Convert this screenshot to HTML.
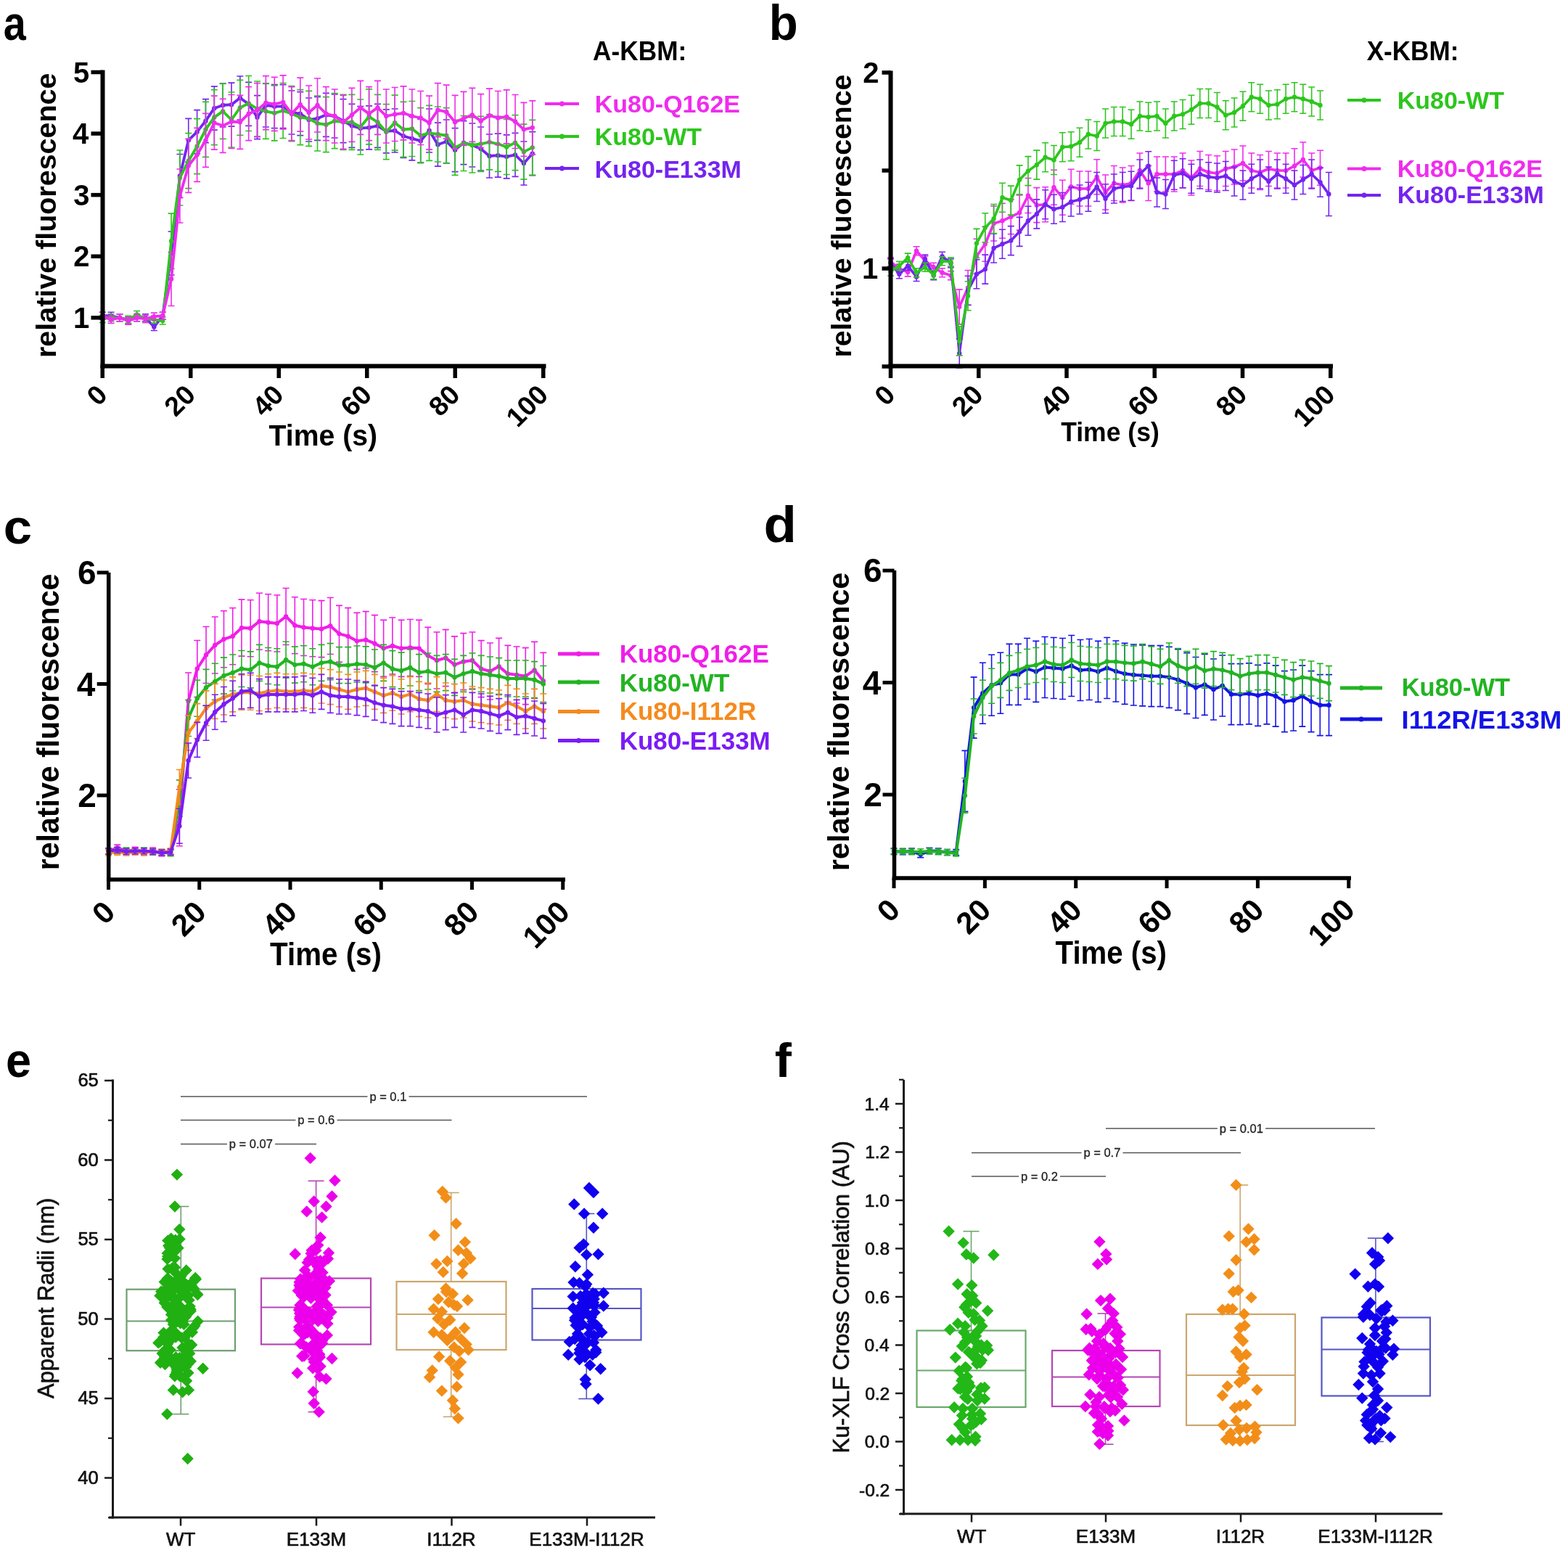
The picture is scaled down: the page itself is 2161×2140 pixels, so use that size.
<!DOCTYPE html>
<html><head><meta charset="utf-8"><style>html,body{margin:0;padding:0;background:#fff;overflow:hidden}svg{display:block}</style></head><body>
<svg width="2161" height="2140" viewBox="0 0 2161 2140" font-family="'Liberation Sans', Arial, sans-serif">
<rect width="2161" height="2140" fill="#fff"/>
<path d="M141.25 440.26V430.26M136.75 440.26h9M136.75 430.26h9" stroke="#7424f0" stroke-width="1.6" fill="none"/>
<path d="M153.1 440.26V430.26M148.6 440.26h9M148.6 430.26h9" stroke="#7424f0" stroke-width="1.6" fill="none"/>
<path d="M164.95 442.8V432.8M160.45 442.8h9M160.45 432.8h9" stroke="#7424f0" stroke-width="1.6" fill="none"/>
<path d="M176.8 447.03V437.03M172.3 447.03h9M172.3 437.03h9" stroke="#7424f0" stroke-width="1.6" fill="none"/>
<path d="M188.65 442.8V432.8M184.15 442.8h9M184.15 432.8h9" stroke="#7424f0" stroke-width="1.6" fill="none"/>
<path d="M200.5 442.8V432.8M196 442.8h9M196 432.8h9" stroke="#7424f0" stroke-width="1.6" fill="none"/>
<path d="M212.35 455.49V445.49M207.85 455.49h9M207.85 445.49h9" stroke="#7424f0" stroke-width="1.6" fill="none"/>
<path d="M224.2 440.26V430.26M219.7 440.26h9M219.7 430.26h9" stroke="#7424f0" stroke-width="1.6" fill="none"/>
<path d="M236.05 379V319M231.55 379h9M231.55 319h9" stroke="#7424f0" stroke-width="1.6" fill="none"/>
<path d="M247.9 272.5V212.5M243.4 272.5h9M243.4 212.5h9" stroke="#7424f0" stroke-width="1.6" fill="none"/>
<path d="M259.75 223.33V163.33M255.25 223.33h9M255.25 163.33h9" stroke="#7424f0" stroke-width="1.6" fill="none"/>
<path d="M271.6 211.67V151.67M267.1 211.67h9M267.1 151.67h9" stroke="#7424f0" stroke-width="1.6" fill="none"/>
<path d="M283.45 196.67V136.67M278.95 196.67h9M278.95 136.67h9" stroke="#7424f0" stroke-width="1.6" fill="none"/>
<path d="M295.3 179.17V119.17M290.8 179.17h9M290.8 119.17h9" stroke="#7424f0" stroke-width="1.6" fill="none"/>
<path d="M307.15 175V115M302.65 175h9M302.65 115h9" stroke="#7424f0" stroke-width="1.6" fill="none"/>
<path d="M319 174.17V114.17M314.5 174.17h9M314.5 114.17h9" stroke="#7424f0" stroke-width="1.6" fill="none"/>
<path d="M330.85 165V105M326.35 165h9M326.35 105h9" stroke="#7424f0" stroke-width="1.6" fill="none"/>
<path d="M342.7 173.33V113.33M338.2 173.33h9M338.2 113.33h9" stroke="#7424f0" stroke-width="1.6" fill="none"/>
<path d="M354.55 191.67V131.67M350.05 191.67h9M350.05 131.67h9" stroke="#7424f0" stroke-width="1.6" fill="none"/>
<path d="M366.4 175V115M361.9 175h9M361.9 115h9" stroke="#7424f0" stroke-width="1.6" fill="none"/>
<path d="M378.25 176.67V116.67M373.75 176.67h9M373.75 116.67h9" stroke="#7424f0" stroke-width="1.6" fill="none"/>
<path d="M390.1 176.67V116.67M385.6 176.67h9M385.6 116.67h9" stroke="#7424f0" stroke-width="1.6" fill="none"/>
<path d="M401.95 185V125M397.45 185h9M397.45 125h9" stroke="#7424f0" stroke-width="1.6" fill="none"/>
<path d="M413.8 186.67V126.67M409.3 186.67h9M409.3 126.67h9" stroke="#7424f0" stroke-width="1.6" fill="none"/>
<path d="M425.65 195V135M421.15 195h9M421.15 135h9" stroke="#7424f0" stroke-width="1.6" fill="none"/>
<path d="M437.5 193.33V133.33M433 193.33h9M433 133.33h9" stroke="#7424f0" stroke-width="1.6" fill="none"/>
<path d="M449.35 188.33V128.33M444.85 188.33h9M444.85 128.33h9" stroke="#7424f0" stroke-width="1.6" fill="none"/>
<path d="M461.2 190V130M456.7 190h9M456.7 130h9" stroke="#7424f0" stroke-width="1.6" fill="none"/>
<path d="M473.05 196.67V136.67M468.55 196.67h9M468.55 136.67h9" stroke="#7424f0" stroke-width="1.6" fill="none"/>
<path d="M484.9 203.33V143.33M480.4 203.33h9M480.4 143.33h9" stroke="#7424f0" stroke-width="1.6" fill="none"/>
<path d="M496.75 206.67V146.67M492.25 206.67h9M492.25 146.67h9" stroke="#7424f0" stroke-width="1.6" fill="none"/>
<path d="M508.6 205.83V145.83M504.1 205.83h9M504.1 145.83h9" stroke="#7424f0" stroke-width="1.6" fill="none"/>
<path d="M520.45 203.33V143.33M515.95 203.33h9M515.95 143.33h9" stroke="#7424f0" stroke-width="1.6" fill="none"/>
<path d="M532.3 210.83V150.83M527.8 210.83h9M527.8 150.83h9" stroke="#7424f0" stroke-width="1.6" fill="none"/>
<path d="M544.15 210V150M539.65 210h9M539.65 150h9" stroke="#7424f0" stroke-width="1.6" fill="none"/>
<path d="M556 217.5V157.5M551.5 217.5h9M551.5 157.5h9" stroke="#7424f0" stroke-width="1.6" fill="none"/>
<path d="M567.85 220.83V160.83M563.35 220.83h9M563.35 160.83h9" stroke="#7424f0" stroke-width="1.6" fill="none"/>
<path d="M579.7 224.17V164.17M575.2 224.17h9M575.2 164.17h9" stroke="#7424f0" stroke-width="1.6" fill="none"/>
<path d="M591.55 210V150M587.05 210h9M587.05 150h9" stroke="#7424f0" stroke-width="1.6" fill="none"/>
<path d="M603.4 229.17V169.17M598.9 229.17h9M598.9 169.17h9" stroke="#7424f0" stroke-width="1.6" fill="none"/>
<path d="M615.25 225V165M610.75 225h9M610.75 165h9" stroke="#7424f0" stroke-width="1.6" fill="none"/>
<path d="M627.1 236.67V176.67M622.6 236.67h9M622.6 176.67h9" stroke="#7424f0" stroke-width="1.6" fill="none"/>
<path d="M638.95 226.67V166.67M634.45 226.67h9M634.45 166.67h9" stroke="#7424f0" stroke-width="1.6" fill="none"/>
<path d="M650.8 230V170M646.3 230h9M646.3 170h9" stroke="#7424f0" stroke-width="1.6" fill="none"/>
<path d="M662.65 235V175M658.15 235h9M658.15 175h9" stroke="#7424f0" stroke-width="1.6" fill="none"/>
<path d="M674.5 245V185M670 245h9M670 185h9" stroke="#7424f0" stroke-width="1.6" fill="none"/>
<path d="M686.35 244.17V184.17M681.85 244.17h9M681.85 184.17h9" stroke="#7424f0" stroke-width="1.6" fill="none"/>
<path d="M698.2 245.83V185.83M693.7 245.83h9M693.7 185.83h9" stroke="#7424f0" stroke-width="1.6" fill="none"/>
<path d="M710.05 243.33V183.33M705.55 243.33h9M705.55 183.33h9" stroke="#7424f0" stroke-width="1.6" fill="none"/>
<path d="M721.9 255V195M717.4 255h9M717.4 195h9" stroke="#7424f0" stroke-width="1.6" fill="none"/>
<path d="M733.75 241.67V181.67M729.25 241.67h9M729.25 181.67h9" stroke="#7424f0" stroke-width="1.6" fill="none"/>
<polyline points="141.25,435.26 153.1,435.26 164.95,437.8 176.8,442.03 188.65,437.8 200.5,437.8 212.35,450.49 224.2,435.26 236.05,349 247.9,242.5 259.75,193.33 271.6,181.67 283.45,166.67 295.3,149.17 307.15,145 319,144.17 330.85,135 342.7,143.33 354.55,161.67 366.4,145 378.25,146.67 390.1,146.67 401.95,155 413.8,156.67 425.65,165 437.5,163.33 449.35,158.33 461.2,160 473.05,166.67 484.9,173.33 496.75,176.67 508.6,175.83 520.45,173.33 532.3,180.83 544.15,180 556,187.5 567.85,190.83 579.7,194.17 591.55,180 603.4,199.17 615.25,195 627.1,206.67 638.95,196.67 650.8,200 662.65,205 674.5,215 686.35,214.17 698.2,215.83 710.05,213.33 721.9,225 733.75,211.67" fill="none" stroke="#7424f0" stroke-width="3.8" stroke-linejoin="round"/>
<circle cx="141.25" cy="435.26" r="3.2" fill="#7424f0"/>
<circle cx="153.1" cy="435.26" r="3.2" fill="#7424f0"/>
<circle cx="164.95" cy="437.8" r="3.2" fill="#7424f0"/>
<circle cx="176.8" cy="442.03" r="3.2" fill="#7424f0"/>
<circle cx="188.65" cy="437.8" r="3.2" fill="#7424f0"/>
<circle cx="200.5" cy="437.8" r="3.2" fill="#7424f0"/>
<circle cx="212.35" cy="450.49" r="3.2" fill="#7424f0"/>
<circle cx="224.2" cy="435.26" r="3.2" fill="#7424f0"/>
<circle cx="236.05" cy="349" r="3.2" fill="#7424f0"/>
<circle cx="247.9" cy="242.5" r="3.2" fill="#7424f0"/>
<circle cx="259.75" cy="193.33" r="3.2" fill="#7424f0"/>
<circle cx="271.6" cy="181.67" r="3.2" fill="#7424f0"/>
<circle cx="283.45" cy="166.67" r="3.2" fill="#7424f0"/>
<circle cx="295.3" cy="149.17" r="3.2" fill="#7424f0"/>
<circle cx="307.15" cy="145" r="3.2" fill="#7424f0"/>
<circle cx="319" cy="144.17" r="3.2" fill="#7424f0"/>
<circle cx="330.85" cy="135" r="3.2" fill="#7424f0"/>
<circle cx="342.7" cy="143.33" r="3.2" fill="#7424f0"/>
<circle cx="354.55" cy="161.67" r="3.2" fill="#7424f0"/>
<circle cx="366.4" cy="145" r="3.2" fill="#7424f0"/>
<circle cx="378.25" cy="146.67" r="3.2" fill="#7424f0"/>
<circle cx="390.1" cy="146.67" r="3.2" fill="#7424f0"/>
<circle cx="401.95" cy="155" r="3.2" fill="#7424f0"/>
<circle cx="413.8" cy="156.67" r="3.2" fill="#7424f0"/>
<circle cx="425.65" cy="165" r="3.2" fill="#7424f0"/>
<circle cx="437.5" cy="163.33" r="3.2" fill="#7424f0"/>
<circle cx="449.35" cy="158.33" r="3.2" fill="#7424f0"/>
<circle cx="461.2" cy="160" r="3.2" fill="#7424f0"/>
<circle cx="473.05" cy="166.67" r="3.2" fill="#7424f0"/>
<circle cx="484.9" cy="173.33" r="3.2" fill="#7424f0"/>
<circle cx="496.75" cy="176.67" r="3.2" fill="#7424f0"/>
<circle cx="508.6" cy="175.83" r="3.2" fill="#7424f0"/>
<circle cx="520.45" cy="173.33" r="3.2" fill="#7424f0"/>
<circle cx="532.3" cy="180.83" r="3.2" fill="#7424f0"/>
<circle cx="544.15" cy="180" r="3.2" fill="#7424f0"/>
<circle cx="556" cy="187.5" r="3.2" fill="#7424f0"/>
<circle cx="567.85" cy="190.83" r="3.2" fill="#7424f0"/>
<circle cx="579.7" cy="194.17" r="3.2" fill="#7424f0"/>
<circle cx="591.55" cy="180" r="3.2" fill="#7424f0"/>
<circle cx="603.4" cy="199.17" r="3.2" fill="#7424f0"/>
<circle cx="615.25" cy="195" r="3.2" fill="#7424f0"/>
<circle cx="627.1" cy="206.67" r="3.2" fill="#7424f0"/>
<circle cx="638.95" cy="196.67" r="3.2" fill="#7424f0"/>
<circle cx="650.8" cy="200" r="3.2" fill="#7424f0"/>
<circle cx="662.65" cy="205" r="3.2" fill="#7424f0"/>
<circle cx="674.5" cy="215" r="3.2" fill="#7424f0"/>
<circle cx="686.35" cy="214.17" r="3.2" fill="#7424f0"/>
<circle cx="698.2" cy="215.83" r="3.2" fill="#7424f0"/>
<circle cx="710.05" cy="213.33" r="3.2" fill="#7424f0"/>
<circle cx="721.9" cy="225" r="3.2" fill="#7424f0"/>
<circle cx="733.75" cy="211.67" r="3.2" fill="#7424f0"/>
<path d="M141.25 444.49V434.49M136.75 444.49h9M136.75 434.49h9" stroke="#2cc61c" stroke-width="1.6" fill="none"/>
<path d="M153.1 442.8V432.8M148.6 442.8h9M148.6 432.8h9" stroke="#2cc61c" stroke-width="1.6" fill="none"/>
<path d="M164.95 442.8V432.8M160.45 442.8h9M160.45 432.8h9" stroke="#2cc61c" stroke-width="1.6" fill="none"/>
<path d="M176.8 445.34V435.34M172.3 445.34h9M172.3 435.34h9" stroke="#2cc61c" stroke-width="1.6" fill="none"/>
<path d="M188.65 438.57V428.57M184.15 438.57h9M184.15 428.57h9" stroke="#2cc61c" stroke-width="1.6" fill="none"/>
<path d="M200.5 444.49V434.49M196 444.49h9M196 434.49h9" stroke="#2cc61c" stroke-width="1.6" fill="none"/>
<path d="M212.35 445.34V435.34M207.85 445.34h9M207.85 435.34h9" stroke="#2cc61c" stroke-width="1.6" fill="none"/>
<path d="M224.2 447.03V437.03M219.7 447.03h9M219.7 437.03h9" stroke="#2cc61c" stroke-width="1.6" fill="none"/>
<path d="M236.05 370.08V294.08M231.55 370.08h9M231.55 294.08h9" stroke="#2cc61c" stroke-width="1.6" fill="none"/>
<path d="M247.9 283V207M243.4 283h9M243.4 207h9" stroke="#2cc61c" stroke-width="1.6" fill="none"/>
<path d="M259.75 259.67V183.67M255.25 259.67h9M255.25 183.67h9" stroke="#2cc61c" stroke-width="1.6" fill="none"/>
<path d="M271.6 239.67V163.67M267.1 239.67h9M267.1 163.67h9" stroke="#2cc61c" stroke-width="1.6" fill="none"/>
<path d="M283.45 216.33V140.33M278.95 216.33h9M278.95 140.33h9" stroke="#2cc61c" stroke-width="1.6" fill="none"/>
<path d="M295.3 199.67V123.67M290.8 199.67h9M290.8 123.67h9" stroke="#2cc61c" stroke-width="1.6" fill="none"/>
<path d="M307.15 191.33V115.33M302.65 191.33h9M302.65 115.33h9" stroke="#2cc61c" stroke-width="1.6" fill="none"/>
<path d="M319 203V127M314.5 203h9M314.5 127h9" stroke="#2cc61c" stroke-width="1.6" fill="none"/>
<path d="M330.85 186.33V110.33M326.35 186.33h9M326.35 110.33h9" stroke="#2cc61c" stroke-width="1.6" fill="none"/>
<path d="M342.7 180.5V104.5M338.2 180.5h9M338.2 104.5h9" stroke="#2cc61c" stroke-width="1.6" fill="none"/>
<path d="M354.55 188V112M350.05 188h9M350.05 112h9" stroke="#2cc61c" stroke-width="1.6" fill="none"/>
<path d="M366.4 191.33V115.33M361.9 191.33h9M361.9 115.33h9" stroke="#2cc61c" stroke-width="1.6" fill="none"/>
<path d="M378.25 193.83V117.83M373.75 193.83h9M373.75 117.83h9" stroke="#2cc61c" stroke-width="1.6" fill="none"/>
<path d="M390.1 190.5V114.5M385.6 190.5h9M385.6 114.5h9" stroke="#2cc61c" stroke-width="1.6" fill="none"/>
<path d="M401.95 194.67V118.67M397.45 194.67h9M397.45 118.67h9" stroke="#2cc61c" stroke-width="1.6" fill="none"/>
<path d="M413.8 199.67V123.67M409.3 199.67h9M409.3 123.67h9" stroke="#2cc61c" stroke-width="1.6" fill="none"/>
<path d="M425.65 201.33V125.33M421.15 201.33h9M421.15 125.33h9" stroke="#2cc61c" stroke-width="1.6" fill="none"/>
<path d="M437.5 208V132M433 208h9M433 132h9" stroke="#2cc61c" stroke-width="1.6" fill="none"/>
<path d="M449.35 209.67V133.67M444.85 209.67h9M444.85 133.67h9" stroke="#2cc61c" stroke-width="1.6" fill="none"/>
<path d="M461.2 204.67V128.67M456.7 204.67h9M456.7 128.67h9" stroke="#2cc61c" stroke-width="1.6" fill="none"/>
<path d="M473.05 206.33V130.33M468.55 206.33h9M468.55 130.33h9" stroke="#2cc61c" stroke-width="1.6" fill="none"/>
<path d="M484.9 206.33V130.33M480.4 206.33h9M480.4 130.33h9" stroke="#2cc61c" stroke-width="1.6" fill="none"/>
<path d="M496.75 213V137M492.25 213h9M492.25 137h9" stroke="#2cc61c" stroke-width="1.6" fill="none"/>
<path d="M508.6 198.83V122.83M504.1 198.83h9M504.1 122.83h9" stroke="#2cc61c" stroke-width="1.6" fill="none"/>
<path d="M520.45 206.33V130.33M515.95 206.33h9M515.95 130.33h9" stroke="#2cc61c" stroke-width="1.6" fill="none"/>
<path d="M532.3 219.67V143.67M527.8 219.67h9M527.8 143.67h9" stroke="#2cc61c" stroke-width="1.6" fill="none"/>
<path d="M544.15 207.17V131.17M539.65 207.17h9M539.65 131.17h9" stroke="#2cc61c" stroke-width="1.6" fill="none"/>
<path d="M556 216.33V140.33M551.5 216.33h9M551.5 140.33h9" stroke="#2cc61c" stroke-width="1.6" fill="none"/>
<path d="M567.85 215.5V139.5M563.35 215.5h9M563.35 139.5h9" stroke="#2cc61c" stroke-width="1.6" fill="none"/>
<path d="M579.7 224.67V148.67M575.2 224.67h9M575.2 148.67h9" stroke="#2cc61c" stroke-width="1.6" fill="none"/>
<path d="M591.55 221.33V145.33M587.05 221.33h9M587.05 145.33h9" stroke="#2cc61c" stroke-width="1.6" fill="none"/>
<path d="M603.4 223V147M598.9 223h9M598.9 147h9" stroke="#2cc61c" stroke-width="1.6" fill="none"/>
<path d="M615.25 224.67V148.67M610.75 224.67h9M610.75 148.67h9" stroke="#2cc61c" stroke-width="1.6" fill="none"/>
<path d="M627.1 241.33V165.33M622.6 241.33h9M622.6 165.33h9" stroke="#2cc61c" stroke-width="1.6" fill="none"/>
<path d="M638.95 235.5V159.5M634.45 235.5h9M634.45 159.5h9" stroke="#2cc61c" stroke-width="1.6" fill="none"/>
<path d="M650.8 238V162M646.3 238h9M646.3 162h9" stroke="#2cc61c" stroke-width="1.6" fill="none"/>
<path d="M662.65 236.33V160.33M658.15 236.33h9M658.15 160.33h9" stroke="#2cc61c" stroke-width="1.6" fill="none"/>
<path d="M674.5 233.83V157.83M670 233.83h9M670 157.83h9" stroke="#2cc61c" stroke-width="1.6" fill="none"/>
<path d="M686.35 236.33V160.33M681.85 236.33h9M681.85 160.33h9" stroke="#2cc61c" stroke-width="1.6" fill="none"/>
<path d="M698.2 240.5V164.5M693.7 240.5h9M693.7 164.5h9" stroke="#2cc61c" stroke-width="1.6" fill="none"/>
<path d="M710.05 234.67V158.67M705.55 234.67h9M705.55 158.67h9" stroke="#2cc61c" stroke-width="1.6" fill="none"/>
<path d="M721.9 247.17V171.17M717.4 247.17h9M717.4 171.17h9" stroke="#2cc61c" stroke-width="1.6" fill="none"/>
<path d="M733.75 241.33V165.33M729.25 241.33h9M729.25 165.33h9" stroke="#2cc61c" stroke-width="1.6" fill="none"/>
<polyline points="141.25,439.49 153.1,437.8 164.95,437.8 176.8,440.34 188.65,433.57 200.5,439.49 212.35,440.34 224.2,442.03 236.05,332.08 247.9,245 259.75,221.67 271.6,201.67 283.45,178.33 295.3,161.67 307.15,153.33 319,165 330.85,148.33 342.7,142.5 354.55,150 366.4,153.33 378.25,155.83 390.1,152.5 401.95,156.67 413.8,161.67 425.65,163.33 437.5,170 449.35,171.67 461.2,166.67 473.05,168.33 484.9,168.33 496.75,175 508.6,160.83 520.45,168.33 532.3,181.67 544.15,169.17 556,178.33 567.85,177.5 579.7,186.67 591.55,183.33 603.4,185 615.25,186.67 627.1,203.33 638.95,197.5 650.8,200 662.65,198.33 674.5,195.83 686.35,198.33 698.2,202.5 710.05,196.67 721.9,209.17 733.75,203.33" fill="none" stroke="#2cc61c" stroke-width="3.8" stroke-linejoin="round"/>
<circle cx="141.25" cy="439.49" r="3.2" fill="#2cc61c"/>
<circle cx="153.1" cy="437.8" r="3.2" fill="#2cc61c"/>
<circle cx="164.95" cy="437.8" r="3.2" fill="#2cc61c"/>
<circle cx="176.8" cy="440.34" r="3.2" fill="#2cc61c"/>
<circle cx="188.65" cy="433.57" r="3.2" fill="#2cc61c"/>
<circle cx="200.5" cy="439.49" r="3.2" fill="#2cc61c"/>
<circle cx="212.35" cy="440.34" r="3.2" fill="#2cc61c"/>
<circle cx="224.2" cy="442.03" r="3.2" fill="#2cc61c"/>
<circle cx="236.05" cy="332.08" r="3.2" fill="#2cc61c"/>
<circle cx="247.9" cy="245" r="3.2" fill="#2cc61c"/>
<circle cx="259.75" cy="221.67" r="3.2" fill="#2cc61c"/>
<circle cx="271.6" cy="201.67" r="3.2" fill="#2cc61c"/>
<circle cx="283.45" cy="178.33" r="3.2" fill="#2cc61c"/>
<circle cx="295.3" cy="161.67" r="3.2" fill="#2cc61c"/>
<circle cx="307.15" cy="153.33" r="3.2" fill="#2cc61c"/>
<circle cx="319" cy="165" r="3.2" fill="#2cc61c"/>
<circle cx="330.85" cy="148.33" r="3.2" fill="#2cc61c"/>
<circle cx="342.7" cy="142.5" r="3.2" fill="#2cc61c"/>
<circle cx="354.55" cy="150" r="3.2" fill="#2cc61c"/>
<circle cx="366.4" cy="153.33" r="3.2" fill="#2cc61c"/>
<circle cx="378.25" cy="155.83" r="3.2" fill="#2cc61c"/>
<circle cx="390.1" cy="152.5" r="3.2" fill="#2cc61c"/>
<circle cx="401.95" cy="156.67" r="3.2" fill="#2cc61c"/>
<circle cx="413.8" cy="161.67" r="3.2" fill="#2cc61c"/>
<circle cx="425.65" cy="163.33" r="3.2" fill="#2cc61c"/>
<circle cx="437.5" cy="170" r="3.2" fill="#2cc61c"/>
<circle cx="449.35" cy="171.67" r="3.2" fill="#2cc61c"/>
<circle cx="461.2" cy="166.67" r="3.2" fill="#2cc61c"/>
<circle cx="473.05" cy="168.33" r="3.2" fill="#2cc61c"/>
<circle cx="484.9" cy="168.33" r="3.2" fill="#2cc61c"/>
<circle cx="496.75" cy="175" r="3.2" fill="#2cc61c"/>
<circle cx="508.6" cy="160.83" r="3.2" fill="#2cc61c"/>
<circle cx="520.45" cy="168.33" r="3.2" fill="#2cc61c"/>
<circle cx="532.3" cy="181.67" r="3.2" fill="#2cc61c"/>
<circle cx="544.15" cy="169.17" r="3.2" fill="#2cc61c"/>
<circle cx="556" cy="178.33" r="3.2" fill="#2cc61c"/>
<circle cx="567.85" cy="177.5" r="3.2" fill="#2cc61c"/>
<circle cx="579.7" cy="186.67" r="3.2" fill="#2cc61c"/>
<circle cx="591.55" cy="183.33" r="3.2" fill="#2cc61c"/>
<circle cx="603.4" cy="185" r="3.2" fill="#2cc61c"/>
<circle cx="615.25" cy="186.67" r="3.2" fill="#2cc61c"/>
<circle cx="627.1" cy="203.33" r="3.2" fill="#2cc61c"/>
<circle cx="638.95" cy="197.5" r="3.2" fill="#2cc61c"/>
<circle cx="650.8" cy="200" r="3.2" fill="#2cc61c"/>
<circle cx="662.65" cy="198.33" r="3.2" fill="#2cc61c"/>
<circle cx="674.5" cy="195.83" r="3.2" fill="#2cc61c"/>
<circle cx="686.35" cy="198.33" r="3.2" fill="#2cc61c"/>
<circle cx="698.2" cy="202.5" r="3.2" fill="#2cc61c"/>
<circle cx="710.05" cy="196.67" r="3.2" fill="#2cc61c"/>
<circle cx="721.9" cy="209.17" r="3.2" fill="#2cc61c"/>
<circle cx="733.75" cy="203.33" r="3.2" fill="#2cc61c"/>
<path d="M141.25 440.26V430.26M136.75 440.26h9M136.75 430.26h9" stroke="#f02cee" stroke-width="1.6" fill="none"/>
<path d="M153.1 445.34V435.34M148.6 445.34h9M148.6 435.34h9" stroke="#f02cee" stroke-width="1.6" fill="none"/>
<path d="M164.95 442.8V432.8M160.45 442.8h9M160.45 432.8h9" stroke="#f02cee" stroke-width="1.6" fill="none"/>
<path d="M176.8 447.03V437.03M172.3 447.03h9M172.3 437.03h9" stroke="#f02cee" stroke-width="1.6" fill="none"/>
<path d="M188.65 442.8V432.8M184.15 442.8h9M184.15 432.8h9" stroke="#f02cee" stroke-width="1.6" fill="none"/>
<path d="M200.5 444.49V434.49M196 444.49h9M196 434.49h9" stroke="#f02cee" stroke-width="1.6" fill="none"/>
<path d="M212.35 441.11V431.11M207.85 441.11h9M207.85 431.11h9" stroke="#f02cee" stroke-width="1.6" fill="none"/>
<path d="M224.2 440.26V430.26M219.7 440.26h9M219.7 430.26h9" stroke="#f02cee" stroke-width="1.6" fill="none"/>
<path d="M236.05 421.52V347.52M231.55 421.52h9M231.55 347.52h9" stroke="#f02cee" stroke-width="1.6" fill="none"/>
<path d="M247.9 307V233M243.4 307h9M243.4 233h9" stroke="#f02cee" stroke-width="1.6" fill="none"/>
<path d="M259.75 265.33V191.33M255.25 265.33h9M255.25 191.33h9" stroke="#f02cee" stroke-width="1.6" fill="none"/>
<path d="M271.6 250.33V176.33M267.1 250.33h9M267.1 176.33h9" stroke="#f02cee" stroke-width="1.6" fill="none"/>
<path d="M283.45 230.33V156.33M278.95 230.33h9M278.95 156.33h9" stroke="#f02cee" stroke-width="1.6" fill="none"/>
<path d="M295.3 206.17V132.17M290.8 206.17h9M290.8 132.17h9" stroke="#f02cee" stroke-width="1.6" fill="none"/>
<path d="M307.15 210.33V136.33M302.65 210.33h9M302.65 136.33h9" stroke="#f02cee" stroke-width="1.6" fill="none"/>
<path d="M319 204.5V130.5M314.5 204.5h9M314.5 130.5h9" stroke="#f02cee" stroke-width="1.6" fill="none"/>
<path d="M330.85 205.33V131.33M326.35 205.33h9M326.35 131.33h9" stroke="#f02cee" stroke-width="1.6" fill="none"/>
<path d="M342.7 193.67V119.67M338.2 193.67h9M338.2 119.67h9" stroke="#f02cee" stroke-width="1.6" fill="none"/>
<path d="M354.55 188.67V114.67M350.05 188.67h9M350.05 114.67h9" stroke="#f02cee" stroke-width="1.6" fill="none"/>
<path d="M366.4 178.67V104.67M361.9 178.67h9M361.9 104.67h9" stroke="#f02cee" stroke-width="1.6" fill="none"/>
<path d="M378.25 180.33V106.33M373.75 180.33h9M373.75 106.33h9" stroke="#f02cee" stroke-width="1.6" fill="none"/>
<path d="M390.1 177.83V103.83M385.6 177.83h9M385.6 103.83h9" stroke="#f02cee" stroke-width="1.6" fill="none"/>
<path d="M401.95 193.67V119.67M397.45 193.67h9M397.45 119.67h9" stroke="#f02cee" stroke-width="1.6" fill="none"/>
<path d="M413.8 181.17V107.17M409.3 181.17h9M409.3 107.17h9" stroke="#f02cee" stroke-width="1.6" fill="none"/>
<path d="M425.65 192V118M421.15 192h9M421.15 118h9" stroke="#f02cee" stroke-width="1.6" fill="none"/>
<path d="M437.5 182V108M433 182h9M433 108h9" stroke="#f02cee" stroke-width="1.6" fill="none"/>
<path d="M449.35 193.67V119.67M444.85 193.67h9M444.85 119.67h9" stroke="#f02cee" stroke-width="1.6" fill="none"/>
<path d="M461.2 197V123M456.7 197h9M456.7 123h9" stroke="#f02cee" stroke-width="1.6" fill="none"/>
<path d="M473.05 205.33V131.33M468.55 205.33h9M468.55 131.33h9" stroke="#f02cee" stroke-width="1.6" fill="none"/>
<path d="M484.9 195.33V121.33M480.4 195.33h9M480.4 121.33h9" stroke="#f02cee" stroke-width="1.6" fill="none"/>
<path d="M496.75 185.33V111.33M492.25 185.33h9M492.25 111.33h9" stroke="#f02cee" stroke-width="1.6" fill="none"/>
<path d="M508.6 193.67V119.67M504.1 193.67h9M504.1 119.67h9" stroke="#f02cee" stroke-width="1.6" fill="none"/>
<path d="M520.45 185.33V111.33M515.95 185.33h9M515.95 111.33h9" stroke="#f02cee" stroke-width="1.6" fill="none"/>
<path d="M532.3 197V123M527.8 197h9M527.8 123h9" stroke="#f02cee" stroke-width="1.6" fill="none"/>
<path d="M544.15 194.5V120.5M539.65 194.5h9M539.65 120.5h9" stroke="#f02cee" stroke-width="1.6" fill="none"/>
<path d="M556 192.83V118.83M551.5 192.83h9M551.5 118.83h9" stroke="#f02cee" stroke-width="1.6" fill="none"/>
<path d="M567.85 197V123M563.35 197h9M563.35 123h9" stroke="#f02cee" stroke-width="1.6" fill="none"/>
<path d="M579.7 199.5V125.5M575.2 199.5h9M575.2 125.5h9" stroke="#f02cee" stroke-width="1.6" fill="none"/>
<path d="M591.55 206.17V132.17M587.05 206.17h9M587.05 132.17h9" stroke="#f02cee" stroke-width="1.6" fill="none"/>
<path d="M603.4 188.67V114.67M598.9 188.67h9M598.9 114.67h9" stroke="#f02cee" stroke-width="1.6" fill="none"/>
<path d="M615.25 191.17V117.17M610.75 191.17h9M610.75 117.17h9" stroke="#f02cee" stroke-width="1.6" fill="none"/>
<path d="M627.1 205.33V131.33M622.6 205.33h9M622.6 131.33h9" stroke="#f02cee" stroke-width="1.6" fill="none"/>
<path d="M638.95 200.33V126.33M634.45 200.33h9M634.45 126.33h9" stroke="#f02cee" stroke-width="1.6" fill="none"/>
<path d="M650.8 195.33V121.33M646.3 195.33h9M646.3 121.33h9" stroke="#f02cee" stroke-width="1.6" fill="none"/>
<path d="M662.65 203.67V129.67M658.15 203.67h9M658.15 129.67h9" stroke="#f02cee" stroke-width="1.6" fill="none"/>
<path d="M674.5 196.17V122.17M670 196.17h9M670 122.17h9" stroke="#f02cee" stroke-width="1.6" fill="none"/>
<path d="M686.35 199.5V125.5M681.85 199.5h9M681.85 125.5h9" stroke="#f02cee" stroke-width="1.6" fill="none"/>
<path d="M698.2 197.83V123.83M693.7 197.83h9M693.7 123.83h9" stroke="#f02cee" stroke-width="1.6" fill="none"/>
<path d="M710.05 204.5V130.5M705.55 204.5h9M705.55 130.5h9" stroke="#f02cee" stroke-width="1.6" fill="none"/>
<path d="M721.9 215.33V141.33M717.4 215.33h9M717.4 141.33h9" stroke="#f02cee" stroke-width="1.6" fill="none"/>
<path d="M733.75 212.83V138.83M729.25 212.83h9M729.25 138.83h9" stroke="#f02cee" stroke-width="1.6" fill="none"/>
<polyline points="141.25,435.26 153.1,440.34 164.95,437.8 176.8,442.03 188.65,437.8 200.5,439.49 212.35,436.11 224.2,435.26 236.05,384.52 247.9,270 259.75,228.33 271.6,213.33 283.45,193.33 295.3,169.17 307.15,173.33 319,167.5 330.85,168.33 342.7,156.67 354.55,151.67 366.4,141.67 378.25,143.33 390.1,140.83 401.95,156.67 413.8,144.17 425.65,155 437.5,145 449.35,156.67 461.2,160 473.05,168.33 484.9,158.33 496.75,148.33 508.6,156.67 520.45,148.33 532.3,160 544.15,157.5 556,155.83 567.85,160 579.7,162.5 591.55,169.17 603.4,151.67 615.25,154.17 627.1,168.33 638.95,163.33 650.8,158.33 662.65,166.67 674.5,159.17 686.35,162.5 698.2,160.83 710.05,167.5 721.9,178.33 733.75,175.83" fill="none" stroke="#f02cee" stroke-width="3.8" stroke-linejoin="round"/>
<circle cx="141.25" cy="435.26" r="3.2" fill="#f02cee"/>
<circle cx="153.1" cy="440.34" r="3.2" fill="#f02cee"/>
<circle cx="164.95" cy="437.8" r="3.2" fill="#f02cee"/>
<circle cx="176.8" cy="442.03" r="3.2" fill="#f02cee"/>
<circle cx="188.65" cy="437.8" r="3.2" fill="#f02cee"/>
<circle cx="200.5" cy="439.49" r="3.2" fill="#f02cee"/>
<circle cx="212.35" cy="436.11" r="3.2" fill="#f02cee"/>
<circle cx="224.2" cy="435.26" r="3.2" fill="#f02cee"/>
<circle cx="236.05" cy="384.52" r="3.2" fill="#f02cee"/>
<circle cx="247.9" cy="270" r="3.2" fill="#f02cee"/>
<circle cx="259.75" cy="228.33" r="3.2" fill="#f02cee"/>
<circle cx="271.6" cy="213.33" r="3.2" fill="#f02cee"/>
<circle cx="283.45" cy="193.33" r="3.2" fill="#f02cee"/>
<circle cx="295.3" cy="169.17" r="3.2" fill="#f02cee"/>
<circle cx="307.15" cy="173.33" r="3.2" fill="#f02cee"/>
<circle cx="319" cy="167.5" r="3.2" fill="#f02cee"/>
<circle cx="330.85" cy="168.33" r="3.2" fill="#f02cee"/>
<circle cx="342.7" cy="156.67" r="3.2" fill="#f02cee"/>
<circle cx="354.55" cy="151.67" r="3.2" fill="#f02cee"/>
<circle cx="366.4" cy="141.67" r="3.2" fill="#f02cee"/>
<circle cx="378.25" cy="143.33" r="3.2" fill="#f02cee"/>
<circle cx="390.1" cy="140.83" r="3.2" fill="#f02cee"/>
<circle cx="401.95" cy="156.67" r="3.2" fill="#f02cee"/>
<circle cx="413.8" cy="144.17" r="3.2" fill="#f02cee"/>
<circle cx="425.65" cy="155" r="3.2" fill="#f02cee"/>
<circle cx="437.5" cy="145" r="3.2" fill="#f02cee"/>
<circle cx="449.35" cy="156.67" r="3.2" fill="#f02cee"/>
<circle cx="461.2" cy="160" r="3.2" fill="#f02cee"/>
<circle cx="473.05" cy="168.33" r="3.2" fill="#f02cee"/>
<circle cx="484.9" cy="158.33" r="3.2" fill="#f02cee"/>
<circle cx="496.75" cy="148.33" r="3.2" fill="#f02cee"/>
<circle cx="508.6" cy="156.67" r="3.2" fill="#f02cee"/>
<circle cx="520.45" cy="148.33" r="3.2" fill="#f02cee"/>
<circle cx="532.3" cy="160" r="3.2" fill="#f02cee"/>
<circle cx="544.15" cy="157.5" r="3.2" fill="#f02cee"/>
<circle cx="556" cy="155.83" r="3.2" fill="#f02cee"/>
<circle cx="567.85" cy="160" r="3.2" fill="#f02cee"/>
<circle cx="579.7" cy="162.5" r="3.2" fill="#f02cee"/>
<circle cx="591.55" cy="169.17" r="3.2" fill="#f02cee"/>
<circle cx="603.4" cy="151.67" r="3.2" fill="#f02cee"/>
<circle cx="615.25" cy="154.17" r="3.2" fill="#f02cee"/>
<circle cx="627.1" cy="168.33" r="3.2" fill="#f02cee"/>
<circle cx="638.95" cy="163.33" r="3.2" fill="#f02cee"/>
<circle cx="650.8" cy="158.33" r="3.2" fill="#f02cee"/>
<circle cx="662.65" cy="166.67" r="3.2" fill="#f02cee"/>
<circle cx="674.5" cy="159.17" r="3.2" fill="#f02cee"/>
<circle cx="686.35" cy="162.5" r="3.2" fill="#f02cee"/>
<circle cx="698.2" cy="160.83" r="3.2" fill="#f02cee"/>
<circle cx="710.05" cy="167.5" r="3.2" fill="#f02cee"/>
<circle cx="721.9" cy="178.33" r="3.2" fill="#f02cee"/>
<circle cx="733.75" cy="175.83" r="3.2" fill="#f02cee"/>
<rect x="138.5" y="96.6" width="6" height="410.9" fill="#000"/>
<rect x="138.5" y="501.5" width="614" height="6" fill="#000"/>
<rect x="138.5" y="504.5" width="5.5" height="16.5" fill="#000"/>
<rect x="260" y="504.5" width="5.5" height="16.5" fill="#000"/>
<rect x="381.5" y="504.5" width="5.5" height="16.5" fill="#000"/>
<rect x="503" y="504.5" width="5.5" height="16.5" fill="#000"/>
<rect x="624.5" y="504.5" width="5.5" height="16.5" fill="#000"/>
<rect x="746" y="504.5" width="5.5" height="16.5" fill="#000"/>
<rect x="125.5" y="435.05" width="16" height="5.5" fill="#000"/>
<rect x="125.5" y="350.48" width="16" height="5.5" fill="#000"/>
<rect x="125.5" y="265.9" width="16" height="5.5" fill="#000"/>
<rect x="125.5" y="181.32" width="16" height="5.5" fill="#000"/>
<rect x="125.5" y="96.75" width="16" height="5.5" fill="#000"/>
<text x="100.9" y="451.8" font-size="40" font-weight="bold" fill="#000">1</text>
<text x="101.3" y="367.23" font-size="40" font-weight="bold" fill="#000">2</text>
<text x="101.2" y="282.65" font-size="40" font-weight="bold" fill="#000">3</text>
<text x="100" y="198.07" font-size="40" font-weight="bold" fill="#000">4</text>
<text x="100.9" y="113.5" font-size="40" font-weight="bold" fill="#000">5</text>
<text transform="translate(135.17 561.01) rotate(-45)" font-size="37.5" font-weight="bold">0</text>
<text transform="translate(241.96 575.72) rotate(-45)" font-size="37.5" font-weight="bold">20</text>
<text transform="translate(363.46 575.72) rotate(-45)" font-size="37.5" font-weight="bold">40</text>
<text transform="translate(484.96 575.72) rotate(-45)" font-size="37.5" font-weight="bold">60</text>
<text transform="translate(606.46 575.72) rotate(-45)" font-size="37.5" font-weight="bold">80</text>
<text transform="translate(713.24 590.44) rotate(-45)" font-size="37.5" font-weight="bold">100</text>
<text transform="translate(370.61 614) scale(0.962 1)" font-size="40.7" font-weight="bold" fill="#000">Time (s)</text>
<text transform="translate(76.6 493.06) rotate(-90) scale(0.999 1)" font-size="39.5" font-weight="bold" fill="#000">relative fluorescence</text>
<text transform="translate(817.12 82.5) scale(0.970 1)" font-size="36.34" font-weight="bold" fill="#000">A-KBM:</text>
<line x1="751" y1="143" x2="798" y2="143" stroke="#f02cee" stroke-width="4" stroke-linecap="butt"/>
<circle cx="774.5" cy="143" r="3.5" fill="#f02cee"/>
<text x="819.71" y="154.5" font-size="34" font-weight="bold" fill="#f02cee">Ku80-Q162E</text>
<line x1="751" y1="188" x2="798" y2="188" stroke="#2cc61c" stroke-width="4" stroke-linecap="butt"/>
<circle cx="774.5" cy="188" r="3.5" fill="#2cc61c"/>
<text x="819.71" y="199.5" font-size="34" font-weight="bold" fill="#2cc61c">Ku80-WT</text>
<line x1="751" y1="232" x2="798" y2="232" stroke="#7424f0" stroke-width="4" stroke-linecap="butt"/>
<circle cx="774.5" cy="232" r="3.5" fill="#7424f0"/>
<text x="819.71" y="244.5" font-size="34" font-weight="bold" fill="#7424f0">Ku80-E133M</text>
<path d="M1227.5 366.76V354.76M1223 366.76h9M1223 354.76h9" stroke="#f02cee" stroke-width="1.6" fill="none"/>
<path d="M1239.34 376.17V364.17M1234.84 376.17h9M1234.84 364.17h9" stroke="#f02cee" stroke-width="1.6" fill="none"/>
<path d="M1251.18 380.88V368.88M1246.68 380.88h9M1246.68 368.88h9" stroke="#f02cee" stroke-width="1.6" fill="none"/>
<path d="M1263.02 351.71V339.71M1258.52 351.71h9M1258.52 339.71h9" stroke="#f02cee" stroke-width="1.6" fill="none"/>
<path d="M1274.86 364.88V352.88M1270.36 364.88h9M1270.36 352.88h9" stroke="#f02cee" stroke-width="1.6" fill="none"/>
<path d="M1286.7 374.29V362.29M1282.2 374.29h9M1282.2 362.29h9" stroke="#f02cee" stroke-width="1.6" fill="none"/>
<path d="M1298.54 381.82V369.82M1294.04 381.82h9M1294.04 369.82h9" stroke="#f02cee" stroke-width="1.6" fill="none"/>
<path d="M1310.38 385.58V373.58M1305.88 385.58h9M1305.88 373.58h9" stroke="#f02cee" stroke-width="1.6" fill="none"/>
<path d="M1322.22 446.86V398.86M1317.72 446.86h9M1317.72 398.86h9" stroke="#f02cee" stroke-width="1.6" fill="none"/>
<path d="M1334.06 420.52V372.52M1329.56 420.52h9M1329.56 372.52h9" stroke="#f02cee" stroke-width="1.6" fill="none"/>
<path d="M1345.9 377.24V329.24M1341.4 377.24h9M1341.4 329.24h9" stroke="#f02cee" stroke-width="1.6" fill="none"/>
<path d="M1357.74 360.3V312.3M1353.24 360.3h9M1353.24 312.3h9" stroke="#f02cee" stroke-width="1.6" fill="none"/>
<path d="M1369.58 332.07V284.07M1365.08 332.07h9M1365.08 284.07h9" stroke="#f02cee" stroke-width="1.6" fill="none"/>
<path d="M1381.42 328.31V280.31M1376.92 328.31h9M1376.92 280.31h9" stroke="#f02cee" stroke-width="1.6" fill="none"/>
<path d="M1393.26 322.66V274.66M1388.76 322.66h9M1388.76 274.66h9" stroke="#f02cee" stroke-width="1.6" fill="none"/>
<path d="M1405.1 317.02V269.02M1400.6 317.02h9M1400.6 269.02h9" stroke="#f02cee" stroke-width="1.6" fill="none"/>
<path d="M1416.94 293.5V245.5M1412.44 293.5h9M1412.44 245.5h9" stroke="#f02cee" stroke-width="1.6" fill="none"/>
<path d="M1428.78 306.67V258.67M1424.28 306.67h9M1424.28 258.67h9" stroke="#f02cee" stroke-width="1.6" fill="none"/>
<path d="M1440.62 305.73V257.73M1436.12 305.73h9M1436.12 257.73h9" stroke="#f02cee" stroke-width="1.6" fill="none"/>
<path d="M1452.46 282.2V234.2M1447.96 282.2h9M1447.96 234.2h9" stroke="#f02cee" stroke-width="1.6" fill="none"/>
<path d="M1464.3 296.32V248.32M1459.8 296.32h9M1459.8 248.32h9" stroke="#f02cee" stroke-width="1.6" fill="none"/>
<path d="M1476.14 281.26V233.26M1471.64 281.26h9M1471.64 233.26h9" stroke="#f02cee" stroke-width="1.6" fill="none"/>
<path d="M1487.98 284V236M1483.48 284h9M1483.48 236h9" stroke="#f02cee" stroke-width="1.6" fill="none"/>
<path d="M1499.82 284V236M1495.32 284h9M1495.32 236h9" stroke="#f02cee" stroke-width="1.6" fill="none"/>
<path d="M1511.66 267.75V219.75M1507.16 267.75h9M1507.16 219.75h9" stroke="#f02cee" stroke-width="1.6" fill="none"/>
<path d="M1523.5 289V241M1519 289h9M1519 241h9" stroke="#f02cee" stroke-width="1.6" fill="none"/>
<path d="M1535.34 276.5V228.5M1530.84 276.5h9M1530.84 228.5h9" stroke="#f02cee" stroke-width="1.6" fill="none"/>
<path d="M1547.18 279V231M1542.68 279h9M1542.68 231h9" stroke="#f02cee" stroke-width="1.6" fill="none"/>
<path d="M1559.02 276.5V228.5M1554.52 276.5h9M1554.52 228.5h9" stroke="#f02cee" stroke-width="1.6" fill="none"/>
<path d="M1570.86 259V211M1566.36 259h9M1566.36 211h9" stroke="#f02cee" stroke-width="1.6" fill="none"/>
<path d="M1582.7 276.5V228.5M1578.2 276.5h9M1578.2 228.5h9" stroke="#f02cee" stroke-width="1.6" fill="none"/>
<path d="M1594.54 264V216M1590.04 264h9M1590.04 216h9" stroke="#f02cee" stroke-width="1.6" fill="none"/>
<path d="M1606.38 264V216M1601.88 264h9M1601.88 216h9" stroke="#f02cee" stroke-width="1.6" fill="none"/>
<path d="M1618.22 264V216M1613.72 264h9M1613.72 216h9" stroke="#f02cee" stroke-width="1.6" fill="none"/>
<path d="M1630.06 259V211M1625.56 259h9M1625.56 211h9" stroke="#f02cee" stroke-width="1.6" fill="none"/>
<path d="M1641.9 269V221M1637.4 269h9M1637.4 221h9" stroke="#f02cee" stroke-width="1.6" fill="none"/>
<path d="M1653.74 256.5V208.5M1649.24 256.5h9M1649.24 208.5h9" stroke="#f02cee" stroke-width="1.6" fill="none"/>
<path d="M1665.58 261.5V213.5M1661.08 261.5h9M1661.08 213.5h9" stroke="#f02cee" stroke-width="1.6" fill="none"/>
<path d="M1677.42 262.75V214.75M1672.92 262.75h9M1672.92 214.75h9" stroke="#f02cee" stroke-width="1.6" fill="none"/>
<path d="M1689.26 256.5V208.5M1684.76 256.5h9M1684.76 208.5h9" stroke="#f02cee" stroke-width="1.6" fill="none"/>
<path d="M1701.1 254V206M1696.6 254h9M1696.6 206h9" stroke="#f02cee" stroke-width="1.6" fill="none"/>
<path d="M1712.94 249V201M1708.44 249h9M1708.44 201h9" stroke="#f02cee" stroke-width="1.6" fill="none"/>
<path d="M1724.78 259V211M1720.28 259h9M1720.28 211h9" stroke="#f02cee" stroke-width="1.6" fill="none"/>
<path d="M1736.62 261.5V213.5M1732.12 261.5h9M1732.12 213.5h9" stroke="#f02cee" stroke-width="1.6" fill="none"/>
<path d="M1748.46 256.5V208.5M1743.96 256.5h9M1743.96 208.5h9" stroke="#f02cee" stroke-width="1.6" fill="none"/>
<path d="M1760.3 259V211M1755.8 259h9M1755.8 211h9" stroke="#f02cee" stroke-width="1.6" fill="none"/>
<path d="M1772.14 259V211M1767.64 259h9M1767.64 211h9" stroke="#f02cee" stroke-width="1.6" fill="none"/>
<path d="M1783.98 252.75V204.75M1779.48 252.75h9M1779.48 204.75h9" stroke="#f02cee" stroke-width="1.6" fill="none"/>
<path d="M1795.82 244V196M1791.32 244h9M1791.32 196h9" stroke="#f02cee" stroke-width="1.6" fill="none"/>
<path d="M1807.66 259V211M1803.16 259h9M1803.16 211h9" stroke="#f02cee" stroke-width="1.6" fill="none"/>
<path d="M1819.5 255.25V207.25M1815 255.25h9M1815 207.25h9" stroke="#f02cee" stroke-width="1.6" fill="none"/>
<polyline points="1227.5,360.76 1239.34,370.17 1251.18,374.88 1263.02,345.71 1274.86,358.88 1286.7,368.29 1298.54,375.82 1310.38,379.58 1322.22,422.86 1334.06,396.52 1345.9,353.24 1357.74,336.3 1369.58,308.07 1381.42,304.31 1393.26,298.66 1405.1,293.02 1416.94,269.5 1428.78,282.67 1440.62,281.73 1452.46,258.2 1464.3,272.32 1476.14,257.26 1487.98,260 1499.82,260 1511.66,243.75 1523.5,265 1535.34,252.5 1547.18,255 1559.02,252.5 1570.86,235 1582.7,252.5 1594.54,240 1606.38,240 1618.22,240 1630.06,235 1641.9,245 1653.74,232.5 1665.58,237.5 1677.42,238.75 1689.26,232.5 1701.1,230 1712.94,225 1724.78,235 1736.62,237.5 1748.46,232.5 1760.3,235 1772.14,235 1783.98,228.75 1795.82,220 1807.66,235 1819.5,231.25" fill="none" stroke="#f02cee" stroke-width="3.6" stroke-linejoin="round"/>
<circle cx="1227.5" cy="360.76" r="3.2" fill="#f02cee"/>
<circle cx="1239.34" cy="370.17" r="3.2" fill="#f02cee"/>
<circle cx="1251.18" cy="374.88" r="3.2" fill="#f02cee"/>
<circle cx="1263.02" cy="345.71" r="3.2" fill="#f02cee"/>
<circle cx="1274.86" cy="358.88" r="3.2" fill="#f02cee"/>
<circle cx="1286.7" cy="368.29" r="3.2" fill="#f02cee"/>
<circle cx="1298.54" cy="375.82" r="3.2" fill="#f02cee"/>
<circle cx="1310.38" cy="379.58" r="3.2" fill="#f02cee"/>
<circle cx="1322.22" cy="422.86" r="3.2" fill="#f02cee"/>
<circle cx="1334.06" cy="396.52" r="3.2" fill="#f02cee"/>
<circle cx="1345.9" cy="353.24" r="3.2" fill="#f02cee"/>
<circle cx="1357.74" cy="336.3" r="3.2" fill="#f02cee"/>
<circle cx="1369.58" cy="308.07" r="3.2" fill="#f02cee"/>
<circle cx="1381.42" cy="304.31" r="3.2" fill="#f02cee"/>
<circle cx="1393.26" cy="298.66" r="3.2" fill="#f02cee"/>
<circle cx="1405.1" cy="293.02" r="3.2" fill="#f02cee"/>
<circle cx="1416.94" cy="269.5" r="3.2" fill="#f02cee"/>
<circle cx="1428.78" cy="282.67" r="3.2" fill="#f02cee"/>
<circle cx="1440.62" cy="281.73" r="3.2" fill="#f02cee"/>
<circle cx="1452.46" cy="258.2" r="3.2" fill="#f02cee"/>
<circle cx="1464.3" cy="272.32" r="3.2" fill="#f02cee"/>
<circle cx="1476.14" cy="257.26" r="3.2" fill="#f02cee"/>
<circle cx="1487.98" cy="260" r="3.2" fill="#f02cee"/>
<circle cx="1499.82" cy="260" r="3.2" fill="#f02cee"/>
<circle cx="1511.66" cy="243.75" r="3.2" fill="#f02cee"/>
<circle cx="1523.5" cy="265" r="3.2" fill="#f02cee"/>
<circle cx="1535.34" cy="252.5" r="3.2" fill="#f02cee"/>
<circle cx="1547.18" cy="255" r="3.2" fill="#f02cee"/>
<circle cx="1559.02" cy="252.5" r="3.2" fill="#f02cee"/>
<circle cx="1570.86" cy="235" r="3.2" fill="#f02cee"/>
<circle cx="1582.7" cy="252.5" r="3.2" fill="#f02cee"/>
<circle cx="1594.54" cy="240" r="3.2" fill="#f02cee"/>
<circle cx="1606.38" cy="240" r="3.2" fill="#f02cee"/>
<circle cx="1618.22" cy="240" r="3.2" fill="#f02cee"/>
<circle cx="1630.06" cy="235" r="3.2" fill="#f02cee"/>
<circle cx="1641.9" cy="245" r="3.2" fill="#f02cee"/>
<circle cx="1653.74" cy="232.5" r="3.2" fill="#f02cee"/>
<circle cx="1665.58" cy="237.5" r="3.2" fill="#f02cee"/>
<circle cx="1677.42" cy="238.75" r="3.2" fill="#f02cee"/>
<circle cx="1689.26" cy="232.5" r="3.2" fill="#f02cee"/>
<circle cx="1701.1" cy="230" r="3.2" fill="#f02cee"/>
<circle cx="1712.94" cy="225" r="3.2" fill="#f02cee"/>
<circle cx="1724.78" cy="235" r="3.2" fill="#f02cee"/>
<circle cx="1736.62" cy="237.5" r="3.2" fill="#f02cee"/>
<circle cx="1748.46" cy="232.5" r="3.2" fill="#f02cee"/>
<circle cx="1760.3" cy="235" r="3.2" fill="#f02cee"/>
<circle cx="1772.14" cy="235" r="3.2" fill="#f02cee"/>
<circle cx="1783.98" cy="228.75" r="3.2" fill="#f02cee"/>
<circle cx="1795.82" cy="220" r="3.2" fill="#f02cee"/>
<circle cx="1807.66" cy="235" r="3.2" fill="#f02cee"/>
<circle cx="1819.5" cy="231.25" r="3.2" fill="#f02cee"/>
<path d="M1227.5 368.65V356.65M1223 368.65h9M1223 356.65h9" stroke="#7424f0" stroke-width="1.6" fill="none"/>
<path d="M1239.34 383.7V371.7M1234.84 383.7h9M1234.84 371.7h9" stroke="#7424f0" stroke-width="1.6" fill="none"/>
<path d="M1251.18 372.41V360.41M1246.68 372.41h9M1246.68 360.41h9" stroke="#7424f0" stroke-width="1.6" fill="none"/>
<path d="M1263.02 387.46V375.46M1258.52 387.46h9M1258.52 375.46h9" stroke="#7424f0" stroke-width="1.6" fill="none"/>
<path d="M1274.86 363V351M1270.36 363h9M1270.36 351h9" stroke="#7424f0" stroke-width="1.6" fill="none"/>
<path d="M1286.7 385.58V373.58M1282.2 385.58h9M1282.2 373.58h9" stroke="#7424f0" stroke-width="1.6" fill="none"/>
<path d="M1298.54 359.24V347.24M1294.04 359.24h9M1294.04 347.24h9" stroke="#7424f0" stroke-width="1.6" fill="none"/>
<path d="M1310.38 368.65V356.65M1305.88 368.65h9M1305.88 356.65h9" stroke="#7424f0" stroke-width="1.6" fill="none"/>
<path d="M1322.22 506.85V466.85M1317.72 506.85h9M1317.72 466.85h9" stroke="#7424f0" stroke-width="1.6" fill="none"/>
<path d="M1334.06 420.28V380.28M1329.56 420.28h9M1329.56 380.28h9" stroke="#7424f0" stroke-width="1.6" fill="none"/>
<path d="M1345.9 397.7V357.7M1341.4 397.7h9M1341.4 357.7h9" stroke="#7424f0" stroke-width="1.6" fill="none"/>
<path d="M1357.74 391.11V351.11M1353.24 391.11h9M1353.24 351.11h9" stroke="#7424f0" stroke-width="1.6" fill="none"/>
<path d="M1369.58 361.95V321.95M1365.08 361.95h9M1365.08 321.95h9" stroke="#7424f0" stroke-width="1.6" fill="none"/>
<path d="M1381.42 356.3V316.3M1376.92 356.3h9M1376.92 316.3h9" stroke="#7424f0" stroke-width="1.6" fill="none"/>
<path d="M1393.26 351.6V311.6M1388.76 351.6h9M1388.76 311.6h9" stroke="#7424f0" stroke-width="1.6" fill="none"/>
<path d="M1405.1 339.36V299.36M1400.6 339.36h9M1400.6 299.36h9" stroke="#7424f0" stroke-width="1.6" fill="none"/>
<path d="M1416.94 324.31V284.31M1412.44 324.31h9M1412.44 284.31h9" stroke="#7424f0" stroke-width="1.6" fill="none"/>
<path d="M1428.78 314.9V274.9M1424.28 314.9h9M1424.28 274.9h9" stroke="#7424f0" stroke-width="1.6" fill="none"/>
<path d="M1440.62 301.73V261.73M1436.12 301.73h9M1436.12 261.73h9" stroke="#7424f0" stroke-width="1.6" fill="none"/>
<path d="M1452.46 308.31V268.31M1447.96 308.31h9M1447.96 268.31h9" stroke="#7424f0" stroke-width="1.6" fill="none"/>
<path d="M1464.3 305.49V265.49M1459.8 305.49h9M1459.8 265.49h9" stroke="#7424f0" stroke-width="1.6" fill="none"/>
<path d="M1476.14 297.96V257.96M1471.64 297.96h9M1471.64 257.96h9" stroke="#7424f0" stroke-width="1.6" fill="none"/>
<path d="M1487.98 295V255M1483.48 295h9M1483.48 255h9" stroke="#7424f0" stroke-width="1.6" fill="none"/>
<path d="M1499.82 291.25V251.25M1495.32 291.25h9M1495.32 251.25h9" stroke="#7424f0" stroke-width="1.6" fill="none"/>
<path d="M1511.66 277.5V237.5M1507.16 277.5h9M1507.16 237.5h9" stroke="#7424f0" stroke-width="1.6" fill="none"/>
<path d="M1523.5 293.75V253.75M1519 293.75h9M1519 253.75h9" stroke="#7424f0" stroke-width="1.6" fill="none"/>
<path d="M1535.34 280V240M1530.84 280h9M1530.84 240h9" stroke="#7424f0" stroke-width="1.6" fill="none"/>
<path d="M1547.18 277.5V237.5M1542.68 277.5h9M1542.68 237.5h9" stroke="#7424f0" stroke-width="1.6" fill="none"/>
<path d="M1559.02 276.25V236.25M1554.52 276.25h9M1554.52 236.25h9" stroke="#7424f0" stroke-width="1.6" fill="none"/>
<path d="M1570.86 260V220M1566.36 260h9M1566.36 220h9" stroke="#7424f0" stroke-width="1.6" fill="none"/>
<path d="M1582.7 248.75V208.75M1578.2 248.75h9M1578.2 208.75h9" stroke="#7424f0" stroke-width="1.6" fill="none"/>
<path d="M1594.54 285V245M1590.04 285h9M1590.04 245h9" stroke="#7424f0" stroke-width="1.6" fill="none"/>
<path d="M1606.38 287.5V247.5M1601.88 287.5h9M1601.88 247.5h9" stroke="#7424f0" stroke-width="1.6" fill="none"/>
<path d="M1618.22 261.25V221.25M1613.72 261.25h9M1613.72 221.25h9" stroke="#7424f0" stroke-width="1.6" fill="none"/>
<path d="M1630.06 258.75V218.75M1625.56 258.75h9M1625.56 218.75h9" stroke="#7424f0" stroke-width="1.6" fill="none"/>
<path d="M1641.9 266.25V226.25M1637.4 266.25h9M1637.4 226.25h9" stroke="#7424f0" stroke-width="1.6" fill="none"/>
<path d="M1653.74 260V220M1649.24 260h9M1649.24 220h9" stroke="#7424f0" stroke-width="1.6" fill="none"/>
<path d="M1665.58 263.75V223.75M1661.08 263.75h9M1661.08 223.75h9" stroke="#7424f0" stroke-width="1.6" fill="none"/>
<path d="M1677.42 265V225M1672.92 265h9M1672.92 225h9" stroke="#7424f0" stroke-width="1.6" fill="none"/>
<path d="M1689.26 262.5V222.5M1684.76 262.5h9M1684.76 222.5h9" stroke="#7424f0" stroke-width="1.6" fill="none"/>
<path d="M1701.1 270V230M1696.6 270h9M1696.6 230h9" stroke="#7424f0" stroke-width="1.6" fill="none"/>
<path d="M1712.94 275V235M1708.44 275h9M1708.44 235h9" stroke="#7424f0" stroke-width="1.6" fill="none"/>
<path d="M1724.78 266.25V226.25M1720.28 266.25h9M1720.28 226.25h9" stroke="#7424f0" stroke-width="1.6" fill="none"/>
<path d="M1736.62 260V220M1732.12 260h9M1732.12 220h9" stroke="#7424f0" stroke-width="1.6" fill="none"/>
<path d="M1748.46 270V230M1743.96 270h9M1743.96 230h9" stroke="#7424f0" stroke-width="1.6" fill="none"/>
<path d="M1760.3 260V220M1755.8 260h9M1755.8 220h9" stroke="#7424f0" stroke-width="1.6" fill="none"/>
<path d="M1772.14 266.25V226.25M1767.64 266.25h9M1767.64 226.25h9" stroke="#7424f0" stroke-width="1.6" fill="none"/>
<path d="M1783.98 275V235M1779.48 275h9M1779.48 235h9" stroke="#7424f0" stroke-width="1.6" fill="none"/>
<path d="M1795.82 267.5V227.5M1791.32 267.5h9M1791.32 227.5h9" stroke="#7424f0" stroke-width="1.6" fill="none"/>
<path d="M1807.66 260V220M1803.16 260h9M1803.16 220h9" stroke="#7424f0" stroke-width="1.6" fill="none"/>
<path d="M1819.5 271.25V231.25M1815 271.25h9M1815 231.25h9" stroke="#7424f0" stroke-width="1.6" fill="none"/>
<path d="M1831.34 297.5V237.5M1826.84 297.5h9M1826.84 237.5h9" stroke="#7424f0" stroke-width="1.6" fill="none"/>
<polyline points="1227.5,362.65 1239.34,377.7 1251.18,366.41 1263.02,381.46 1274.86,357 1286.7,379.58 1298.54,353.24 1310.38,362.65 1322.22,486.85 1334.06,400.28 1345.9,377.7 1357.74,371.11 1369.58,341.95 1381.42,336.3 1393.26,331.6 1405.1,319.36 1416.94,304.31 1428.78,294.9 1440.62,281.73 1452.46,288.31 1464.3,285.49 1476.14,277.96 1487.98,275 1499.82,271.25 1511.66,257.5 1523.5,273.75 1535.34,260 1547.18,257.5 1559.02,256.25 1570.86,240 1582.7,228.75 1594.54,265 1606.38,267.5 1618.22,241.25 1630.06,238.75 1641.9,246.25 1653.74,240 1665.58,243.75 1677.42,245 1689.26,242.5 1701.1,250 1712.94,255 1724.78,246.25 1736.62,240 1748.46,250 1760.3,240 1772.14,246.25 1783.98,255 1795.82,247.5 1807.66,240 1819.5,251.25 1831.34,267.5" fill="none" stroke="#7424f0" stroke-width="3.6" stroke-linejoin="round"/>
<circle cx="1227.5" cy="362.65" r="3.2" fill="#7424f0"/>
<circle cx="1239.34" cy="377.7" r="3.2" fill="#7424f0"/>
<circle cx="1251.18" cy="366.41" r="3.2" fill="#7424f0"/>
<circle cx="1263.02" cy="381.46" r="3.2" fill="#7424f0"/>
<circle cx="1274.86" cy="357" r="3.2" fill="#7424f0"/>
<circle cx="1286.7" cy="379.58" r="3.2" fill="#7424f0"/>
<circle cx="1298.54" cy="353.24" r="3.2" fill="#7424f0"/>
<circle cx="1310.38" cy="362.65" r="3.2" fill="#7424f0"/>
<circle cx="1322.22" cy="486.85" r="3.2" fill="#7424f0"/>
<circle cx="1334.06" cy="400.28" r="3.2" fill="#7424f0"/>
<circle cx="1345.9" cy="377.7" r="3.2" fill="#7424f0"/>
<circle cx="1357.74" cy="371.11" r="3.2" fill="#7424f0"/>
<circle cx="1369.58" cy="341.95" r="3.2" fill="#7424f0"/>
<circle cx="1381.42" cy="336.3" r="3.2" fill="#7424f0"/>
<circle cx="1393.26" cy="331.6" r="3.2" fill="#7424f0"/>
<circle cx="1405.1" cy="319.36" r="3.2" fill="#7424f0"/>
<circle cx="1416.94" cy="304.31" r="3.2" fill="#7424f0"/>
<circle cx="1428.78" cy="294.9" r="3.2" fill="#7424f0"/>
<circle cx="1440.62" cy="281.73" r="3.2" fill="#7424f0"/>
<circle cx="1452.46" cy="288.31" r="3.2" fill="#7424f0"/>
<circle cx="1464.3" cy="285.49" r="3.2" fill="#7424f0"/>
<circle cx="1476.14" cy="277.96" r="3.2" fill="#7424f0"/>
<circle cx="1487.98" cy="275" r="3.2" fill="#7424f0"/>
<circle cx="1499.82" cy="271.25" r="3.2" fill="#7424f0"/>
<circle cx="1511.66" cy="257.5" r="3.2" fill="#7424f0"/>
<circle cx="1523.5" cy="273.75" r="3.2" fill="#7424f0"/>
<circle cx="1535.34" cy="260" r="3.2" fill="#7424f0"/>
<circle cx="1547.18" cy="257.5" r="3.2" fill="#7424f0"/>
<circle cx="1559.02" cy="256.25" r="3.2" fill="#7424f0"/>
<circle cx="1570.86" cy="240" r="3.2" fill="#7424f0"/>
<circle cx="1582.7" cy="228.75" r="3.2" fill="#7424f0"/>
<circle cx="1594.54" cy="265" r="3.2" fill="#7424f0"/>
<circle cx="1606.38" cy="267.5" r="3.2" fill="#7424f0"/>
<circle cx="1618.22" cy="241.25" r="3.2" fill="#7424f0"/>
<circle cx="1630.06" cy="238.75" r="3.2" fill="#7424f0"/>
<circle cx="1641.9" cy="246.25" r="3.2" fill="#7424f0"/>
<circle cx="1653.74" cy="240" r="3.2" fill="#7424f0"/>
<circle cx="1665.58" cy="243.75" r="3.2" fill="#7424f0"/>
<circle cx="1677.42" cy="245" r="3.2" fill="#7424f0"/>
<circle cx="1689.26" cy="242.5" r="3.2" fill="#7424f0"/>
<circle cx="1701.1" cy="250" r="3.2" fill="#7424f0"/>
<circle cx="1712.94" cy="255" r="3.2" fill="#7424f0"/>
<circle cx="1724.78" cy="246.25" r="3.2" fill="#7424f0"/>
<circle cx="1736.62" cy="240" r="3.2" fill="#7424f0"/>
<circle cx="1748.46" cy="250" r="3.2" fill="#7424f0"/>
<circle cx="1760.3" cy="240" r="3.2" fill="#7424f0"/>
<circle cx="1772.14" cy="246.25" r="3.2" fill="#7424f0"/>
<circle cx="1783.98" cy="255" r="3.2" fill="#7424f0"/>
<circle cx="1795.82" cy="247.5" r="3.2" fill="#7424f0"/>
<circle cx="1807.66" cy="240" r="3.2" fill="#7424f0"/>
<circle cx="1819.5" cy="251.25" r="3.2" fill="#7424f0"/>
<circle cx="1831.34" cy="267.5" r="3.2" fill="#7424f0"/>
<path d="M1227.5 379.94V367.94M1223 379.94h9M1223 367.94h9" stroke="#2cc61c" stroke-width="1.6" fill="none"/>
<path d="M1239.34 372.41V360.41M1234.84 372.41h9M1234.84 360.41h9" stroke="#2cc61c" stroke-width="1.6" fill="none"/>
<path d="M1251.18 361.12V349.12M1246.68 361.12h9M1246.68 349.12h9" stroke="#2cc61c" stroke-width="1.6" fill="none"/>
<path d="M1263.02 381.82V369.82M1258.52 381.82h9M1258.52 369.82h9" stroke="#2cc61c" stroke-width="1.6" fill="none"/>
<path d="M1274.86 374.29V362.29M1270.36 374.29h9M1270.36 362.29h9" stroke="#2cc61c" stroke-width="1.6" fill="none"/>
<path d="M1286.7 384.64V372.64M1282.2 384.64h9M1282.2 372.64h9" stroke="#2cc61c" stroke-width="1.6" fill="none"/>
<path d="M1298.54 365.82V353.82M1294.04 365.82h9M1294.04 353.82h9" stroke="#2cc61c" stroke-width="1.6" fill="none"/>
<path d="M1310.38 366.76V354.76M1305.88 366.76h9M1305.88 354.76h9" stroke="#2cc61c" stroke-width="1.6" fill="none"/>
<path d="M1322.22 489.91V449.91M1317.72 489.91h9M1317.72 449.91h9" stroke="#2cc61c" stroke-width="1.6" fill="none"/>
<path d="M1334.06 427.81V387.81M1329.56 427.81h9M1329.56 387.81h9" stroke="#2cc61c" stroke-width="1.6" fill="none"/>
<path d="M1345.9 355.36V315.36M1341.4 355.36h9M1341.4 315.36h9" stroke="#2cc61c" stroke-width="1.6" fill="none"/>
<path d="M1357.74 333.72V293.72M1353.24 333.72h9M1353.24 293.72h9" stroke="#2cc61c" stroke-width="1.6" fill="none"/>
<path d="M1369.58 321.49V281.49M1365.08 321.49h9M1365.08 281.49h9" stroke="#2cc61c" stroke-width="1.6" fill="none"/>
<path d="M1381.42 292.32V252.32M1376.92 292.32h9M1376.92 252.32h9" stroke="#2cc61c" stroke-width="1.6" fill="none"/>
<path d="M1393.26 296.08V256.08M1388.76 296.08h9M1388.76 256.08h9" stroke="#2cc61c" stroke-width="1.6" fill="none"/>
<path d="M1405.1 267.85V227.85M1400.6 267.85h9M1400.6 227.85h9" stroke="#2cc61c" stroke-width="1.6" fill="none"/>
<path d="M1416.94 255.62V215.62M1412.44 255.62h9M1412.44 215.62h9" stroke="#2cc61c" stroke-width="1.6" fill="none"/>
<path d="M1428.78 247.15V207.15M1424.28 247.15h9M1424.28 207.15h9" stroke="#2cc61c" stroke-width="1.6" fill="none"/>
<path d="M1440.62 236.8V196.8M1436.12 236.8h9M1436.12 196.8h9" stroke="#2cc61c" stroke-width="1.6" fill="none"/>
<path d="M1452.46 240.57V200.57M1447.96 240.57h9M1447.96 200.57h9" stroke="#2cc61c" stroke-width="1.6" fill="none"/>
<path d="M1464.3 222.69V182.69M1459.8 222.69h9M1459.8 182.69h9" stroke="#2cc61c" stroke-width="1.6" fill="none"/>
<path d="M1476.14 221.75V181.75M1471.64 221.75h9M1471.64 181.75h9" stroke="#2cc61c" stroke-width="1.6" fill="none"/>
<path d="M1487.98 216.25V176.25M1483.48 216.25h9M1483.48 176.25h9" stroke="#2cc61c" stroke-width="1.6" fill="none"/>
<path d="M1499.82 205V165M1495.32 205h9M1495.32 165h9" stroke="#2cc61c" stroke-width="1.6" fill="none"/>
<path d="M1511.66 207.5V167.5M1507.16 207.5h9M1507.16 167.5h9" stroke="#2cc61c" stroke-width="1.6" fill="none"/>
<path d="M1523.5 190V150M1519 190h9M1519 150h9" stroke="#2cc61c" stroke-width="1.6" fill="none"/>
<path d="M1535.34 187.5V147.5M1530.84 187.5h9M1530.84 147.5h9" stroke="#2cc61c" stroke-width="1.6" fill="none"/>
<path d="M1547.18 187.5V147.5M1542.68 187.5h9M1542.68 147.5h9" stroke="#2cc61c" stroke-width="1.6" fill="none"/>
<path d="M1559.02 191.25V151.25M1554.52 191.25h9M1554.52 151.25h9" stroke="#2cc61c" stroke-width="1.6" fill="none"/>
<path d="M1570.86 180V140M1566.36 180h9M1566.36 140h9" stroke="#2cc61c" stroke-width="1.6" fill="none"/>
<path d="M1582.7 181.25V141.25M1578.2 181.25h9M1578.2 141.25h9" stroke="#2cc61c" stroke-width="1.6" fill="none"/>
<path d="M1594.54 180V140M1590.04 180h9M1590.04 140h9" stroke="#2cc61c" stroke-width="1.6" fill="none"/>
<path d="M1606.38 190V150M1601.88 190h9M1601.88 150h9" stroke="#2cc61c" stroke-width="1.6" fill="none"/>
<path d="M1618.22 180V140M1613.72 180h9M1613.72 140h9" stroke="#2cc61c" stroke-width="1.6" fill="none"/>
<path d="M1630.06 177.5V137.5M1625.56 177.5h9M1625.56 137.5h9" stroke="#2cc61c" stroke-width="1.6" fill="none"/>
<path d="M1641.9 171.25V131.25M1637.4 171.25h9M1637.4 131.25h9" stroke="#2cc61c" stroke-width="1.6" fill="none"/>
<path d="M1653.74 162.5V122.5M1649.24 162.5h9M1649.24 122.5h9" stroke="#2cc61c" stroke-width="1.6" fill="none"/>
<path d="M1665.58 162.5V122.5M1661.08 162.5h9M1661.08 122.5h9" stroke="#2cc61c" stroke-width="1.6" fill="none"/>
<path d="M1677.42 167.5V127.5M1672.92 167.5h9M1672.92 127.5h9" stroke="#2cc61c" stroke-width="1.6" fill="none"/>
<path d="M1689.26 178.75V138.75M1684.76 178.75h9M1684.76 138.75h9" stroke="#2cc61c" stroke-width="1.6" fill="none"/>
<path d="M1701.1 175V135M1696.6 175h9M1696.6 135h9" stroke="#2cc61c" stroke-width="1.6" fill="none"/>
<path d="M1712.94 166.25V126.25M1708.44 166.25h9M1708.44 126.25h9" stroke="#2cc61c" stroke-width="1.6" fill="none"/>
<path d="M1724.78 153.75V113.75M1720.28 153.75h9M1720.28 113.75h9" stroke="#2cc61c" stroke-width="1.6" fill="none"/>
<path d="M1736.62 156.25V116.25M1732.12 156.25h9M1732.12 116.25h9" stroke="#2cc61c" stroke-width="1.6" fill="none"/>
<path d="M1748.46 165V125M1743.96 165h9M1743.96 125h9" stroke="#2cc61c" stroke-width="1.6" fill="none"/>
<path d="M1760.3 163.75V123.75M1755.8 163.75h9M1755.8 123.75h9" stroke="#2cc61c" stroke-width="1.6" fill="none"/>
<path d="M1772.14 156.25V116.25M1767.64 156.25h9M1767.64 116.25h9" stroke="#2cc61c" stroke-width="1.6" fill="none"/>
<path d="M1783.98 153.75V113.75M1779.48 153.75h9M1779.48 113.75h9" stroke="#2cc61c" stroke-width="1.6" fill="none"/>
<path d="M1795.82 156.25V116.25M1791.32 156.25h9M1791.32 116.25h9" stroke="#2cc61c" stroke-width="1.6" fill="none"/>
<path d="M1807.66 160V120M1803.16 160h9M1803.16 120h9" stroke="#2cc61c" stroke-width="1.6" fill="none"/>
<path d="M1819.5 165V125M1815 165h9M1815 125h9" stroke="#2cc61c" stroke-width="1.6" fill="none"/>
<polyline points="1227.5,373.94 1239.34,366.41 1251.18,355.12 1263.02,375.82 1274.86,368.29 1286.7,378.64 1298.54,359.82 1310.38,360.76 1322.22,469.91 1334.06,407.81 1345.9,335.36 1357.74,313.72 1369.58,301.49 1381.42,272.32 1393.26,276.08 1405.1,247.85 1416.94,235.62 1428.78,227.15 1440.62,216.8 1452.46,220.57 1464.3,202.69 1476.14,201.75 1487.98,196.25 1499.82,185 1511.66,187.5 1523.5,170 1535.34,167.5 1547.18,167.5 1559.02,171.25 1570.86,160 1582.7,161.25 1594.54,160 1606.38,170 1618.22,160 1630.06,157.5 1641.9,151.25 1653.74,142.5 1665.58,142.5 1677.42,147.5 1689.26,158.75 1701.1,155 1712.94,146.25 1724.78,133.75 1736.62,136.25 1748.46,145 1760.3,143.75 1772.14,136.25 1783.98,133.75 1795.82,136.25 1807.66,140 1819.5,145" fill="none" stroke="#2cc61c" stroke-width="3.6" stroke-linejoin="round"/>
<circle cx="1227.5" cy="373.94" r="3.2" fill="#2cc61c"/>
<circle cx="1239.34" cy="366.41" r="3.2" fill="#2cc61c"/>
<circle cx="1251.18" cy="355.12" r="3.2" fill="#2cc61c"/>
<circle cx="1263.02" cy="375.82" r="3.2" fill="#2cc61c"/>
<circle cx="1274.86" cy="368.29" r="3.2" fill="#2cc61c"/>
<circle cx="1286.7" cy="378.64" r="3.2" fill="#2cc61c"/>
<circle cx="1298.54" cy="359.82" r="3.2" fill="#2cc61c"/>
<circle cx="1310.38" cy="360.76" r="3.2" fill="#2cc61c"/>
<circle cx="1322.22" cy="469.91" r="3.2" fill="#2cc61c"/>
<circle cx="1334.06" cy="407.81" r="3.2" fill="#2cc61c"/>
<circle cx="1345.9" cy="335.36" r="3.2" fill="#2cc61c"/>
<circle cx="1357.74" cy="313.72" r="3.2" fill="#2cc61c"/>
<circle cx="1369.58" cy="301.49" r="3.2" fill="#2cc61c"/>
<circle cx="1381.42" cy="272.32" r="3.2" fill="#2cc61c"/>
<circle cx="1393.26" cy="276.08" r="3.2" fill="#2cc61c"/>
<circle cx="1405.1" cy="247.85" r="3.2" fill="#2cc61c"/>
<circle cx="1416.94" cy="235.62" r="3.2" fill="#2cc61c"/>
<circle cx="1428.78" cy="227.15" r="3.2" fill="#2cc61c"/>
<circle cx="1440.62" cy="216.8" r="3.2" fill="#2cc61c"/>
<circle cx="1452.46" cy="220.57" r="3.2" fill="#2cc61c"/>
<circle cx="1464.3" cy="202.69" r="3.2" fill="#2cc61c"/>
<circle cx="1476.14" cy="201.75" r="3.2" fill="#2cc61c"/>
<circle cx="1487.98" cy="196.25" r="3.2" fill="#2cc61c"/>
<circle cx="1499.82" cy="185" r="3.2" fill="#2cc61c"/>
<circle cx="1511.66" cy="187.5" r="3.2" fill="#2cc61c"/>
<circle cx="1523.5" cy="170" r="3.2" fill="#2cc61c"/>
<circle cx="1535.34" cy="167.5" r="3.2" fill="#2cc61c"/>
<circle cx="1547.18" cy="167.5" r="3.2" fill="#2cc61c"/>
<circle cx="1559.02" cy="171.25" r="3.2" fill="#2cc61c"/>
<circle cx="1570.86" cy="160" r="3.2" fill="#2cc61c"/>
<circle cx="1582.7" cy="161.25" r="3.2" fill="#2cc61c"/>
<circle cx="1594.54" cy="160" r="3.2" fill="#2cc61c"/>
<circle cx="1606.38" cy="170" r="3.2" fill="#2cc61c"/>
<circle cx="1618.22" cy="160" r="3.2" fill="#2cc61c"/>
<circle cx="1630.06" cy="157.5" r="3.2" fill="#2cc61c"/>
<circle cx="1641.9" cy="151.25" r="3.2" fill="#2cc61c"/>
<circle cx="1653.74" cy="142.5" r="3.2" fill="#2cc61c"/>
<circle cx="1665.58" cy="142.5" r="3.2" fill="#2cc61c"/>
<circle cx="1677.42" cy="147.5" r="3.2" fill="#2cc61c"/>
<circle cx="1689.26" cy="158.75" r="3.2" fill="#2cc61c"/>
<circle cx="1701.1" cy="155" r="3.2" fill="#2cc61c"/>
<circle cx="1712.94" cy="146.25" r="3.2" fill="#2cc61c"/>
<circle cx="1724.78" cy="133.75" r="3.2" fill="#2cc61c"/>
<circle cx="1736.62" cy="136.25" r="3.2" fill="#2cc61c"/>
<circle cx="1748.46" cy="145" r="3.2" fill="#2cc61c"/>
<circle cx="1760.3" cy="143.75" r="3.2" fill="#2cc61c"/>
<circle cx="1772.14" cy="136.25" r="3.2" fill="#2cc61c"/>
<circle cx="1783.98" cy="133.75" r="3.2" fill="#2cc61c"/>
<circle cx="1795.82" cy="136.25" r="3.2" fill="#2cc61c"/>
<circle cx="1807.66" cy="140" r="3.2" fill="#2cc61c"/>
<circle cx="1819.5" cy="145" r="3.2" fill="#2cc61c"/>
<rect x="1224.5" y="97.5" width="6" height="410" fill="#000"/>
<rect x="1224.5" y="501.5" width="612.5" height="6" fill="#000"/>
<rect x="1224.75" y="504.5" width="5.5" height="16.5" fill="#000"/>
<rect x="1346" y="504.5" width="5.5" height="16.5" fill="#000"/>
<rect x="1467.25" y="504.5" width="5.5" height="16.5" fill="#000"/>
<rect x="1588.5" y="504.5" width="5.5" height="16.5" fill="#000"/>
<rect x="1709.75" y="504.5" width="5.5" height="16.5" fill="#000"/>
<rect x="1831" y="504.5" width="5.5" height="16.5" fill="#000"/>
<rect x="1215.5" y="97.25" width="12" height="5.5" fill="#000"/>
<rect x="1215.5" y="232.25" width="12" height="5.5" fill="#000"/>
<rect x="1215.5" y="367.25" width="12" height="5.5" fill="#000"/>
<rect x="1215.5" y="502.25" width="12" height="5.5" fill="#000"/>
<text x="1189.3" y="114" font-size="40" font-weight="bold" fill="#000">2</text>
<text x="1187.9" y="384" font-size="40" font-weight="bold" fill="#000">1</text>
<text transform="translate(1220.92 561.01) rotate(-45)" font-size="37.5" font-weight="bold">0</text>
<text transform="translate(1327.46 575.72) rotate(-45)" font-size="37.5" font-weight="bold">20</text>
<text transform="translate(1448.71 575.72) rotate(-45)" font-size="37.5" font-weight="bold">40</text>
<text transform="translate(1569.96 575.72) rotate(-45)" font-size="37.5" font-weight="bold">60</text>
<text transform="translate(1691.21 575.72) rotate(-45)" font-size="37.5" font-weight="bold">80</text>
<text transform="translate(1797.74 590.44) rotate(-45)" font-size="37.5" font-weight="bold">100</text>
<text transform="translate(1462.14 607.5) scale(0.959 1)" font-size="37.06" font-weight="bold" fill="#000">Time (s)</text>
<text transform="translate(1173 492.55) rotate(-90) scale(1.005 1)" font-size="39" font-weight="bold" fill="#000">relative fluorescence</text>
<text transform="translate(1883.65 82.5) scale(0.966 1)" font-size="36.34" font-weight="bold" fill="#000">X-KBM:</text>
<line x1="1857" y1="138" x2="1903" y2="138" stroke="#2cc61c" stroke-width="4" stroke-linecap="butt"/>
<circle cx="1880" cy="138" r="3.5" fill="#2cc61c"/>
<text x="1925.7" y="150" font-size="34" font-weight="bold" fill="#2cc61c">Ku80-WT</text>
<line x1="1857" y1="232.5" x2="1903" y2="232.5" stroke="#f02cee" stroke-width="4" stroke-linecap="butt"/>
<circle cx="1880" cy="232.5" r="3.5" fill="#f02cee"/>
<text x="1925.7" y="244" font-size="34" font-weight="bold" fill="#f02cee">Ku80-Q162E</text>
<line x1="1857" y1="269" x2="1903" y2="269" stroke="#7424f0" stroke-width="4" stroke-linecap="butt"/>
<circle cx="1880" cy="269" r="3.5" fill="#7424f0"/>
<text x="1925.7" y="280" font-size="34" font-weight="bold" fill="#7424f0">Ku80-E133M</text>
<path d="M149.5 1176.75V1168.75M145 1176.75h9M145 1168.75h9" stroke="#f01ee8" stroke-width="1.6" fill="none"/>
<path d="M161.73 1172.14V1164.14M157.23 1172.14h9M157.23 1164.14h9" stroke="#f01ee8" stroke-width="1.6" fill="none"/>
<path d="M173.96 1176.75V1168.75M169.46 1176.75h9M169.46 1168.75h9" stroke="#f01ee8" stroke-width="1.6" fill="none"/>
<path d="M186.19 1175.21V1167.21M181.69 1175.21h9M181.69 1167.21h9" stroke="#f01ee8" stroke-width="1.6" fill="none"/>
<path d="M198.42 1178.29V1170.29M193.92 1178.29h9M193.92 1170.29h9" stroke="#f01ee8" stroke-width="1.6" fill="none"/>
<path d="M210.65 1175.98V1167.98M206.15 1175.98h9M206.15 1167.98h9" stroke="#f01ee8" stroke-width="1.6" fill="none"/>
<path d="M222.88 1179.82V1171.82M218.38 1179.82h9M218.38 1171.82h9" stroke="#f01ee8" stroke-width="1.6" fill="none"/>
<path d="M235.11 1177.52V1169.52M230.61 1177.52h9M230.61 1169.52h9" stroke="#f01ee8" stroke-width="1.6" fill="none"/>
<path d="M247.34 1165.7V1087.7M242.84 1165.7h9M242.84 1087.7h9" stroke="#f01ee8" stroke-width="1.6" fill="none"/>
<path d="M259.57 1005V927M255.07 1005h9M255.07 927h9" stroke="#f01ee8" stroke-width="1.6" fill="none"/>
<path d="M271.8 960.5V882.5M267.3 960.5h9M267.3 882.5h9" stroke="#f01ee8" stroke-width="1.6" fill="none"/>
<path d="M284.03 941.5V863.5M279.53 941.5h9M279.53 863.5h9" stroke="#f01ee8" stroke-width="1.6" fill="none"/>
<path d="M296.26 928V850M291.76 928h9M291.76 850h9" stroke="#f01ee8" stroke-width="1.6" fill="none"/>
<path d="M308.49 919.8V841.8M303.99 919.8h9M303.99 841.8h9" stroke="#f01ee8" stroke-width="1.6" fill="none"/>
<path d="M320.72 915.7V837.7M316.22 915.7h9M316.22 837.7h9" stroke="#f01ee8" stroke-width="1.6" fill="none"/>
<path d="M332.95 904.1V826.1M328.45 904.1h9M328.45 826.1h9" stroke="#f01ee8" stroke-width="1.6" fill="none"/>
<path d="M345.18 904.8V826.8M340.68 904.8h9M340.68 826.8h9" stroke="#f01ee8" stroke-width="1.6" fill="none"/>
<path d="M357.41 895.3V817.3M352.91 895.3h9M352.91 817.3h9" stroke="#f01ee8" stroke-width="1.6" fill="none"/>
<path d="M369.64 896.7V818.7M365.14 896.7h9M365.14 818.7h9" stroke="#f01ee8" stroke-width="1.6" fill="none"/>
<path d="M381.87 898V820M377.37 898h9M377.37 820h9" stroke="#f01ee8" stroke-width="1.6" fill="none"/>
<path d="M394.1 888.5V810.5M389.6 888.5h9M389.6 810.5h9" stroke="#f01ee8" stroke-width="1.6" fill="none"/>
<path d="M406.33 900.7V822.7M401.83 900.7h9M401.83 822.7h9" stroke="#f01ee8" stroke-width="1.6" fill="none"/>
<path d="M418.56 903.5V825.5M414.06 903.5h9M414.06 825.5h9" stroke="#f01ee8" stroke-width="1.6" fill="none"/>
<path d="M430.79 904.8V826.8M426.29 904.8h9M426.29 826.8h9" stroke="#f01ee8" stroke-width="1.6" fill="none"/>
<path d="M443.02 905.67V827.67M438.52 905.67h9M438.52 827.67h9" stroke="#f01ee8" stroke-width="1.6" fill="none"/>
<path d="M455.25 901.5V823.5M450.75 901.5h9M450.75 823.5h9" stroke="#f01ee8" stroke-width="1.6" fill="none"/>
<path d="M467.48 912.33V834.33M462.98 912.33h9M462.98 834.33h9" stroke="#f01ee8" stroke-width="1.6" fill="none"/>
<path d="M479.71 915.67V837.67M475.21 915.67h9M475.21 837.67h9" stroke="#f01ee8" stroke-width="1.6" fill="none"/>
<path d="M491.94 922.33V844.33M487.44 922.33h9M487.44 844.33h9" stroke="#f01ee8" stroke-width="1.6" fill="none"/>
<path d="M504.17 920.67V842.67M499.67 920.67h9M499.67 842.67h9" stroke="#f01ee8" stroke-width="1.6" fill="none"/>
<path d="M516.4 925.67V847.67M511.9 925.67h9M511.9 847.67h9" stroke="#f01ee8" stroke-width="1.6" fill="none"/>
<path d="M528.63 932.33V854.33M524.13 932.33h9M524.13 854.33h9" stroke="#f01ee8" stroke-width="1.6" fill="none"/>
<path d="M540.86 929V851M536.36 929h9M536.36 851h9" stroke="#f01ee8" stroke-width="1.6" fill="none"/>
<path d="M553.09 932.33V854.33M548.59 932.33h9M548.59 854.33h9" stroke="#f01ee8" stroke-width="1.6" fill="none"/>
<path d="M565.32 931.5V853.5M560.82 931.5h9M560.82 853.5h9" stroke="#f01ee8" stroke-width="1.6" fill="none"/>
<path d="M577.55 932.33V854.33M573.05 932.33h9M573.05 854.33h9" stroke="#f01ee8" stroke-width="1.6" fill="none"/>
<path d="M589.78 942.33V864.33M585.28 942.33h9M585.28 864.33h9" stroke="#f01ee8" stroke-width="1.6" fill="none"/>
<path d="M602.01 949V871M597.51 949h9M597.51 871h9" stroke="#f01ee8" stroke-width="1.6" fill="none"/>
<path d="M614.24 945.67V867.67M609.74 945.67h9M609.74 867.67h9" stroke="#f01ee8" stroke-width="1.6" fill="none"/>
<path d="M626.47 954.83V876.83M621.97 954.83h9M621.97 876.83h9" stroke="#f01ee8" stroke-width="1.6" fill="none"/>
<path d="M638.7 950.67V872.67M634.2 950.67h9M634.2 872.67h9" stroke="#f01ee8" stroke-width="1.6" fill="none"/>
<path d="M650.93 949V871M646.43 949h9M646.43 871h9" stroke="#f01ee8" stroke-width="1.6" fill="none"/>
<path d="M663.16 960.67V882.67M658.66 960.67h9M658.66 882.67h9" stroke="#f01ee8" stroke-width="1.6" fill="none"/>
<path d="M675.39 964V886M670.89 964h9M670.89 886h9" stroke="#f01ee8" stroke-width="1.6" fill="none"/>
<path d="M687.62 957.33V879.33M683.12 957.33h9M683.12 879.33h9" stroke="#f01ee8" stroke-width="1.6" fill="none"/>
<path d="M699.85 967.33V889.33M695.35 967.33h9M695.35 889.33h9" stroke="#f01ee8" stroke-width="1.6" fill="none"/>
<path d="M712.08 969V891M707.58 969h9M707.58 891h9" stroke="#f01ee8" stroke-width="1.6" fill="none"/>
<path d="M724.31 970.67V892.67M719.81 970.67h9M719.81 892.67h9" stroke="#f01ee8" stroke-width="1.6" fill="none"/>
<path d="M736.54 962.33V884.33M732.04 962.33h9M732.04 884.33h9" stroke="#f01ee8" stroke-width="1.6" fill="none"/>
<path d="M748.77 977.33V899.33M744.27 977.33h9M744.27 899.33h9" stroke="#f01ee8" stroke-width="1.6" fill="none"/>
<polyline points="149.5,1172.75 161.73,1168.14 173.96,1172.75 186.19,1171.21 198.42,1174.29 210.65,1171.98 222.88,1175.82 235.11,1173.52 247.34,1126.7 259.57,966 271.8,921.5 284.03,902.5 296.26,889 308.49,880.8 320.72,876.7 332.95,865.1 345.18,865.8 357.41,856.3 369.64,857.7 381.87,859 394.1,849.5 406.33,861.7 418.56,864.5 430.79,865.8 443.02,866.67 455.25,862.5 467.48,873.33 479.71,876.67 491.94,883.33 504.17,881.67 516.4,886.67 528.63,893.33 540.86,890 553.09,893.33 565.32,892.5 577.55,893.33 589.78,903.33 602.01,910 614.24,906.67 626.47,915.83 638.7,911.67 650.93,910 663.16,921.67 675.39,925 687.62,918.33 699.85,928.33 712.08,930 724.31,931.67 736.54,923.33 748.77,938.33" fill="none" stroke="#f01ee8" stroke-width="4" stroke-linejoin="round"/>
<circle cx="149.5" cy="1172.75" r="3.2" fill="#f01ee8"/>
<circle cx="161.73" cy="1168.14" r="3.2" fill="#f01ee8"/>
<circle cx="173.96" cy="1172.75" r="3.2" fill="#f01ee8"/>
<circle cx="186.19" cy="1171.21" r="3.2" fill="#f01ee8"/>
<circle cx="198.42" cy="1174.29" r="3.2" fill="#f01ee8"/>
<circle cx="210.65" cy="1171.98" r="3.2" fill="#f01ee8"/>
<circle cx="222.88" cy="1175.82" r="3.2" fill="#f01ee8"/>
<circle cx="235.11" cy="1173.52" r="3.2" fill="#f01ee8"/>
<circle cx="247.34" cy="1126.7" r="3.2" fill="#f01ee8"/>
<circle cx="259.57" cy="966" r="3.2" fill="#f01ee8"/>
<circle cx="271.8" cy="921.5" r="3.2" fill="#f01ee8"/>
<circle cx="284.03" cy="902.5" r="3.2" fill="#f01ee8"/>
<circle cx="296.26" cy="889" r="3.2" fill="#f01ee8"/>
<circle cx="308.49" cy="880.8" r="3.2" fill="#f01ee8"/>
<circle cx="320.72" cy="876.7" r="3.2" fill="#f01ee8"/>
<circle cx="332.95" cy="865.1" r="3.2" fill="#f01ee8"/>
<circle cx="345.18" cy="865.8" r="3.2" fill="#f01ee8"/>
<circle cx="357.41" cy="856.3" r="3.2" fill="#f01ee8"/>
<circle cx="369.64" cy="857.7" r="3.2" fill="#f01ee8"/>
<circle cx="381.87" cy="859" r="3.2" fill="#f01ee8"/>
<circle cx="394.1" cy="849.5" r="3.2" fill="#f01ee8"/>
<circle cx="406.33" cy="861.7" r="3.2" fill="#f01ee8"/>
<circle cx="418.56" cy="864.5" r="3.2" fill="#f01ee8"/>
<circle cx="430.79" cy="865.8" r="3.2" fill="#f01ee8"/>
<circle cx="443.02" cy="866.67" r="3.2" fill="#f01ee8"/>
<circle cx="455.25" cy="862.5" r="3.2" fill="#f01ee8"/>
<circle cx="467.48" cy="873.33" r="3.2" fill="#f01ee8"/>
<circle cx="479.71" cy="876.67" r="3.2" fill="#f01ee8"/>
<circle cx="491.94" cy="883.33" r="3.2" fill="#f01ee8"/>
<circle cx="504.17" cy="881.67" r="3.2" fill="#f01ee8"/>
<circle cx="516.4" cy="886.67" r="3.2" fill="#f01ee8"/>
<circle cx="528.63" cy="893.33" r="3.2" fill="#f01ee8"/>
<circle cx="540.86" cy="890" r="3.2" fill="#f01ee8"/>
<circle cx="553.09" cy="893.33" r="3.2" fill="#f01ee8"/>
<circle cx="565.32" cy="892.5" r="3.2" fill="#f01ee8"/>
<circle cx="577.55" cy="893.33" r="3.2" fill="#f01ee8"/>
<circle cx="589.78" cy="903.33" r="3.2" fill="#f01ee8"/>
<circle cx="602.01" cy="910" r="3.2" fill="#f01ee8"/>
<circle cx="614.24" cy="906.67" r="3.2" fill="#f01ee8"/>
<circle cx="626.47" cy="915.83" r="3.2" fill="#f01ee8"/>
<circle cx="638.7" cy="911.67" r="3.2" fill="#f01ee8"/>
<circle cx="650.93" cy="910" r="3.2" fill="#f01ee8"/>
<circle cx="663.16" cy="921.67" r="3.2" fill="#f01ee8"/>
<circle cx="675.39" cy="925" r="3.2" fill="#f01ee8"/>
<circle cx="687.62" cy="918.33" r="3.2" fill="#f01ee8"/>
<circle cx="699.85" cy="928.33" r="3.2" fill="#f01ee8"/>
<circle cx="712.08" cy="930" r="3.2" fill="#f01ee8"/>
<circle cx="724.31" cy="931.67" r="3.2" fill="#f01ee8"/>
<circle cx="736.54" cy="923.33" r="3.2" fill="#f01ee8"/>
<circle cx="748.77" cy="938.33" r="3.2" fill="#f01ee8"/>
<path d="M149.5 1176.75V1168.75M145 1176.75h9M145 1168.75h9" stroke="#22b422" stroke-width="1.6" fill="none"/>
<path d="M161.73 1176.75V1168.75M157.23 1176.75h9M157.23 1168.75h9" stroke="#22b422" stroke-width="1.6" fill="none"/>
<path d="M173.96 1175.98V1167.98M169.46 1175.98h9M169.46 1167.98h9" stroke="#22b422" stroke-width="1.6" fill="none"/>
<path d="M186.19 1176.75V1168.75M181.69 1176.75h9M181.69 1168.75h9" stroke="#22b422" stroke-width="1.6" fill="none"/>
<path d="M198.42 1175.98V1167.98M193.92 1175.98h9M193.92 1167.98h9" stroke="#22b422" stroke-width="1.6" fill="none"/>
<path d="M210.65 1178.29V1170.29M206.15 1178.29h9M206.15 1170.29h9" stroke="#22b422" stroke-width="1.6" fill="none"/>
<path d="M222.88 1178.29V1170.29M218.38 1178.29h9M218.38 1170.29h9" stroke="#22b422" stroke-width="1.6" fill="none"/>
<path d="M235.11 1179.82V1171.82M230.61 1179.82h9M230.61 1171.82h9" stroke="#22b422" stroke-width="1.6" fill="none"/>
<path d="M247.34 1124.84V1074.84M242.84 1124.84h9M242.84 1074.84h9" stroke="#22b422" stroke-width="1.6" fill="none"/>
<path d="M259.57 1014.5V964.5M255.07 1014.5h9M255.07 964.5h9" stroke="#22b422" stroke-width="1.6" fill="none"/>
<path d="M271.8 987.3V937.3M267.3 987.3h9M267.3 937.3h9" stroke="#22b422" stroke-width="1.6" fill="none"/>
<path d="M284.03 972.4V922.4M279.53 972.4h9M279.53 922.4h9" stroke="#22b422" stroke-width="1.6" fill="none"/>
<path d="M296.26 964.2V914.2M291.76 964.2h9M291.76 914.2h9" stroke="#22b422" stroke-width="1.6" fill="none"/>
<path d="M308.49 956.1V906.1M303.99 956.1h9M303.99 906.1h9" stroke="#22b422" stroke-width="1.6" fill="none"/>
<path d="M320.72 952V902M316.22 952h9M316.22 902h9" stroke="#22b422" stroke-width="1.6" fill="none"/>
<path d="M332.95 946.5V896.5M328.45 946.5h9M328.45 896.5h9" stroke="#22b422" stroke-width="1.6" fill="none"/>
<path d="M345.18 947.9V897.9M340.68 947.9h9M340.68 897.9h9" stroke="#22b422" stroke-width="1.6" fill="none"/>
<path d="M357.41 938.4V888.4M352.91 938.4h9M352.91 888.4h9" stroke="#22b422" stroke-width="1.6" fill="none"/>
<path d="M369.64 942.5V892.5M365.14 942.5h9M365.14 892.5h9" stroke="#22b422" stroke-width="1.6" fill="none"/>
<path d="M381.87 943.8V893.8M377.37 943.8h9M377.37 893.8h9" stroke="#22b422" stroke-width="1.6" fill="none"/>
<path d="M394.1 934.3V884.3M389.6 934.3h9M389.6 884.3h9" stroke="#22b422" stroke-width="1.6" fill="none"/>
<path d="M406.33 941.1V891.1M401.83 941.1h9M401.83 891.1h9" stroke="#22b422" stroke-width="1.6" fill="none"/>
<path d="M418.56 939.7V889.7M414.06 939.7h9M414.06 889.7h9" stroke="#22b422" stroke-width="1.6" fill="none"/>
<path d="M430.79 943.8V893.8M426.29 943.8h9M426.29 893.8h9" stroke="#22b422" stroke-width="1.6" fill="none"/>
<path d="M443.02 938.33V888.33M438.52 938.33h9M438.52 888.33h9" stroke="#22b422" stroke-width="1.6" fill="none"/>
<path d="M455.25 936.67V886.67M450.75 936.67h9M450.75 886.67h9" stroke="#22b422" stroke-width="1.6" fill="none"/>
<path d="M467.48 941.67V891.67M462.98 941.67h9M462.98 891.67h9" stroke="#22b422" stroke-width="1.6" fill="none"/>
<path d="M479.71 941.67V891.67M475.21 941.67h9M475.21 891.67h9" stroke="#22b422" stroke-width="1.6" fill="none"/>
<path d="M491.94 940V890M487.44 940h9M487.44 890h9" stroke="#22b422" stroke-width="1.6" fill="none"/>
<path d="M504.17 940.83V890.83M499.67 940.83h9M499.67 890.83h9" stroke="#22b422" stroke-width="1.6" fill="none"/>
<path d="M516.4 945V895M511.9 945h9M511.9 895h9" stroke="#22b422" stroke-width="1.6" fill="none"/>
<path d="M528.63 938.33V888.33M524.13 938.33h9M524.13 888.33h9" stroke="#22b422" stroke-width="1.6" fill="none"/>
<path d="M540.86 946.67V896.67M536.36 946.67h9M536.36 896.67h9" stroke="#22b422" stroke-width="1.6" fill="none"/>
<path d="M553.09 949.17V899.17M548.59 949.17h9M548.59 899.17h9" stroke="#22b422" stroke-width="1.6" fill="none"/>
<path d="M565.32 945V895M560.82 945h9M560.82 895h9" stroke="#22b422" stroke-width="1.6" fill="none"/>
<path d="M577.55 951.67V901.67M573.05 951.67h9M573.05 901.67h9" stroke="#22b422" stroke-width="1.6" fill="none"/>
<path d="M589.78 950V900M585.28 950h9M585.28 900h9" stroke="#22b422" stroke-width="1.6" fill="none"/>
<path d="M602.01 953.33V903.33M597.51 953.33h9M597.51 903.33h9" stroke="#22b422" stroke-width="1.6" fill="none"/>
<path d="M614.24 951.67V901.67M609.74 951.67h9M609.74 901.67h9" stroke="#22b422" stroke-width="1.6" fill="none"/>
<path d="M626.47 958.33V908.33M621.97 958.33h9M621.97 908.33h9" stroke="#22b422" stroke-width="1.6" fill="none"/>
<path d="M638.7 953.33V903.33M634.2 953.33h9M634.2 903.33h9" stroke="#22b422" stroke-width="1.6" fill="none"/>
<path d="M650.93 950V900M646.43 950h9M646.43 900h9" stroke="#22b422" stroke-width="1.6" fill="none"/>
<path d="M663.16 953.33V903.33M658.66 953.33h9M658.66 903.33h9" stroke="#22b422" stroke-width="1.6" fill="none"/>
<path d="M675.39 955V905M670.89 955h9M670.89 905h9" stroke="#22b422" stroke-width="1.6" fill="none"/>
<path d="M687.62 956.67V906.67M683.12 956.67h9M683.12 906.67h9" stroke="#22b422" stroke-width="1.6" fill="none"/>
<path d="M699.85 960V910M695.35 960h9M695.35 910h9" stroke="#22b422" stroke-width="1.6" fill="none"/>
<path d="M712.08 960V910M707.58 960h9M707.58 910h9" stroke="#22b422" stroke-width="1.6" fill="none"/>
<path d="M724.31 960V910M719.81 960h9M719.81 910h9" stroke="#22b422" stroke-width="1.6" fill="none"/>
<path d="M736.54 961.67V911.67M732.04 961.67h9M732.04 911.67h9" stroke="#22b422" stroke-width="1.6" fill="none"/>
<path d="M748.77 967.5V917.5M744.27 967.5h9M744.27 917.5h9" stroke="#22b422" stroke-width="1.6" fill="none"/>
<polyline points="149.5,1172.75 161.73,1172.75 173.96,1171.98 186.19,1172.75 198.42,1171.98 210.65,1174.29 222.88,1174.29 235.11,1175.82 247.34,1099.84 259.57,989.5 271.8,962.3 284.03,947.4 296.26,939.2 308.49,931.1 320.72,927 332.95,921.5 345.18,922.9 357.41,913.4 369.64,917.5 381.87,918.8 394.1,909.3 406.33,916.1 418.56,914.7 430.79,918.8 443.02,913.33 455.25,911.67 467.48,916.67 479.71,916.67 491.94,915 504.17,915.83 516.4,920 528.63,913.33 540.86,921.67 553.09,924.17 565.32,920 577.55,926.67 589.78,925 602.01,928.33 614.24,926.67 626.47,933.33 638.7,928.33 650.93,925 663.16,928.33 675.39,930 687.62,931.67 699.85,935 712.08,935 724.31,935 736.54,936.67 748.77,942.5" fill="none" stroke="#22b422" stroke-width="4" stroke-linejoin="round"/>
<circle cx="149.5" cy="1172.75" r="3.2" fill="#22b422"/>
<circle cx="161.73" cy="1172.75" r="3.2" fill="#22b422"/>
<circle cx="173.96" cy="1171.98" r="3.2" fill="#22b422"/>
<circle cx="186.19" cy="1172.75" r="3.2" fill="#22b422"/>
<circle cx="198.42" cy="1171.98" r="3.2" fill="#22b422"/>
<circle cx="210.65" cy="1174.29" r="3.2" fill="#22b422"/>
<circle cx="222.88" cy="1174.29" r="3.2" fill="#22b422"/>
<circle cx="235.11" cy="1175.82" r="3.2" fill="#22b422"/>
<circle cx="247.34" cy="1099.84" r="3.2" fill="#22b422"/>
<circle cx="259.57" cy="989.5" r="3.2" fill="#22b422"/>
<circle cx="271.8" cy="962.3" r="3.2" fill="#22b422"/>
<circle cx="284.03" cy="947.4" r="3.2" fill="#22b422"/>
<circle cx="296.26" cy="939.2" r="3.2" fill="#22b422"/>
<circle cx="308.49" cy="931.1" r="3.2" fill="#22b422"/>
<circle cx="320.72" cy="927" r="3.2" fill="#22b422"/>
<circle cx="332.95" cy="921.5" r="3.2" fill="#22b422"/>
<circle cx="345.18" cy="922.9" r="3.2" fill="#22b422"/>
<circle cx="357.41" cy="913.4" r="3.2" fill="#22b422"/>
<circle cx="369.64" cy="917.5" r="3.2" fill="#22b422"/>
<circle cx="381.87" cy="918.8" r="3.2" fill="#22b422"/>
<circle cx="394.1" cy="909.3" r="3.2" fill="#22b422"/>
<circle cx="406.33" cy="916.1" r="3.2" fill="#22b422"/>
<circle cx="418.56" cy="914.7" r="3.2" fill="#22b422"/>
<circle cx="430.79" cy="918.8" r="3.2" fill="#22b422"/>
<circle cx="443.02" cy="913.33" r="3.2" fill="#22b422"/>
<circle cx="455.25" cy="911.67" r="3.2" fill="#22b422"/>
<circle cx="467.48" cy="916.67" r="3.2" fill="#22b422"/>
<circle cx="479.71" cy="916.67" r="3.2" fill="#22b422"/>
<circle cx="491.94" cy="915" r="3.2" fill="#22b422"/>
<circle cx="504.17" cy="915.83" r="3.2" fill="#22b422"/>
<circle cx="516.4" cy="920" r="3.2" fill="#22b422"/>
<circle cx="528.63" cy="913.33" r="3.2" fill="#22b422"/>
<circle cx="540.86" cy="921.67" r="3.2" fill="#22b422"/>
<circle cx="553.09" cy="924.17" r="3.2" fill="#22b422"/>
<circle cx="565.32" cy="920" r="3.2" fill="#22b422"/>
<circle cx="577.55" cy="926.67" r="3.2" fill="#22b422"/>
<circle cx="589.78" cy="925" r="3.2" fill="#22b422"/>
<circle cx="602.01" cy="928.33" r="3.2" fill="#22b422"/>
<circle cx="614.24" cy="926.67" r="3.2" fill="#22b422"/>
<circle cx="626.47" cy="933.33" r="3.2" fill="#22b422"/>
<circle cx="638.7" cy="928.33" r="3.2" fill="#22b422"/>
<circle cx="650.93" cy="925" r="3.2" fill="#22b422"/>
<circle cx="663.16" cy="928.33" r="3.2" fill="#22b422"/>
<circle cx="675.39" cy="930" r="3.2" fill="#22b422"/>
<circle cx="687.62" cy="931.67" r="3.2" fill="#22b422"/>
<circle cx="699.85" cy="935" r="3.2" fill="#22b422"/>
<circle cx="712.08" cy="935" r="3.2" fill="#22b422"/>
<circle cx="724.31" cy="935" r="3.2" fill="#22b422"/>
<circle cx="736.54" cy="936.67" r="3.2" fill="#22b422"/>
<circle cx="748.77" cy="942.5" r="3.2" fill="#22b422"/>
<path d="M149.5 1179.05V1171.05M145 1179.05h9M145 1171.05h9" stroke="#f58a1e" stroke-width="1.6" fill="none"/>
<path d="M161.73 1178.29V1170.29M157.23 1178.29h9M157.23 1170.29h9" stroke="#f58a1e" stroke-width="1.6" fill="none"/>
<path d="M173.96 1179.05V1171.05M169.46 1179.05h9M169.46 1171.05h9" stroke="#f58a1e" stroke-width="1.6" fill="none"/>
<path d="M186.19 1178.29V1170.29M181.69 1178.29h9M181.69 1170.29h9" stroke="#f58a1e" stroke-width="1.6" fill="none"/>
<path d="M198.42 1179.05V1171.05M193.92 1179.05h9M193.92 1171.05h9" stroke="#f58a1e" stroke-width="1.6" fill="none"/>
<path d="M210.65 1177.52V1169.52M206.15 1177.52h9M206.15 1169.52h9" stroke="#f58a1e" stroke-width="1.6" fill="none"/>
<path d="M222.88 1178.29V1170.29M218.38 1178.29h9M218.38 1170.29h9" stroke="#f58a1e" stroke-width="1.6" fill="none"/>
<path d="M235.11 1176.75V1168.75M230.61 1176.75h9M230.61 1168.75h9" stroke="#f58a1e" stroke-width="1.6" fill="none"/>
<path d="M247.34 1108.49V1060.49M242.84 1108.49h9M242.84 1060.49h9" stroke="#f58a1e" stroke-width="1.6" fill="none"/>
<path d="M259.57 1034V986M255.07 1034h9M255.07 986h9" stroke="#f58a1e" stroke-width="1.6" fill="none"/>
<path d="M271.8 1017.6V969.6M267.3 1017.6h9M267.3 969.6h9" stroke="#f58a1e" stroke-width="1.6" fill="none"/>
<path d="M284.03 999.9V951.9M279.53 999.9h9M279.53 951.9h9" stroke="#f58a1e" stroke-width="1.6" fill="none"/>
<path d="M296.26 990.4V942.4M291.76 990.4h9M291.76 942.4h9" stroke="#f58a1e" stroke-width="1.6" fill="none"/>
<path d="M308.49 985V937M303.99 985h9M303.99 937h9" stroke="#f58a1e" stroke-width="1.6" fill="none"/>
<path d="M320.72 980.9V932.9M316.22 980.9h9M316.22 932.9h9" stroke="#f58a1e" stroke-width="1.6" fill="none"/>
<path d="M332.95 978.2V930.2M328.45 978.2h9M328.45 930.2h9" stroke="#f58a1e" stroke-width="1.6" fill="none"/>
<path d="M345.18 978.2V930.2M340.68 978.2h9M340.68 930.2h9" stroke="#f58a1e" stroke-width="1.6" fill="none"/>
<path d="M357.41 979.5V931.5M352.91 979.5h9M352.91 931.5h9" stroke="#f58a1e" stroke-width="1.6" fill="none"/>
<path d="M369.64 976.8V928.8M365.14 976.8h9M365.14 928.8h9" stroke="#f58a1e" stroke-width="1.6" fill="none"/>
<path d="M381.87 975.4V927.4M377.37 975.4h9M377.37 927.4h9" stroke="#f58a1e" stroke-width="1.6" fill="none"/>
<path d="M394.1 976.8V928.8M389.6 976.8h9M389.6 928.8h9" stroke="#f58a1e" stroke-width="1.6" fill="none"/>
<path d="M406.33 976.8V928.8M401.83 976.8h9M401.83 928.8h9" stroke="#f58a1e" stroke-width="1.6" fill="none"/>
<path d="M418.56 975.4V927.4M414.06 975.4h9M414.06 927.4h9" stroke="#f58a1e" stroke-width="1.6" fill="none"/>
<path d="M430.79 976.8V928.8M426.29 976.8h9M426.29 928.8h9" stroke="#f58a1e" stroke-width="1.6" fill="none"/>
<path d="M443.02 969V921M438.52 969h9M438.52 921h9" stroke="#f58a1e" stroke-width="1.6" fill="none"/>
<path d="M455.25 970.67V922.67M450.75 970.67h9M450.75 922.67h9" stroke="#f58a1e" stroke-width="1.6" fill="none"/>
<path d="M467.48 974V926M462.98 974h9M462.98 926h9" stroke="#f58a1e" stroke-width="1.6" fill="none"/>
<path d="M479.71 977.33V929.33M475.21 977.33h9M475.21 929.33h9" stroke="#f58a1e" stroke-width="1.6" fill="none"/>
<path d="M491.94 974V926M487.44 974h9M487.44 926h9" stroke="#f58a1e" stroke-width="1.6" fill="none"/>
<path d="M504.17 972.33V924.33M499.67 972.33h9M499.67 924.33h9" stroke="#f58a1e" stroke-width="1.6" fill="none"/>
<path d="M516.4 977.33V929.33M511.9 977.33h9M511.9 929.33h9" stroke="#f58a1e" stroke-width="1.6" fill="none"/>
<path d="M528.63 982.33V934.33M524.13 982.33h9M524.13 934.33h9" stroke="#f58a1e" stroke-width="1.6" fill="none"/>
<path d="M540.86 979V931M536.36 979h9M536.36 931h9" stroke="#f58a1e" stroke-width="1.6" fill="none"/>
<path d="M553.09 984V936M548.59 984h9M548.59 936h9" stroke="#f58a1e" stroke-width="1.6" fill="none"/>
<path d="M565.32 980.67V932.67M560.82 980.67h9M560.82 932.67h9" stroke="#f58a1e" stroke-width="1.6" fill="none"/>
<path d="M577.55 987.33V939.33M573.05 987.33h9M573.05 939.33h9" stroke="#f58a1e" stroke-width="1.6" fill="none"/>
<path d="M589.78 989V941M585.28 989h9M585.28 941h9" stroke="#f58a1e" stroke-width="1.6" fill="none"/>
<path d="M602.01 980.67V932.67M597.51 980.67h9M597.51 932.67h9" stroke="#f58a1e" stroke-width="1.6" fill="none"/>
<path d="M614.24 989V941M609.74 989h9M609.74 941h9" stroke="#f58a1e" stroke-width="1.6" fill="none"/>
<path d="M626.47 990.67V942.67M621.97 990.67h9M621.97 942.67h9" stroke="#f58a1e" stroke-width="1.6" fill="none"/>
<path d="M638.7 989V941M634.2 989h9M634.2 941h9" stroke="#f58a1e" stroke-width="1.6" fill="none"/>
<path d="M650.93 994V946M646.43 994h9M646.43 946h9" stroke="#f58a1e" stroke-width="1.6" fill="none"/>
<path d="M663.16 995.67V947.67M658.66 995.67h9M658.66 947.67h9" stroke="#f58a1e" stroke-width="1.6" fill="none"/>
<path d="M675.39 997.33V949.33M670.89 997.33h9M670.89 949.33h9" stroke="#f58a1e" stroke-width="1.6" fill="none"/>
<path d="M687.62 999V951M683.12 999h9M683.12 951h9" stroke="#f58a1e" stroke-width="1.6" fill="none"/>
<path d="M699.85 992.33V944.33M695.35 992.33h9M695.35 944.33h9" stroke="#f58a1e" stroke-width="1.6" fill="none"/>
<path d="M712.08 997.33V949.33M707.58 997.33h9M707.58 949.33h9" stroke="#f58a1e" stroke-width="1.6" fill="none"/>
<path d="M724.31 1004V956M719.81 1004h9M719.81 956h9" stroke="#f58a1e" stroke-width="1.6" fill="none"/>
<path d="M736.54 997.33V949.33M732.04 997.33h9M732.04 949.33h9" stroke="#f58a1e" stroke-width="1.6" fill="none"/>
<path d="M748.77 1004V956M744.27 1004h9M744.27 956h9" stroke="#f58a1e" stroke-width="1.6" fill="none"/>
<polyline points="149.5,1175.05 161.73,1174.29 173.96,1175.05 186.19,1174.29 198.42,1175.05 210.65,1173.52 222.88,1174.29 235.11,1172.75 247.34,1084.49 259.57,1010 271.8,993.6 284.03,975.9 296.26,966.4 308.49,961 320.72,956.9 332.95,954.2 345.18,954.2 357.41,955.5 369.64,952.8 381.87,951.4 394.1,952.8 406.33,952.8 418.56,951.4 430.79,952.8 443.02,945 455.25,946.67 467.48,950 479.71,953.33 491.94,950 504.17,948.33 516.4,953.33 528.63,958.33 540.86,955 553.09,960 565.32,956.67 577.55,963.33 589.78,965 602.01,956.67 614.24,965 626.47,966.67 638.7,965 650.93,970 663.16,971.67 675.39,973.33 687.62,975 699.85,968.33 712.08,973.33 724.31,980 736.54,973.33 748.77,980" fill="none" stroke="#f58a1e" stroke-width="4" stroke-linejoin="round"/>
<circle cx="149.5" cy="1175.05" r="3.2" fill="#f58a1e"/>
<circle cx="161.73" cy="1174.29" r="3.2" fill="#f58a1e"/>
<circle cx="173.96" cy="1175.05" r="3.2" fill="#f58a1e"/>
<circle cx="186.19" cy="1174.29" r="3.2" fill="#f58a1e"/>
<circle cx="198.42" cy="1175.05" r="3.2" fill="#f58a1e"/>
<circle cx="210.65" cy="1173.52" r="3.2" fill="#f58a1e"/>
<circle cx="222.88" cy="1174.29" r="3.2" fill="#f58a1e"/>
<circle cx="235.11" cy="1172.75" r="3.2" fill="#f58a1e"/>
<circle cx="247.34" cy="1084.49" r="3.2" fill="#f58a1e"/>
<circle cx="259.57" cy="1010" r="3.2" fill="#f58a1e"/>
<circle cx="271.8" cy="993.6" r="3.2" fill="#f58a1e"/>
<circle cx="284.03" cy="975.9" r="3.2" fill="#f58a1e"/>
<circle cx="296.26" cy="966.4" r="3.2" fill="#f58a1e"/>
<circle cx="308.49" cy="961" r="3.2" fill="#f58a1e"/>
<circle cx="320.72" cy="956.9" r="3.2" fill="#f58a1e"/>
<circle cx="332.95" cy="954.2" r="3.2" fill="#f58a1e"/>
<circle cx="345.18" cy="954.2" r="3.2" fill="#f58a1e"/>
<circle cx="357.41" cy="955.5" r="3.2" fill="#f58a1e"/>
<circle cx="369.64" cy="952.8" r="3.2" fill="#f58a1e"/>
<circle cx="381.87" cy="951.4" r="3.2" fill="#f58a1e"/>
<circle cx="394.1" cy="952.8" r="3.2" fill="#f58a1e"/>
<circle cx="406.33" cy="952.8" r="3.2" fill="#f58a1e"/>
<circle cx="418.56" cy="951.4" r="3.2" fill="#f58a1e"/>
<circle cx="430.79" cy="952.8" r="3.2" fill="#f58a1e"/>
<circle cx="443.02" cy="945" r="3.2" fill="#f58a1e"/>
<circle cx="455.25" cy="946.67" r="3.2" fill="#f58a1e"/>
<circle cx="467.48" cy="950" r="3.2" fill="#f58a1e"/>
<circle cx="479.71" cy="953.33" r="3.2" fill="#f58a1e"/>
<circle cx="491.94" cy="950" r="3.2" fill="#f58a1e"/>
<circle cx="504.17" cy="948.33" r="3.2" fill="#f58a1e"/>
<circle cx="516.4" cy="953.33" r="3.2" fill="#f58a1e"/>
<circle cx="528.63" cy="958.33" r="3.2" fill="#f58a1e"/>
<circle cx="540.86" cy="955" r="3.2" fill="#f58a1e"/>
<circle cx="553.09" cy="960" r="3.2" fill="#f58a1e"/>
<circle cx="565.32" cy="956.67" r="3.2" fill="#f58a1e"/>
<circle cx="577.55" cy="963.33" r="3.2" fill="#f58a1e"/>
<circle cx="589.78" cy="965" r="3.2" fill="#f58a1e"/>
<circle cx="602.01" cy="956.67" r="3.2" fill="#f58a1e"/>
<circle cx="614.24" cy="965" r="3.2" fill="#f58a1e"/>
<circle cx="626.47" cy="966.67" r="3.2" fill="#f58a1e"/>
<circle cx="638.7" cy="965" r="3.2" fill="#f58a1e"/>
<circle cx="650.93" cy="970" r="3.2" fill="#f58a1e"/>
<circle cx="663.16" cy="971.67" r="3.2" fill="#f58a1e"/>
<circle cx="675.39" cy="973.33" r="3.2" fill="#f58a1e"/>
<circle cx="687.62" cy="975" r="3.2" fill="#f58a1e"/>
<circle cx="699.85" cy="968.33" r="3.2" fill="#f58a1e"/>
<circle cx="712.08" cy="973.33" r="3.2" fill="#f58a1e"/>
<circle cx="724.31" cy="980" r="3.2" fill="#f58a1e"/>
<circle cx="736.54" cy="973.33" r="3.2" fill="#f58a1e"/>
<circle cx="748.77" cy="980" r="3.2" fill="#f58a1e"/>
<path d="M149.5 1176.75V1168.75M145 1176.75h9M145 1168.75h9" stroke="#7a1cf5" stroke-width="1.6" fill="none"/>
<path d="M161.73 1175.21V1167.21M157.23 1175.21h9M157.23 1167.21h9" stroke="#7a1cf5" stroke-width="1.6" fill="none"/>
<path d="M173.96 1177.52V1169.52M169.46 1177.52h9M169.46 1169.52h9" stroke="#7a1cf5" stroke-width="1.6" fill="none"/>
<path d="M186.19 1176.75V1168.75M181.69 1176.75h9M181.69 1168.75h9" stroke="#7a1cf5" stroke-width="1.6" fill="none"/>
<path d="M198.42 1176.75V1168.75M193.92 1176.75h9M193.92 1168.75h9" stroke="#7a1cf5" stroke-width="1.6" fill="none"/>
<path d="M210.65 1177.52V1169.52M206.15 1177.52h9M206.15 1169.52h9" stroke="#7a1cf5" stroke-width="1.6" fill="none"/>
<path d="M222.88 1179.05V1171.05M218.38 1179.05h9M218.38 1171.05h9" stroke="#7a1cf5" stroke-width="1.6" fill="none"/>
<path d="M235.11 1178.29V1170.29M230.61 1178.29h9M230.61 1170.29h9" stroke="#7a1cf5" stroke-width="1.6" fill="none"/>
<path d="M247.34 1162.21V1114.21M242.84 1162.21h9M242.84 1114.21h9" stroke="#7a1cf5" stroke-width="1.6" fill="none"/>
<path d="M259.57 1072V1024M255.07 1072h9M255.07 1024h9" stroke="#7a1cf5" stroke-width="1.6" fill="none"/>
<path d="M271.8 1043.4V995.4M267.3 1043.4h9M267.3 995.4h9" stroke="#7a1cf5" stroke-width="1.6" fill="none"/>
<path d="M284.03 1020.3V972.3M279.53 1020.3h9M279.53 972.3h9" stroke="#7a1cf5" stroke-width="1.6" fill="none"/>
<path d="M296.26 1005.3V957.3M291.76 1005.3h9M291.76 957.3h9" stroke="#7a1cf5" stroke-width="1.6" fill="none"/>
<path d="M308.49 994.5V946.5M303.99 994.5h9M303.99 946.5h9" stroke="#7a1cf5" stroke-width="1.6" fill="none"/>
<path d="M320.72 986.3V938.3M316.22 986.3h9M316.22 938.3h9" stroke="#7a1cf5" stroke-width="1.6" fill="none"/>
<path d="M332.95 976.8V928.8M328.45 976.8h9M328.45 928.8h9" stroke="#7a1cf5" stroke-width="1.6" fill="none"/>
<path d="M345.18 975.4V927.4M340.68 975.4h9M340.68 927.4h9" stroke="#7a1cf5" stroke-width="1.6" fill="none"/>
<path d="M357.41 983.6V935.6M352.91 983.6h9M352.91 935.6h9" stroke="#7a1cf5" stroke-width="1.6" fill="none"/>
<path d="M369.64 980.9V932.9M365.14 980.9h9M365.14 932.9h9" stroke="#7a1cf5" stroke-width="1.6" fill="none"/>
<path d="M381.87 980.9V932.9M377.37 980.9h9M377.37 932.9h9" stroke="#7a1cf5" stroke-width="1.6" fill="none"/>
<path d="M394.1 980.9V932.9M389.6 980.9h9M389.6 932.9h9" stroke="#7a1cf5" stroke-width="1.6" fill="none"/>
<path d="M406.33 980.9V932.9M401.83 980.9h9M401.83 932.9h9" stroke="#7a1cf5" stroke-width="1.6" fill="none"/>
<path d="M418.56 979.5V931.5M414.06 979.5h9M414.06 931.5h9" stroke="#7a1cf5" stroke-width="1.6" fill="none"/>
<path d="M430.79 982.2V934.2M426.29 982.2h9M426.29 934.2h9" stroke="#7a1cf5" stroke-width="1.6" fill="none"/>
<path d="M443.02 977.33V929.33M438.52 977.33h9M438.52 929.33h9" stroke="#7a1cf5" stroke-width="1.6" fill="none"/>
<path d="M455.25 982.33V934.33M450.75 982.33h9M450.75 934.33h9" stroke="#7a1cf5" stroke-width="1.6" fill="none"/>
<path d="M467.48 984V936M462.98 984h9M462.98 936h9" stroke="#7a1cf5" stroke-width="1.6" fill="none"/>
<path d="M479.71 984V936M475.21 984h9M475.21 936h9" stroke="#7a1cf5" stroke-width="1.6" fill="none"/>
<path d="M491.94 985.67V937.67M487.44 985.67h9M487.44 937.67h9" stroke="#7a1cf5" stroke-width="1.6" fill="none"/>
<path d="M504.17 987.33V939.33M499.67 987.33h9M499.67 939.33h9" stroke="#7a1cf5" stroke-width="1.6" fill="none"/>
<path d="M516.4 992.33V944.33M511.9 992.33h9M511.9 944.33h9" stroke="#7a1cf5" stroke-width="1.6" fill="none"/>
<path d="M528.63 995.67V947.67M524.13 995.67h9M524.13 947.67h9" stroke="#7a1cf5" stroke-width="1.6" fill="none"/>
<path d="M540.86 997.33V949.33M536.36 997.33h9M536.36 949.33h9" stroke="#7a1cf5" stroke-width="1.6" fill="none"/>
<path d="M553.09 1000.67V952.67M548.59 1000.67h9M548.59 952.67h9" stroke="#7a1cf5" stroke-width="1.6" fill="none"/>
<path d="M565.32 1000.67V952.67M560.82 1000.67h9M560.82 952.67h9" stroke="#7a1cf5" stroke-width="1.6" fill="none"/>
<path d="M577.55 1002.33V954.33M573.05 1002.33h9M573.05 954.33h9" stroke="#7a1cf5" stroke-width="1.6" fill="none"/>
<path d="M589.78 1004V956M585.28 1004h9M585.28 956h9" stroke="#7a1cf5" stroke-width="1.6" fill="none"/>
<path d="M602.01 1009V961M597.51 1009h9M597.51 961h9" stroke="#7a1cf5" stroke-width="1.6" fill="none"/>
<path d="M614.24 1005.67V957.67M609.74 1005.67h9M609.74 957.67h9" stroke="#7a1cf5" stroke-width="1.6" fill="none"/>
<path d="M626.47 1002.33V954.33M621.97 1002.33h9M621.97 954.33h9" stroke="#7a1cf5" stroke-width="1.6" fill="none"/>
<path d="M638.7 1009V961M634.2 1009h9M634.2 961h9" stroke="#7a1cf5" stroke-width="1.6" fill="none"/>
<path d="M650.93 1002.33V954.33M646.43 1002.33h9M646.43 954.33h9" stroke="#7a1cf5" stroke-width="1.6" fill="none"/>
<path d="M663.16 1004V956M658.66 1004h9M658.66 956h9" stroke="#7a1cf5" stroke-width="1.6" fill="none"/>
<path d="M675.39 1007.33V959.33M670.89 1007.33h9M670.89 959.33h9" stroke="#7a1cf5" stroke-width="1.6" fill="none"/>
<path d="M687.62 1010.67V962.67M683.12 1010.67h9M683.12 962.67h9" stroke="#7a1cf5" stroke-width="1.6" fill="none"/>
<path d="M699.85 1005.67V957.67M695.35 1005.67h9M695.35 957.67h9" stroke="#7a1cf5" stroke-width="1.6" fill="none"/>
<path d="M712.08 1012.33V964.33M707.58 1012.33h9M707.58 964.33h9" stroke="#7a1cf5" stroke-width="1.6" fill="none"/>
<path d="M724.31 1010.67V962.67M719.81 1010.67h9M719.81 962.67h9" stroke="#7a1cf5" stroke-width="1.6" fill="none"/>
<path d="M736.54 1014V966M732.04 1014h9M732.04 966h9" stroke="#7a1cf5" stroke-width="1.6" fill="none"/>
<path d="M748.77 1017.33V969.33M744.27 1017.33h9M744.27 969.33h9" stroke="#7a1cf5" stroke-width="1.6" fill="none"/>
<polyline points="149.5,1172.75 161.73,1171.21 173.96,1173.52 186.19,1172.75 198.42,1172.75 210.65,1173.52 222.88,1175.05 235.11,1174.29 247.34,1138.21 259.57,1048 271.8,1019.4 284.03,996.3 296.26,981.3 308.49,970.5 320.72,962.3 332.95,952.8 345.18,951.4 357.41,959.6 369.64,956.9 381.87,956.9 394.1,956.9 406.33,956.9 418.56,955.5 430.79,958.2 443.02,953.33 455.25,958.33 467.48,960 479.71,960 491.94,961.67 504.17,963.33 516.4,968.33 528.63,971.67 540.86,973.33 553.09,976.67 565.32,976.67 577.55,978.33 589.78,980 602.01,985 614.24,981.67 626.47,978.33 638.7,985 650.93,978.33 663.16,980 675.39,983.33 687.62,986.67 699.85,981.67 712.08,988.33 724.31,986.67 736.54,990 748.77,993.33" fill="none" stroke="#7a1cf5" stroke-width="4" stroke-linejoin="round"/>
<circle cx="149.5" cy="1172.75" r="3.2" fill="#7a1cf5"/>
<circle cx="161.73" cy="1171.21" r="3.2" fill="#7a1cf5"/>
<circle cx="173.96" cy="1173.52" r="3.2" fill="#7a1cf5"/>
<circle cx="186.19" cy="1172.75" r="3.2" fill="#7a1cf5"/>
<circle cx="198.42" cy="1172.75" r="3.2" fill="#7a1cf5"/>
<circle cx="210.65" cy="1173.52" r="3.2" fill="#7a1cf5"/>
<circle cx="222.88" cy="1175.05" r="3.2" fill="#7a1cf5"/>
<circle cx="235.11" cy="1174.29" r="3.2" fill="#7a1cf5"/>
<circle cx="247.34" cy="1138.21" r="3.2" fill="#7a1cf5"/>
<circle cx="259.57" cy="1048" r="3.2" fill="#7a1cf5"/>
<circle cx="271.8" cy="1019.4" r="3.2" fill="#7a1cf5"/>
<circle cx="284.03" cy="996.3" r="3.2" fill="#7a1cf5"/>
<circle cx="296.26" cy="981.3" r="3.2" fill="#7a1cf5"/>
<circle cx="308.49" cy="970.5" r="3.2" fill="#7a1cf5"/>
<circle cx="320.72" cy="962.3" r="3.2" fill="#7a1cf5"/>
<circle cx="332.95" cy="952.8" r="3.2" fill="#7a1cf5"/>
<circle cx="345.18" cy="951.4" r="3.2" fill="#7a1cf5"/>
<circle cx="357.41" cy="959.6" r="3.2" fill="#7a1cf5"/>
<circle cx="369.64" cy="956.9" r="3.2" fill="#7a1cf5"/>
<circle cx="381.87" cy="956.9" r="3.2" fill="#7a1cf5"/>
<circle cx="394.1" cy="956.9" r="3.2" fill="#7a1cf5"/>
<circle cx="406.33" cy="956.9" r="3.2" fill="#7a1cf5"/>
<circle cx="418.56" cy="955.5" r="3.2" fill="#7a1cf5"/>
<circle cx="430.79" cy="958.2" r="3.2" fill="#7a1cf5"/>
<circle cx="443.02" cy="953.33" r="3.2" fill="#7a1cf5"/>
<circle cx="455.25" cy="958.33" r="3.2" fill="#7a1cf5"/>
<circle cx="467.48" cy="960" r="3.2" fill="#7a1cf5"/>
<circle cx="479.71" cy="960" r="3.2" fill="#7a1cf5"/>
<circle cx="491.94" cy="961.67" r="3.2" fill="#7a1cf5"/>
<circle cx="504.17" cy="963.33" r="3.2" fill="#7a1cf5"/>
<circle cx="516.4" cy="968.33" r="3.2" fill="#7a1cf5"/>
<circle cx="528.63" cy="971.67" r="3.2" fill="#7a1cf5"/>
<circle cx="540.86" cy="973.33" r="3.2" fill="#7a1cf5"/>
<circle cx="553.09" cy="976.67" r="3.2" fill="#7a1cf5"/>
<circle cx="565.32" cy="976.67" r="3.2" fill="#7a1cf5"/>
<circle cx="577.55" cy="978.33" r="3.2" fill="#7a1cf5"/>
<circle cx="589.78" cy="980" r="3.2" fill="#7a1cf5"/>
<circle cx="602.01" cy="985" r="3.2" fill="#7a1cf5"/>
<circle cx="614.24" cy="981.67" r="3.2" fill="#7a1cf5"/>
<circle cx="626.47" cy="978.33" r="3.2" fill="#7a1cf5"/>
<circle cx="638.7" cy="985" r="3.2" fill="#7a1cf5"/>
<circle cx="650.93" cy="978.33" r="3.2" fill="#7a1cf5"/>
<circle cx="663.16" cy="980" r="3.2" fill="#7a1cf5"/>
<circle cx="675.39" cy="983.33" r="3.2" fill="#7a1cf5"/>
<circle cx="687.62" cy="986.67" r="3.2" fill="#7a1cf5"/>
<circle cx="699.85" cy="981.67" r="3.2" fill="#7a1cf5"/>
<circle cx="712.08" cy="988.33" r="3.2" fill="#7a1cf5"/>
<circle cx="724.31" cy="986.67" r="3.2" fill="#7a1cf5"/>
<circle cx="736.54" cy="990" r="3.2" fill="#7a1cf5"/>
<circle cx="748.77" cy="993.33" r="3.2" fill="#7a1cf5"/>
<rect x="146.95" y="789" width="5.5" height="425.75" fill="#000"/>
<rect x="146.95" y="1209.25" width="632.05" height="5.5" fill="#000"/>
<rect x="147" y="1212" width="5" height="14" fill="#000"/>
<rect x="272.25" y="1212" width="5" height="14" fill="#000"/>
<rect x="397.5" y="1212" width="5" height="14" fill="#000"/>
<rect x="522.75" y="1212" width="5" height="14" fill="#000"/>
<rect x="648" y="1212" width="5" height="14" fill="#000"/>
<rect x="773.25" y="1212" width="5" height="14" fill="#000"/>
<rect x="133.7" y="786.5" width="16" height="5" fill="#000"/>
<rect x="133.7" y="940" width="16" height="5" fill="#000"/>
<rect x="133.7" y="1093.5" width="16" height="5" fill="#000"/>
<text x="107.19" y="1112" font-size="46" font-weight="bold" fill="#000">2</text>
<text x="105.7" y="958.5" font-size="46" font-weight="bold" fill="#000">4</text>
<text x="107.08" y="805" font-size="46" font-weight="bold" fill="#000">6</text>
<text transform="translate(144.61 1275.93) rotate(-45)" font-size="42" font-weight="bold">0</text>
<text transform="translate(253.38 1292.41) rotate(-45)" font-size="42" font-weight="bold">20</text>
<text transform="translate(378.63 1292.41) rotate(-45)" font-size="42" font-weight="bold">40</text>
<text transform="translate(503.88 1292.41) rotate(-45)" font-size="42" font-weight="bold">60</text>
<text transform="translate(629.13 1292.41) rotate(-45)" font-size="42" font-weight="bold">80</text>
<text transform="translate(737.9 1308.89) rotate(-45)" font-size="42" font-weight="bold">100</text>
<text transform="translate(372.1 1330) scale(0.925 1)" font-size="43.6" font-weight="bold" fill="#000">Time (s)</text>
<text transform="translate(80.8 1199.27) rotate(-90) scale(0.978 1)" font-size="42" font-weight="bold" fill="#000">relative fluorescence</text>
<line x1="769" y1="901" x2="826" y2="901" stroke="#f01ee8" stroke-width="5" stroke-linecap="butt"/>
<circle cx="797.5" cy="901" r="3.5" fill="#f01ee8"/>
<text x="853.64" y="913" font-size="35" font-weight="bold" fill="#f01ee8">Ku80-Q162E</text>
<line x1="769" y1="940" x2="826" y2="940" stroke="#22b422" stroke-width="5" stroke-linecap="butt"/>
<circle cx="797.5" cy="940" r="3.5" fill="#22b422"/>
<text x="853.64" y="952.5" font-size="35" font-weight="bold" fill="#22b422">Ku80-WT</text>
<line x1="769" y1="980.5" x2="826" y2="980.5" stroke="#f58a1e" stroke-width="5" stroke-linecap="butt"/>
<circle cx="797.5" cy="980.5" r="3.5" fill="#f58a1e"/>
<text x="853.64" y="992" font-size="35" font-weight="bold" fill="#f58a1e">Ku80-I112R</text>
<line x1="769" y1="1020.5" x2="826" y2="1020.5" stroke="#7a1cf5" stroke-width="5" stroke-linecap="butt"/>
<circle cx="797.5" cy="1020.5" r="3.5" fill="#7a1cf5"/>
<text x="853.64" y="1032.5" font-size="35" font-weight="bold" fill="#7a1cf5">Ku80-E133M</text>
<path d="M1232 1176.97V1168.97M1227.5 1176.97h9M1227.5 1168.97h9" stroke="#1414e6" stroke-width="1.6" fill="none"/>
<path d="M1244.23 1177.74V1169.74M1239.73 1177.74h9M1239.73 1169.74h9" stroke="#1414e6" stroke-width="1.6" fill="none"/>
<path d="M1256.47 1176.97V1168.97M1251.97 1176.97h9M1251.97 1168.97h9" stroke="#1414e6" stroke-width="1.6" fill="none"/>
<path d="M1268.7 1181.6V1173.6M1264.2 1181.6h9M1264.2 1173.6h9" stroke="#1414e6" stroke-width="1.6" fill="none"/>
<path d="M1280.94 1176.2V1168.2M1276.44 1176.2h9M1276.44 1168.2h9" stroke="#1414e6" stroke-width="1.6" fill="none"/>
<path d="M1293.17 1176.97V1168.97M1288.67 1176.97h9M1288.67 1168.97h9" stroke="#1414e6" stroke-width="1.6" fill="none"/>
<path d="M1305.41 1178.52V1170.52M1300.91 1178.52h9M1300.91 1170.52h9" stroke="#1414e6" stroke-width="1.6" fill="none"/>
<path d="M1317.64 1178.52V1170.52M1313.14 1178.52h9M1313.14 1170.52h9" stroke="#1414e6" stroke-width="1.6" fill="none"/>
<path d="M1329.88 1118.39V1034.39M1325.38 1118.39h9M1325.38 1034.39h9" stroke="#1414e6" stroke-width="1.6" fill="none"/>
<path d="M1342.12 1017.08V933.08M1337.62 1017.08h9M1337.62 933.08h9" stroke="#1414e6" stroke-width="1.6" fill="none"/>
<path d="M1354.35 997.22V913.22M1349.85 997.22h9M1349.85 913.22h9" stroke="#1414e6" stroke-width="1.6" fill="none"/>
<path d="M1366.59 986.29V902.29M1362.09 986.29h9M1362.09 902.29h9" stroke="#1414e6" stroke-width="1.6" fill="none"/>
<path d="M1378.82 983.31V899.31M1374.32 983.31h9M1374.32 899.31h9" stroke="#1414e6" stroke-width="1.6" fill="none"/>
<path d="M1391.06 971.39V887.39M1386.56 971.39h9M1386.56 887.39h9" stroke="#1414e6" stroke-width="1.6" fill="none"/>
<path d="M1403.29 971.39V887.39M1398.79 971.39h9M1398.79 887.39h9" stroke="#1414e6" stroke-width="1.6" fill="none"/>
<path d="M1415.53 963.45V879.45M1411.03 963.45h9M1411.03 879.45h9" stroke="#1414e6" stroke-width="1.6" fill="none"/>
<path d="M1427.76 967.42V883.42M1423.26 967.42h9M1423.26 883.42h9" stroke="#1414e6" stroke-width="1.6" fill="none"/>
<path d="M1439.99 961.46V877.46M1435.49 961.46h9M1435.49 877.46h9" stroke="#1414e6" stroke-width="1.6" fill="none"/>
<path d="M1452.23 962.45V878.45M1447.73 962.45h9M1447.73 878.45h9" stroke="#1414e6" stroke-width="1.6" fill="none"/>
<path d="M1464.46 963.45V879.45M1459.96 963.45h9M1459.96 879.45h9" stroke="#1414e6" stroke-width="1.6" fill="none"/>
<path d="M1476.7 959.47V875.47M1472.2 959.47h9M1472.2 875.47h9" stroke="#1414e6" stroke-width="1.6" fill="none"/>
<path d="M1488.93 965.43V881.43M1484.43 965.43h9M1484.43 881.43h9" stroke="#1414e6" stroke-width="1.6" fill="none"/>
<path d="M1501.17 964.44V880.44M1496.67 964.44h9M1496.67 880.44h9" stroke="#1414e6" stroke-width="1.6" fill="none"/>
<path d="M1513.4 967.42V883.42M1508.9 967.42h9M1508.9 883.42h9" stroke="#1414e6" stroke-width="1.6" fill="none"/>
<path d="M1525.64 962.45V878.45M1521.14 962.45h9M1521.14 878.45h9" stroke="#1414e6" stroke-width="1.6" fill="none"/>
<path d="M1537.88 967V883M1533.38 967h9M1533.38 883h9" stroke="#1414e6" stroke-width="1.6" fill="none"/>
<path d="M1550.11 970.33V886.33M1545.61 970.33h9M1545.61 886.33h9" stroke="#1414e6" stroke-width="1.6" fill="none"/>
<path d="M1562.35 972V888M1557.85 972h9M1557.85 888h9" stroke="#1414e6" stroke-width="1.6" fill="none"/>
<path d="M1574.58 972.83V888.83M1570.08 972.83h9M1570.08 888.83h9" stroke="#1414e6" stroke-width="1.6" fill="none"/>
<path d="M1586.82 973.67V889.67M1582.32 973.67h9M1582.32 889.67h9" stroke="#1414e6" stroke-width="1.6" fill="none"/>
<path d="M1599.05 973.67V889.67M1594.55 973.67h9M1594.55 889.67h9" stroke="#1414e6" stroke-width="1.6" fill="none"/>
<path d="M1611.28 975.33V891.33M1606.78 975.33h9M1606.78 891.33h9" stroke="#1414e6" stroke-width="1.6" fill="none"/>
<path d="M1623.52 978.67V894.67M1619.02 978.67h9M1619.02 894.67h9" stroke="#1414e6" stroke-width="1.6" fill="none"/>
<path d="M1635.76 983.67V899.67M1631.26 983.67h9M1631.26 899.67h9" stroke="#1414e6" stroke-width="1.6" fill="none"/>
<path d="M1647.99 989.5V905.5M1643.49 989.5h9M1643.49 905.5h9" stroke="#1414e6" stroke-width="1.6" fill="none"/>
<path d="M1660.22 985.33V901.33M1655.72 985.33h9M1655.72 901.33h9" stroke="#1414e6" stroke-width="1.6" fill="none"/>
<path d="M1672.46 992V908M1667.96 992h9M1667.96 908h9" stroke="#1414e6" stroke-width="1.6" fill="none"/>
<path d="M1684.69 987V903M1680.19 987h9M1680.19 903h9" stroke="#1414e6" stroke-width="1.6" fill="none"/>
<path d="M1696.93 998.67V914.67M1692.43 998.67h9M1692.43 914.67h9" stroke="#1414e6" stroke-width="1.6" fill="none"/>
<path d="M1709.16 998.67V914.67M1704.66 998.67h9M1704.66 914.67h9" stroke="#1414e6" stroke-width="1.6" fill="none"/>
<path d="M1721.4 997.83V913.83M1716.9 997.83h9M1716.9 913.83h9" stroke="#1414e6" stroke-width="1.6" fill="none"/>
<path d="M1733.63 1000.33V916.33M1729.13 1000.33h9M1729.13 916.33h9" stroke="#1414e6" stroke-width="1.6" fill="none"/>
<path d="M1745.87 997.83V913.83M1741.37 997.83h9M1741.37 913.83h9" stroke="#1414e6" stroke-width="1.6" fill="none"/>
<path d="M1758.11 1001.17V917.17M1753.61 1001.17h9M1753.61 917.17h9" stroke="#1414e6" stroke-width="1.6" fill="none"/>
<path d="M1770.34 1008.67V924.67M1765.84 1008.67h9M1765.84 924.67h9" stroke="#1414e6" stroke-width="1.6" fill="none"/>
<path d="M1782.57 1007V923M1778.07 1007h9M1778.07 923h9" stroke="#1414e6" stroke-width="1.6" fill="none"/>
<path d="M1794.81 1001.17V917.17M1790.31 1001.17h9M1790.31 917.17h9" stroke="#1414e6" stroke-width="1.6" fill="none"/>
<path d="M1807.05 1008.67V924.67M1802.55 1008.67h9M1802.55 924.67h9" stroke="#1414e6" stroke-width="1.6" fill="none"/>
<path d="M1819.28 1013.67V929.67M1814.78 1013.67h9M1814.78 929.67h9" stroke="#1414e6" stroke-width="1.6" fill="none"/>
<path d="M1831.51 1013.67V929.67M1827.01 1013.67h9M1827.01 929.67h9" stroke="#1414e6" stroke-width="1.6" fill="none"/>
<polyline points="1232,1172.97 1244.23,1173.74 1256.47,1172.97 1268.7,1177.6 1280.94,1172.2 1293.17,1172.97 1305.41,1174.52 1317.64,1174.52 1329.88,1076.39 1342.12,975.08 1354.35,955.22 1366.59,944.29 1378.82,941.31 1391.06,929.39 1403.29,929.39 1415.53,921.45 1427.76,925.42 1439.99,919.46 1452.23,920.45 1464.46,921.45 1476.7,917.47 1488.93,923.43 1501.17,922.44 1513.4,925.42 1525.64,920.45 1537.88,925 1550.11,928.33 1562.35,930 1574.58,930.83 1586.82,931.67 1599.05,931.67 1611.28,933.33 1623.52,936.67 1635.76,941.67 1647.99,947.5 1660.22,943.33 1672.46,950 1684.69,945 1696.93,956.67 1709.16,956.67 1721.4,955.83 1733.63,958.33 1745.87,955.83 1758.11,959.17 1770.34,966.67 1782.57,965 1794.81,959.17 1807.05,966.67 1819.28,971.67 1831.51,971.67" fill="none" stroke="#1414e6" stroke-width="4" stroke-linejoin="round"/>
<circle cx="1232" cy="1172.97" r="3.2" fill="#1414e6"/>
<circle cx="1244.23" cy="1173.74" r="3.2" fill="#1414e6"/>
<circle cx="1256.47" cy="1172.97" r="3.2" fill="#1414e6"/>
<circle cx="1268.7" cy="1177.6" r="3.2" fill="#1414e6"/>
<circle cx="1280.94" cy="1172.2" r="3.2" fill="#1414e6"/>
<circle cx="1293.17" cy="1172.97" r="3.2" fill="#1414e6"/>
<circle cx="1305.41" cy="1174.52" r="3.2" fill="#1414e6"/>
<circle cx="1317.64" cy="1174.52" r="3.2" fill="#1414e6"/>
<circle cx="1329.88" cy="1076.39" r="3.2" fill="#1414e6"/>
<circle cx="1342.12" cy="975.08" r="3.2" fill="#1414e6"/>
<circle cx="1354.35" cy="955.22" r="3.2" fill="#1414e6"/>
<circle cx="1366.59" cy="944.29" r="3.2" fill="#1414e6"/>
<circle cx="1378.82" cy="941.31" r="3.2" fill="#1414e6"/>
<circle cx="1391.06" cy="929.39" r="3.2" fill="#1414e6"/>
<circle cx="1403.29" cy="929.39" r="3.2" fill="#1414e6"/>
<circle cx="1415.53" cy="921.45" r="3.2" fill="#1414e6"/>
<circle cx="1427.76" cy="925.42" r="3.2" fill="#1414e6"/>
<circle cx="1439.99" cy="919.46" r="3.2" fill="#1414e6"/>
<circle cx="1452.23" cy="920.45" r="3.2" fill="#1414e6"/>
<circle cx="1464.46" cy="921.45" r="3.2" fill="#1414e6"/>
<circle cx="1476.7" cy="917.47" r="3.2" fill="#1414e6"/>
<circle cx="1488.93" cy="923.43" r="3.2" fill="#1414e6"/>
<circle cx="1501.17" cy="922.44" r="3.2" fill="#1414e6"/>
<circle cx="1513.4" cy="925.42" r="3.2" fill="#1414e6"/>
<circle cx="1525.64" cy="920.45" r="3.2" fill="#1414e6"/>
<circle cx="1537.88" cy="925" r="3.2" fill="#1414e6"/>
<circle cx="1550.11" cy="928.33" r="3.2" fill="#1414e6"/>
<circle cx="1562.35" cy="930" r="3.2" fill="#1414e6"/>
<circle cx="1574.58" cy="930.83" r="3.2" fill="#1414e6"/>
<circle cx="1586.82" cy="931.67" r="3.2" fill="#1414e6"/>
<circle cx="1599.05" cy="931.67" r="3.2" fill="#1414e6"/>
<circle cx="1611.28" cy="933.33" r="3.2" fill="#1414e6"/>
<circle cx="1623.52" cy="936.67" r="3.2" fill="#1414e6"/>
<circle cx="1635.76" cy="941.67" r="3.2" fill="#1414e6"/>
<circle cx="1647.99" cy="947.5" r="3.2" fill="#1414e6"/>
<circle cx="1660.22" cy="943.33" r="3.2" fill="#1414e6"/>
<circle cx="1672.46" cy="950" r="3.2" fill="#1414e6"/>
<circle cx="1684.69" cy="945" r="3.2" fill="#1414e6"/>
<circle cx="1696.93" cy="956.67" r="3.2" fill="#1414e6"/>
<circle cx="1709.16" cy="956.67" r="3.2" fill="#1414e6"/>
<circle cx="1721.4" cy="955.83" r="3.2" fill="#1414e6"/>
<circle cx="1733.63" cy="958.33" r="3.2" fill="#1414e6"/>
<circle cx="1745.87" cy="955.83" r="3.2" fill="#1414e6"/>
<circle cx="1758.11" cy="959.17" r="3.2" fill="#1414e6"/>
<circle cx="1770.34" cy="966.67" r="3.2" fill="#1414e6"/>
<circle cx="1782.57" cy="965" r="3.2" fill="#1414e6"/>
<circle cx="1794.81" cy="959.17" r="3.2" fill="#1414e6"/>
<circle cx="1807.05" cy="966.67" r="3.2" fill="#1414e6"/>
<circle cx="1819.28" cy="971.67" r="3.2" fill="#1414e6"/>
<circle cx="1831.51" cy="971.67" r="3.2" fill="#1414e6"/>
<path d="M1232 1177.74V1169.74M1227.5 1177.74h9M1227.5 1169.74h9" stroke="#22b422" stroke-width="1.6" fill="none"/>
<path d="M1244.23 1176.97V1168.97M1239.73 1176.97h9M1239.73 1168.97h9" stroke="#22b422" stroke-width="1.6" fill="none"/>
<path d="M1256.47 1177.74V1169.74M1251.97 1177.74h9M1251.97 1169.74h9" stroke="#22b422" stroke-width="1.6" fill="none"/>
<path d="M1268.7 1177.74V1169.74M1264.2 1177.74h9M1264.2 1169.74h9" stroke="#22b422" stroke-width="1.6" fill="none"/>
<path d="M1280.94 1176.97V1168.97M1276.44 1176.97h9M1276.44 1168.97h9" stroke="#22b422" stroke-width="1.6" fill="none"/>
<path d="M1293.17 1177.74V1169.74M1288.67 1177.74h9M1288.67 1169.74h9" stroke="#22b422" stroke-width="1.6" fill="none"/>
<path d="M1305.41 1178.52V1170.52M1300.91 1178.52h9M1300.91 1170.52h9" stroke="#22b422" stroke-width="1.6" fill="none"/>
<path d="M1317.64 1180.06V1172.06M1313.14 1180.06h9M1313.14 1172.06h9" stroke="#22b422" stroke-width="1.6" fill="none"/>
<path d="M1329.88 1120.26V1072.26M1325.38 1120.26h9M1325.38 1072.26h9" stroke="#22b422" stroke-width="1.6" fill="none"/>
<path d="M1342.12 1011V963M1337.62 1011h9M1337.62 963h9" stroke="#22b422" stroke-width="1.6" fill="none"/>
<path d="M1354.35 985.18V937.18M1349.85 985.18h9M1349.85 937.18h9" stroke="#22b422" stroke-width="1.6" fill="none"/>
<path d="M1366.59 969.28V921.28M1362.09 969.28h9M1362.09 921.28h9" stroke="#22b422" stroke-width="1.6" fill="none"/>
<path d="M1378.82 961.34V913.34M1374.32 961.34h9M1374.32 913.34h9" stroke="#22b422" stroke-width="1.6" fill="none"/>
<path d="M1391.06 951.41V903.41M1386.56 951.41h9M1386.56 903.41h9" stroke="#22b422" stroke-width="1.6" fill="none"/>
<path d="M1403.29 947.43V899.43M1398.79 947.43h9M1398.79 899.43h9" stroke="#22b422" stroke-width="1.6" fill="none"/>
<path d="M1415.53 942.47V894.47M1411.03 942.47h9M1411.03 894.47h9" stroke="#22b422" stroke-width="1.6" fill="none"/>
<path d="M1427.76 940.48V892.48M1423.26 940.48h9M1423.26 892.48h9" stroke="#22b422" stroke-width="1.6" fill="none"/>
<path d="M1439.99 935.51V887.51M1435.49 935.51h9M1435.49 887.51h9" stroke="#22b422" stroke-width="1.6" fill="none"/>
<path d="M1452.23 939.49V891.49M1447.73 939.49h9M1447.73 891.49h9" stroke="#22b422" stroke-width="1.6" fill="none"/>
<path d="M1464.46 940.48V892.48M1459.96 940.48h9M1459.96 892.48h9" stroke="#22b422" stroke-width="1.6" fill="none"/>
<path d="M1476.7 933.53V885.53M1472.2 933.53h9M1472.2 885.53h9" stroke="#22b422" stroke-width="1.6" fill="none"/>
<path d="M1488.93 938.49V890.49M1484.43 938.49h9M1484.43 890.49h9" stroke="#22b422" stroke-width="1.6" fill="none"/>
<path d="M1501.17 939.49V891.49M1496.67 939.49h9M1496.67 891.49h9" stroke="#22b422" stroke-width="1.6" fill="none"/>
<path d="M1513.4 940.48V892.48M1508.9 940.48h9M1508.9 892.48h9" stroke="#22b422" stroke-width="1.6" fill="none"/>
<path d="M1525.64 935.51V887.51M1521.14 935.51h9M1521.14 887.51h9" stroke="#22b422" stroke-width="1.6" fill="none"/>
<path d="M1537.88 935.67V887.67M1533.38 935.67h9M1533.38 887.67h9" stroke="#22b422" stroke-width="1.6" fill="none"/>
<path d="M1550.11 937.33V889.33M1545.61 937.33h9M1545.61 889.33h9" stroke="#22b422" stroke-width="1.6" fill="none"/>
<path d="M1562.35 938.17V890.17M1557.85 938.17h9M1557.85 890.17h9" stroke="#22b422" stroke-width="1.6" fill="none"/>
<path d="M1574.58 935.67V887.67M1570.08 935.67h9M1570.08 887.67h9" stroke="#22b422" stroke-width="1.6" fill="none"/>
<path d="M1586.82 939V891M1582.32 939h9M1582.32 891h9" stroke="#22b422" stroke-width="1.6" fill="none"/>
<path d="M1599.05 942.33V894.33M1594.55 942.33h9M1594.55 894.33h9" stroke="#22b422" stroke-width="1.6" fill="none"/>
<path d="M1611.28 934V886M1606.78 934h9M1606.78 886h9" stroke="#22b422" stroke-width="1.6" fill="none"/>
<path d="M1623.52 941.5V893.5M1619.02 941.5h9M1619.02 893.5h9" stroke="#22b422" stroke-width="1.6" fill="none"/>
<path d="M1635.76 945.67V897.67M1631.26 945.67h9M1631.26 897.67h9" stroke="#22b422" stroke-width="1.6" fill="none"/>
<path d="M1647.99 942.33V894.33M1643.49 942.33h9M1643.49 894.33h9" stroke="#22b422" stroke-width="1.6" fill="none"/>
<path d="M1660.22 948.17V900.17M1655.72 948.17h9M1655.72 900.17h9" stroke="#22b422" stroke-width="1.6" fill="none"/>
<path d="M1672.46 945.67V897.67M1667.96 945.67h9M1667.96 897.67h9" stroke="#22b422" stroke-width="1.6" fill="none"/>
<path d="M1684.69 947.33V899.33M1680.19 947.33h9M1680.19 899.33h9" stroke="#22b422" stroke-width="1.6" fill="none"/>
<path d="M1696.93 950.67V902.67M1692.43 950.67h9M1692.43 902.67h9" stroke="#22b422" stroke-width="1.6" fill="none"/>
<path d="M1709.16 955.67V907.67M1704.66 955.67h9M1704.66 907.67h9" stroke="#22b422" stroke-width="1.6" fill="none"/>
<path d="M1721.4 952.33V904.33M1716.9 952.33h9M1716.9 904.33h9" stroke="#22b422" stroke-width="1.6" fill="none"/>
<path d="M1733.63 950.67V902.67M1729.13 950.67h9M1729.13 902.67h9" stroke="#22b422" stroke-width="1.6" fill="none"/>
<path d="M1745.87 950.67V902.67M1741.37 950.67h9M1741.37 902.67h9" stroke="#22b422" stroke-width="1.6" fill="none"/>
<path d="M1758.11 954V906M1753.61 954h9M1753.61 906h9" stroke="#22b422" stroke-width="1.6" fill="none"/>
<path d="M1770.34 957.33V909.33M1765.84 957.33h9M1765.84 909.33h9" stroke="#22b422" stroke-width="1.6" fill="none"/>
<path d="M1782.57 960.67V912.67M1778.07 960.67h9M1778.07 912.67h9" stroke="#22b422" stroke-width="1.6" fill="none"/>
<path d="M1794.81 957.33V909.33M1790.31 957.33h9M1790.31 909.33h9" stroke="#22b422" stroke-width="1.6" fill="none"/>
<path d="M1807.05 959V911M1802.55 959h9M1802.55 911h9" stroke="#22b422" stroke-width="1.6" fill="none"/>
<path d="M1819.28 962.33V914.33M1814.78 962.33h9M1814.78 914.33h9" stroke="#22b422" stroke-width="1.6" fill="none"/>
<path d="M1831.51 965.67V917.67M1827.01 965.67h9M1827.01 917.67h9" stroke="#22b422" stroke-width="1.6" fill="none"/>
<polyline points="1232,1173.74 1244.23,1172.97 1256.47,1173.74 1268.7,1173.74 1280.94,1172.97 1293.17,1173.74 1305.41,1174.52 1317.64,1176.06 1329.88,1096.26 1342.12,987 1354.35,961.18 1366.59,945.28 1378.82,937.34 1391.06,927.41 1403.29,923.43 1415.53,918.47 1427.76,916.48 1439.99,911.51 1452.23,915.49 1464.46,916.48 1476.7,909.53 1488.93,914.49 1501.17,915.49 1513.4,916.48 1525.64,911.51 1537.88,911.67 1550.11,913.33 1562.35,914.17 1574.58,911.67 1586.82,915 1599.05,918.33 1611.28,910 1623.52,917.5 1635.76,921.67 1647.99,918.33 1660.22,924.17 1672.46,921.67 1684.69,923.33 1696.93,926.67 1709.16,931.67 1721.4,928.33 1733.63,926.67 1745.87,926.67 1758.11,930 1770.34,933.33 1782.57,936.67 1794.81,933.33 1807.05,935 1819.28,938.33 1831.51,941.67" fill="none" stroke="#22b422" stroke-width="4" stroke-linejoin="round"/>
<circle cx="1232" cy="1173.74" r="3.2" fill="#22b422"/>
<circle cx="1244.23" cy="1172.97" r="3.2" fill="#22b422"/>
<circle cx="1256.47" cy="1173.74" r="3.2" fill="#22b422"/>
<circle cx="1268.7" cy="1173.74" r="3.2" fill="#22b422"/>
<circle cx="1280.94" cy="1172.97" r="3.2" fill="#22b422"/>
<circle cx="1293.17" cy="1173.74" r="3.2" fill="#22b422"/>
<circle cx="1305.41" cy="1174.52" r="3.2" fill="#22b422"/>
<circle cx="1317.64" cy="1176.06" r="3.2" fill="#22b422"/>
<circle cx="1329.88" cy="1096.26" r="3.2" fill="#22b422"/>
<circle cx="1342.12" cy="987" r="3.2" fill="#22b422"/>
<circle cx="1354.35" cy="961.18" r="3.2" fill="#22b422"/>
<circle cx="1366.59" cy="945.28" r="3.2" fill="#22b422"/>
<circle cx="1378.82" cy="937.34" r="3.2" fill="#22b422"/>
<circle cx="1391.06" cy="927.41" r="3.2" fill="#22b422"/>
<circle cx="1403.29" cy="923.43" r="3.2" fill="#22b422"/>
<circle cx="1415.53" cy="918.47" r="3.2" fill="#22b422"/>
<circle cx="1427.76" cy="916.48" r="3.2" fill="#22b422"/>
<circle cx="1439.99" cy="911.51" r="3.2" fill="#22b422"/>
<circle cx="1452.23" cy="915.49" r="3.2" fill="#22b422"/>
<circle cx="1464.46" cy="916.48" r="3.2" fill="#22b422"/>
<circle cx="1476.7" cy="909.53" r="3.2" fill="#22b422"/>
<circle cx="1488.93" cy="914.49" r="3.2" fill="#22b422"/>
<circle cx="1501.17" cy="915.49" r="3.2" fill="#22b422"/>
<circle cx="1513.4" cy="916.48" r="3.2" fill="#22b422"/>
<circle cx="1525.64" cy="911.51" r="3.2" fill="#22b422"/>
<circle cx="1537.88" cy="911.67" r="3.2" fill="#22b422"/>
<circle cx="1550.11" cy="913.33" r="3.2" fill="#22b422"/>
<circle cx="1562.35" cy="914.17" r="3.2" fill="#22b422"/>
<circle cx="1574.58" cy="911.67" r="3.2" fill="#22b422"/>
<circle cx="1586.82" cy="915" r="3.2" fill="#22b422"/>
<circle cx="1599.05" cy="918.33" r="3.2" fill="#22b422"/>
<circle cx="1611.28" cy="910" r="3.2" fill="#22b422"/>
<circle cx="1623.52" cy="917.5" r="3.2" fill="#22b422"/>
<circle cx="1635.76" cy="921.67" r="3.2" fill="#22b422"/>
<circle cx="1647.99" cy="918.33" r="3.2" fill="#22b422"/>
<circle cx="1660.22" cy="924.17" r="3.2" fill="#22b422"/>
<circle cx="1672.46" cy="921.67" r="3.2" fill="#22b422"/>
<circle cx="1684.69" cy="923.33" r="3.2" fill="#22b422"/>
<circle cx="1696.93" cy="926.67" r="3.2" fill="#22b422"/>
<circle cx="1709.16" cy="931.67" r="3.2" fill="#22b422"/>
<circle cx="1721.4" cy="928.33" r="3.2" fill="#22b422"/>
<circle cx="1733.63" cy="926.67" r="3.2" fill="#22b422"/>
<circle cx="1745.87" cy="926.67" r="3.2" fill="#22b422"/>
<circle cx="1758.11" cy="930" r="3.2" fill="#22b422"/>
<circle cx="1770.34" cy="933.33" r="3.2" fill="#22b422"/>
<circle cx="1782.57" cy="936.67" r="3.2" fill="#22b422"/>
<circle cx="1794.81" cy="933.33" r="3.2" fill="#22b422"/>
<circle cx="1807.05" cy="935" r="3.2" fill="#22b422"/>
<circle cx="1819.28" cy="938.33" r="3.2" fill="#22b422"/>
<circle cx="1831.51" cy="941.67" r="3.2" fill="#22b422"/>
<rect x="1229.75" y="786" width="5.5" height="426.75" fill="#000"/>
<rect x="1229.75" y="1207.25" width="632.25" height="5.5" fill="#000"/>
<rect x="1229.5" y="1210" width="5" height="14" fill="#000"/>
<rect x="1354.85" y="1210" width="5" height="14" fill="#000"/>
<rect x="1480.2" y="1210" width="5" height="14" fill="#000"/>
<rect x="1605.55" y="1210" width="5" height="14" fill="#000"/>
<rect x="1730.9" y="1210" width="5" height="14" fill="#000"/>
<rect x="1856.25" y="1210" width="5" height="14" fill="#000"/>
<rect x="1216.5" y="783.7" width="16" height="5" fill="#000"/>
<rect x="1216.5" y="938.1" width="16" height="5" fill="#000"/>
<rect x="1216.5" y="1092.5" width="16" height="5" fill="#000"/>
<text x="1190.19" y="1111" font-size="46" font-weight="bold" fill="#000">2</text>
<text x="1188.7" y="956.6" font-size="46" font-weight="bold" fill="#000">4</text>
<text x="1190.08" y="802.2" font-size="46" font-weight="bold" fill="#000">6</text>
<text transform="translate(1226.21 1272.93) rotate(-45)" font-size="42" font-weight="bold">0</text>
<text transform="translate(1335.08 1289.41) rotate(-45)" font-size="42" font-weight="bold">20</text>
<text transform="translate(1460.43 1289.41) rotate(-45)" font-size="42" font-weight="bold">40</text>
<text transform="translate(1585.78 1289.41) rotate(-45)" font-size="42" font-weight="bold">60</text>
<text transform="translate(1711.13 1289.41) rotate(-45)" font-size="42" font-weight="bold">80</text>
<text transform="translate(1820 1305.89) rotate(-45)" font-size="42" font-weight="bold">100</text>
<text transform="translate(1454.6 1327.5) scale(0.922 1)" font-size="43.6" font-weight="bold" fill="#000">Time (s)</text>
<text transform="translate(1170 1200.19) rotate(-90) scale(0.997 1)" font-size="41.5" font-weight="bold" fill="#000">relative fluorescence</text>
<line x1="1847" y1="948" x2="1905" y2="948" stroke="#22b422" stroke-width="5" stroke-linecap="butt"/>
<circle cx="1876" cy="948" r="3.5" fill="#22b422"/>
<text x="1931.67" y="959" font-size="34.5" font-weight="bold" fill="#22b422">Ku80-WT</text>
<line x1="1847" y1="991" x2="1905" y2="991" stroke="#1414e6" stroke-width="5" stroke-linecap="butt"/>
<circle cx="1876" cy="991" r="3.5" fill="#1414e6"/>
<text transform="translate(1931.54 1004) scale(1.045 1)" font-size="34.88" font-weight="bold" fill="#1414e6">I112R/E133M</text>
<text transform="translate(4.83 54.93) scale(0.834 1)" font-size="66.85" font-weight="bold" fill="#000">a</text>
<text transform="translate(1059.75 54.71) scale(0.953 1)" font-size="68.57" font-weight="bold" fill="#000">b</text>
<text transform="translate(4.67 749.34) scale(1.076 1)" font-size="65.75" font-weight="bold" fill="#000">c</text>
<text transform="translate(1052.53 747.29) scale(1.050 1)" font-size="70.75" font-weight="bold" fill="#000">d</text>
<text transform="translate(7.97 1484.34) scale(0.961 1)" font-size="65.75" font-weight="bold" fill="#000">e</text>
<text transform="translate(1067.79 1484) scale(1.025 1)" font-size="67.59" font-weight="bold" fill="#000">f</text>
<line x1="155.5" y1="1487.5" x2="155.5" y2="2092.5" stroke="#1a1a1a" stroke-width="3" stroke-linecap="butt"/>
<line x1="150" y1="2091" x2="903" y2="2091" stroke="#1a1a1a" stroke-width="3" stroke-linecap="butt"/>
<line x1="144" y1="2036.5" x2="155.5" y2="2036.5" stroke="#1a1a1a" stroke-width="2.5" stroke-linecap="butt"/>
<text x="107.35" y="2044.8" font-size="25.5" font-weight="normal" fill="#111" stroke="#111" stroke-width="0.7">40</text>
<line x1="144" y1="1927" x2="155.5" y2="1927" stroke="#1a1a1a" stroke-width="2.5" stroke-linecap="butt"/>
<text x="107.41" y="1935.3" font-size="25.5" font-weight="normal" fill="#111" stroke="#111" stroke-width="0.7">45</text>
<line x1="144" y1="1817.5" x2="155.5" y2="1817.5" stroke="#1a1a1a" stroke-width="2.5" stroke-linecap="butt"/>
<text x="107.35" y="1825.8" font-size="25.5" font-weight="normal" fill="#111" stroke="#111" stroke-width="0.7">50</text>
<line x1="144" y1="1708" x2="155.5" y2="1708" stroke="#1a1a1a" stroke-width="2.5" stroke-linecap="butt"/>
<text x="107.41" y="1716.3" font-size="25.5" font-weight="normal" fill="#111" stroke="#111" stroke-width="0.7">55</text>
<line x1="144" y1="1598.5" x2="155.5" y2="1598.5" stroke="#1a1a1a" stroke-width="2.5" stroke-linecap="butt"/>
<text x="107.35" y="1606.8" font-size="25.5" font-weight="normal" fill="#111" stroke="#111" stroke-width="0.7">60</text>
<line x1="144" y1="1489" x2="155.5" y2="1489" stroke="#1a1a1a" stroke-width="2.5" stroke-linecap="butt"/>
<text x="107.41" y="1497.3" font-size="25.5" font-weight="normal" fill="#111" stroke="#111" stroke-width="0.7">65</text>
<line x1="149" y1="2091.25" x2="155.5" y2="2091.25" stroke="#1a1a1a" stroke-width="2.2" stroke-linecap="butt"/>
<line x1="149" y1="1981.75" x2="155.5" y2="1981.75" stroke="#1a1a1a" stroke-width="2.2" stroke-linecap="butt"/>
<line x1="149" y1="1872.25" x2="155.5" y2="1872.25" stroke="#1a1a1a" stroke-width="2.2" stroke-linecap="butt"/>
<line x1="149" y1="1762.75" x2="155.5" y2="1762.75" stroke="#1a1a1a" stroke-width="2.2" stroke-linecap="butt"/>
<line x1="149" y1="1653.25" x2="155.5" y2="1653.25" stroke="#1a1a1a" stroke-width="2.2" stroke-linecap="butt"/>
<line x1="149" y1="1543.75" x2="155.5" y2="1543.75" stroke="#1a1a1a" stroke-width="2.2" stroke-linecap="butt"/>
<line x1="249" y1="2091" x2="249" y2="2102.5" stroke="#1a1a1a" stroke-width="2.5" stroke-linecap="butt"/>
<text x="229.01" y="2130.3" font-size="26" font-weight="normal" fill="#111" stroke="#111" stroke-width="0.7">WT</text>
<line x1="436" y1="2091" x2="436" y2="2102.5" stroke="#1a1a1a" stroke-width="2.5" stroke-linecap="butt"/>
<text x="394.82" y="2130.3" font-size="26" font-weight="normal" fill="#111" stroke="#111" stroke-width="0.7">E133M</text>
<line x1="622.5" y1="2091" x2="622.5" y2="2102.5" stroke="#1a1a1a" stroke-width="2.5" stroke-linecap="butt"/>
<text x="588.18" y="2130.3" font-size="26" font-weight="normal" fill="#111" stroke="#111" stroke-width="0.7">I112R</text>
<line x1="809" y1="2091" x2="809" y2="2102.5" stroke="#1a1a1a" stroke-width="2.5" stroke-linecap="butt"/>
<text x="729.31" y="2130.3" font-size="26" font-weight="normal" fill="#111" stroke="#111" stroke-width="0.7">E133M-I112R</text>
<text transform="translate(73.7 1926.88) rotate(-90) scale(0.980 1)" font-size="31.5" font-weight="normal" fill="#111" stroke="#111" stroke-width="0.7">Apparent Radii (nm)</text>
<rect x="174.5" y="1776.7" width="149.5" height="84.5" fill="none" stroke="#6e9e6e" stroke-width="2.2"/>
<line x1="174.5" y1="1820.5" x2="324" y2="1820.5" stroke="#6e9e6e" stroke-width="2.2" stroke-linecap="butt"/>
<rect x="360.0" y="1761.5" width="151.0" height="91.0" fill="none" stroke="#b446b4" stroke-width="2.2"/>
<line x1="360" y1="1801.5" x2="511" y2="1801.5" stroke="#b446b4" stroke-width="2.2" stroke-linecap="butt"/>
<rect x="546.5" y="1766.0" width="151.0" height="94.0" fill="none" stroke="#cba66e" stroke-width="2.2"/>
<line x1="546.5" y1="1811" x2="697.5" y2="1811" stroke="#cba66e" stroke-width="2.2" stroke-linecap="butt"/>
<rect x="733.5" y="1776.0" width="150.0" height="70.5" fill="none" stroke="#5555c8" stroke-width="2.2"/>
<line x1="733.5" y1="1803" x2="883.5" y2="1803" stroke="#5555c8" stroke-width="2.2" stroke-linecap="butt"/>
<line x1="249.3" y1="1662.5" x2="249.3" y2="1776.7" stroke="#6e9e6e" stroke-width="1.6" stroke-linecap="butt"/>
<line x1="249.3" y1="1861.2" x2="249.3" y2="1948.6" stroke="#6e9e6e" stroke-width="1.6" stroke-linecap="butt"/>
<line x1="238.3" y1="1662.5" x2="260.3" y2="1662.5" stroke="#6e9e6e" stroke-width="1.6" stroke-linecap="butt"/>
<line x1="238.3" y1="1948.6" x2="260.3" y2="1948.6" stroke="#6e9e6e" stroke-width="1.6" stroke-linecap="butt"/>
<line x1="435.6" y1="1627.3" x2="435.6" y2="1761.5" stroke="#b446b4" stroke-width="1.6" stroke-linecap="butt"/>
<line x1="435.6" y1="1852.5" x2="435.6" y2="1945.6" stroke="#b446b4" stroke-width="1.6" stroke-linecap="butt"/>
<line x1="424.6" y1="1627.3" x2="446.6" y2="1627.3" stroke="#b446b4" stroke-width="1.6" stroke-linecap="butt"/>
<line x1="424.6" y1="1945.6" x2="446.6" y2="1945.6" stroke="#b446b4" stroke-width="1.6" stroke-linecap="butt"/>
<line x1="621.7" y1="1643.5" x2="621.7" y2="1766" stroke="#cba66e" stroke-width="1.6" stroke-linecap="butt"/>
<line x1="621.7" y1="1860" x2="621.7" y2="1952.3" stroke="#cba66e" stroke-width="1.6" stroke-linecap="butt"/>
<line x1="610.7" y1="1643.5" x2="632.7" y2="1643.5" stroke="#cba66e" stroke-width="1.6" stroke-linecap="butt"/>
<line x1="610.7" y1="1952.3" x2="632.7" y2="1952.3" stroke="#cba66e" stroke-width="1.6" stroke-linecap="butt"/>
<line x1="808.3" y1="1672.4" x2="808.3" y2="1776" stroke="#5555c8" stroke-width="1.6" stroke-linecap="butt"/>
<line x1="808.3" y1="1846.5" x2="808.3" y2="1927.5" stroke="#5555c8" stroke-width="1.6" stroke-linecap="butt"/>
<line x1="797.3" y1="1672.4" x2="819.3" y2="1672.4" stroke="#5555c8" stroke-width="1.6" stroke-linecap="butt"/>
<line x1="797.3" y1="1927.5" x2="819.3" y2="1927.5" stroke="#5555c8" stroke-width="1.6" stroke-linecap="butt"/>
<path d="M243.9 1610.4l8.2 8.2l-8.2 8.2l-8.2 -8.2zM241.0 1654.3l8.2 8.2l-8.2 8.2l-8.2 -8.2zM247.3 1685.9l8.2 8.2l-8.2 8.2l-8.2 -8.2zM235.8 1698.4l8.2 8.2l-8.2 8.2l-8.2 -8.2zM233.7 1711.0l8.2 8.2l-8.2 8.2l-8.2 -8.2zM243.1 1712.0l8.2 8.2l-8.2 8.2l-8.2 -8.2zM230.5 1726.7l8.2 8.2l-8.2 8.2l-8.2 -8.2zM241.0 1725.6l8.2 8.2l-8.2 8.2l-8.2 -8.2zM231.6 1740.3l8.2 8.2l-8.2 8.2l-8.2 -8.2zM241.0 1738.2l8.2 8.2l-8.2 8.2l-8.2 -8.2zM256.7 1742.3l8.2 8.2l-8.2 8.2l-8.2 -8.2zM269.2 1752.8l8.2 8.2l-8.2 8.2l-8.2 -8.2zM234.7 1757.0l8.2 8.2l-8.2 8.2l-8.2 -8.2zM244.1 1754.9l8.2 8.2l-8.2 8.2l-8.2 -8.2zM253.5 1759.1l8.2 8.2l-8.2 8.2l-8.2 -8.2zM222.2 1771.6l8.2 8.2l-8.2 8.2l-8.2 -8.2zM267.1 1767.4l8.2 8.2l-8.2 8.2l-8.2 -8.2zM272.4 1775.8l8.2 8.2l-8.2 8.2l-8.2 -8.2zM238.9 1769.5l8.2 8.2l-8.2 8.2l-8.2 -8.2zM249.4 1771.6l8.2 8.2l-8.2 8.2l-8.2 -8.2zM257.7 1774.8l8.2 8.2l-8.2 8.2l-8.2 -8.2zM220.4 1777.2l8.2 8.2l-8.2 8.2l-8.2 -8.2zM236.0 1757.4l8.2 8.2l-8.2 8.2l-8.2 -8.2zM269.9 1754.6l8.2 8.2l-8.2 8.2l-8.2 -8.2zM271.3 1774.4l8.2 8.2l-8.2 8.2l-8.2 -8.2zM230.3 1792.8l8.2 8.2l-8.2 8.2l-8.2 -8.2zM262.8 1798.4l8.2 8.2l-8.2 8.2l-8.2 -8.2zM272.7 1812.5l8.2 8.2l-8.2 8.2l-8.2 -8.2zM238.8 1816.8l8.2 8.2l-8.2 8.2l-8.2 -8.2zM260.0 1828.1l8.2 8.2l-8.2 8.2l-8.2 -8.2zM218.3 1842.2l8.2 8.2l-8.2 8.2l-8.2 -8.2zM227.5 1852.1l8.2 8.2l-8.2 8.2l-8.2 -8.2zM264.2 1845.0l8.2 8.2l-8.2 8.2l-8.2 -8.2zM227.5 1871.8l8.2 8.2l-8.2 8.2l-8.2 -8.2zM262.8 1867.6l8.2 8.2l-8.2 8.2l-8.2 -8.2zM279.7 1877.5l8.2 8.2l-8.2 8.2l-8.2 -8.2zM241.6 1886.0l8.2 8.2l-8.2 8.2l-8.2 -8.2zM257.1 1894.5l8.2 8.2l-8.2 8.2l-8.2 -8.2zM238.8 1907.2l8.2 8.2l-8.2 8.2l-8.2 -8.2zM251.5 1910.0l8.2 8.2l-8.2 8.2l-8.2 -8.2zM260.0 1907.2l8.2 8.2l-8.2 8.2l-8.2 -8.2zM230.3 1940.4l8.2 8.2l-8.2 8.2l-8.2 -8.2zM258.6 2001.8l8.2 8.2l-8.2 8.2l-8.2 -8.2zM235.8 1704.5l8.2 8.2l-8.2 8.2l-8.2 -8.2zM241.7 1700.5l8.2 8.2l-8.2 8.2l-8.2 -8.2zM239.6 1715.5l8.2 8.2l-8.2 8.2l-8.2 -8.2zM231.0 1722.7l8.2 8.2l-8.2 8.2l-8.2 -8.2zM230.7 1718.9l8.2 8.2l-8.2 8.2l-8.2 -8.2zM231.3 1701.4l8.2 8.2l-8.2 8.2l-8.2 -8.2zM237.6 1739.0l8.2 8.2l-8.2 8.2l-8.2 -8.2zM232.2 1708.2l8.2 8.2l-8.2 8.2l-8.2 -8.2zM241.3 1745.1l8.2 8.2l-8.2 8.2l-8.2 -8.2zM240.4 1717.0l8.2 8.2l-8.2 8.2l-8.2 -8.2zM247.6 1699.2l8.2 8.2l-8.2 8.2l-8.2 -8.2zM245.5 1711.6l8.2 8.2l-8.2 8.2l-8.2 -8.2zM230.6 1753.8l8.2 8.2l-8.2 8.2l-8.2 -8.2zM238.2 1789.4l8.2 8.2l-8.2 8.2l-8.2 -8.2zM232.3 1777.5l8.2 8.2l-8.2 8.2l-8.2 -8.2zM253.4 1766.8l8.2 8.2l-8.2 8.2l-8.2 -8.2zM249.2 1751.0l8.2 8.2l-8.2 8.2l-8.2 -8.2zM226.7 1758.3l8.2 8.2l-8.2 8.2l-8.2 -8.2zM255.3 1769.6l8.2 8.2l-8.2 8.2l-8.2 -8.2zM238.5 1777.7l8.2 8.2l-8.2 8.2l-8.2 -8.2zM244.8 1763.1l8.2 8.2l-8.2 8.2l-8.2 -8.2zM260.5 1783.4l8.2 8.2l-8.2 8.2l-8.2 -8.2zM235.2 1777.1l8.2 8.2l-8.2 8.2l-8.2 -8.2zM248.2 1792.4l8.2 8.2l-8.2 8.2l-8.2 -8.2zM257.6 1762.5l8.2 8.2l-8.2 8.2l-8.2 -8.2zM269.1 1753.8l8.2 8.2l-8.2 8.2l-8.2 -8.2zM243.2 1786.4l8.2 8.2l-8.2 8.2l-8.2 -8.2zM231.0 1772.7l8.2 8.2l-8.2 8.2l-8.2 -8.2zM225.8 1781.9l8.2 8.2l-8.2 8.2l-8.2 -8.2zM259.2 1777.0l8.2 8.2l-8.2 8.2l-8.2 -8.2zM264.3 1763.8l8.2 8.2l-8.2 8.2l-8.2 -8.2zM256.0 1778.1l8.2 8.2l-8.2 8.2l-8.2 -8.2zM250.7 1771.1l8.2 8.2l-8.2 8.2l-8.2 -8.2zM262.6 1796.0l8.2 8.2l-8.2 8.2l-8.2 -8.2zM245.8 1781.7l8.2 8.2l-8.2 8.2l-8.2 -8.2zM226.8 1783.6l8.2 8.2l-8.2 8.2l-8.2 -8.2zM253.8 1798.4l8.2 8.2l-8.2 8.2l-8.2 -8.2zM261.8 1762.3l8.2 8.2l-8.2 8.2l-8.2 -8.2zM241.7 1781.9l8.2 8.2l-8.2 8.2l-8.2 -8.2zM225.0 1771.3l8.2 8.2l-8.2 8.2l-8.2 -8.2zM231.7 1753.8l8.2 8.2l-8.2 8.2l-8.2 -8.2zM226.7 1787.0l8.2 8.2l-8.2 8.2l-8.2 -8.2zM229.9 1760.4l8.2 8.2l-8.2 8.2l-8.2 -8.2zM242.0 1792.2l8.2 8.2l-8.2 8.2l-8.2 -8.2zM227.7 1770.7l8.2 8.2l-8.2 8.2l-8.2 -8.2zM249.3 1792.9l8.2 8.2l-8.2 8.2l-8.2 -8.2zM261.7 1791.9l8.2 8.2l-8.2 8.2l-8.2 -8.2zM236.8 1769.0l8.2 8.2l-8.2 8.2l-8.2 -8.2zM240.5 1792.9l8.2 8.2l-8.2 8.2l-8.2 -8.2zM268.1 1755.5l8.2 8.2l-8.2 8.2l-8.2 -8.2zM232.1 1759.6l8.2 8.2l-8.2 8.2l-8.2 -8.2zM234.7 1772.5l8.2 8.2l-8.2 8.2l-8.2 -8.2zM256.0 1806.4l8.2 8.2l-8.2 8.2l-8.2 -8.2zM236.1 1810.9l8.2 8.2l-8.2 8.2l-8.2 -8.2zM248.6 1815.2l8.2 8.2l-8.2 8.2l-8.2 -8.2zM268.4 1818.8l8.2 8.2l-8.2 8.2l-8.2 -8.2zM253.5 1816.7l8.2 8.2l-8.2 8.2l-8.2 -8.2zM259.0 1800.4l8.2 8.2l-8.2 8.2l-8.2 -8.2zM266.6 1821.4l8.2 8.2l-8.2 8.2l-8.2 -8.2zM265.7 1821.9l8.2 8.2l-8.2 8.2l-8.2 -8.2zM249.3 1810.4l8.2 8.2l-8.2 8.2l-8.2 -8.2zM239.5 1817.2l8.2 8.2l-8.2 8.2l-8.2 -8.2zM238.1 1800.8l8.2 8.2l-8.2 8.2l-8.2 -8.2zM243.1 1803.5l8.2 8.2l-8.2 8.2l-8.2 -8.2zM247.6 1800.3l8.2 8.2l-8.2 8.2l-8.2 -8.2zM236.0 1803.2l8.2 8.2l-8.2 8.2l-8.2 -8.2zM239.4 1809.3l8.2 8.2l-8.2 8.2l-8.2 -8.2zM236.9 1824.2l8.2 8.2l-8.2 8.2l-8.2 -8.2zM256.9 1803.1l8.2 8.2l-8.2 8.2l-8.2 -8.2zM244.6 1808.9l8.2 8.2l-8.2 8.2l-8.2 -8.2zM248.4 1802.4l8.2 8.2l-8.2 8.2l-8.2 -8.2zM264.9 1827.6l8.2 8.2l-8.2 8.2l-8.2 -8.2zM251.8 1812.8l8.2 8.2l-8.2 8.2l-8.2 -8.2zM238.9 1801.8l8.2 8.2l-8.2 8.2l-8.2 -8.2zM234.4 1839.4l8.2 8.2l-8.2 8.2l-8.2 -8.2zM254.8 1834.9l8.2 8.2l-8.2 8.2l-8.2 -8.2zM221.0 1869.6l8.2 8.2l-8.2 8.2l-8.2 -8.2zM242.2 1834.3l8.2 8.2l-8.2 8.2l-8.2 -8.2zM242.8 1829.0l8.2 8.2l-8.2 8.2l-8.2 -8.2zM242.2 1870.9l8.2 8.2l-8.2 8.2l-8.2 -8.2zM256.3 1858.4l8.2 8.2l-8.2 8.2l-8.2 -8.2zM231.0 1843.9l8.2 8.2l-8.2 8.2l-8.2 -8.2zM227.0 1861.8l8.2 8.2l-8.2 8.2l-8.2 -8.2zM242.4 1862.1l8.2 8.2l-8.2 8.2l-8.2 -8.2zM233.8 1837.6l8.2 8.2l-8.2 8.2l-8.2 -8.2zM254.1 1871.1l8.2 8.2l-8.2 8.2l-8.2 -8.2zM255.8 1863.3l8.2 8.2l-8.2 8.2l-8.2 -8.2zM254.4 1860.4l8.2 8.2l-8.2 8.2l-8.2 -8.2zM229.5 1850.6l8.2 8.2l-8.2 8.2l-8.2 -8.2zM234.9 1829.1l8.2 8.2l-8.2 8.2l-8.2 -8.2zM221.2 1840.1l8.2 8.2l-8.2 8.2l-8.2 -8.2zM230.9 1858.3l8.2 8.2l-8.2 8.2l-8.2 -8.2zM260.2 1847.5l8.2 8.2l-8.2 8.2l-8.2 -8.2zM259.4 1871.3l8.2 8.2l-8.2 8.2l-8.2 -8.2zM260.1 1843.8l8.2 8.2l-8.2 8.2l-8.2 -8.2zM229.3 1837.8l8.2 8.2l-8.2 8.2l-8.2 -8.2zM228.3 1836.8l8.2 8.2l-8.2 8.2l-8.2 -8.2zM246.2 1867.4l8.2 8.2l-8.2 8.2l-8.2 -8.2zM255.3 1848.9l8.2 8.2l-8.2 8.2l-8.2 -8.2zM247.4 1863.0l8.2 8.2l-8.2 8.2l-8.2 -8.2zM223.6 1856.9l8.2 8.2l-8.2 8.2l-8.2 -8.2zM258.2 1862.2l8.2 8.2l-8.2 8.2l-8.2 -8.2zM251.5 1848.8l8.2 8.2l-8.2 8.2l-8.2 -8.2zM227.5 1862.5l8.2 8.2l-8.2 8.2l-8.2 -8.2zM234.0 1863.0l8.2 8.2l-8.2 8.2l-8.2 -8.2zM260.8 1845.2l8.2 8.2l-8.2 8.2l-8.2 -8.2zM236.9 1869.5l8.2 8.2l-8.2 8.2l-8.2 -8.2zM250.4 1835.3l8.2 8.2l-8.2 8.2l-8.2 -8.2zM225.3 1834.5l8.2 8.2l-8.2 8.2l-8.2 -8.2zM258.0 1863.3l8.2 8.2l-8.2 8.2l-8.2 -8.2zM226.1 1864.2l8.2 8.2l-8.2 8.2l-8.2 -8.2zM261.2 1856.7l8.2 8.2l-8.2 8.2l-8.2 -8.2zM234.7 1851.9l8.2 8.2l-8.2 8.2l-8.2 -8.2zM225.5 1828.4l8.2 8.2l-8.2 8.2l-8.2 -8.2zM259.4 1883.5l8.2 8.2l-8.2 8.2l-8.2 -8.2zM249.6 1888.6l8.2 8.2l-8.2 8.2l-8.2 -8.2zM247.5 1887.5l8.2 8.2l-8.2 8.2l-8.2 -8.2zM256.2 1875.6l8.2 8.2l-8.2 8.2l-8.2 -8.2zM243.5 1877.1l8.2 8.2l-8.2 8.2l-8.2 -8.2zM243.3 1882.4l8.2 8.2l-8.2 8.2l-8.2 -8.2zM243.7 1879.3l8.2 8.2l-8.2 8.2l-8.2 -8.2zM240.9 1888.2l8.2 8.2l-8.2 8.2l-8.2 -8.2zM245.8 1880.0l8.2 8.2l-8.2 8.2l-8.2 -8.2z" fill="#20b012"/>
<path d="M427.7 1587.7l8.2 8.2l-8.2 8.2l-8.2 -8.2zM461.5 1618.5l8.2 8.2l-8.2 8.2l-8.2 -8.2zM457.5 1640.3l8.2 8.2l-8.2 8.2l-8.2 -8.2zM432.7 1647.3l8.2 8.2l-8.2 8.2l-8.2 -8.2zM449.5 1654.3l8.2 8.2l-8.2 8.2l-8.2 -8.2zM422.7 1661.2l8.2 8.2l-8.2 8.2l-8.2 -8.2zM443.6 1669.2l8.2 8.2l-8.2 8.2l-8.2 -8.2zM441.6 1697.0l8.2 8.2l-8.2 8.2l-8.2 -8.2zM406.8 1719.8l8.2 8.2l-8.2 8.2l-8.2 -8.2zM429.7 1714.8l8.2 8.2l-8.2 8.2l-8.2 -8.2zM409.8 1883.8l8.2 8.2l-8.2 8.2l-8.2 -8.2zM457.5 1863.8l8.2 8.2l-8.2 8.2l-8.2 -8.2zM449.5 1891.8l8.2 8.2l-8.2 8.2l-8.2 -8.2zM431.7 1909.6l8.2 8.2l-8.2 8.2l-8.2 -8.2zM432.7 1925.5l8.2 8.2l-8.2 8.2l-8.2 -8.2zM439.6 1937.4l8.2 8.2l-8.2 8.2l-8.2 -8.2zM440.4 1746.6l8.2 8.2l-8.2 8.2l-8.2 -8.2zM434.7 1747.2l8.2 8.2l-8.2 8.2l-8.2 -8.2zM437.6 1730.2l8.2 8.2l-8.2 8.2l-8.2 -8.2zM438.3 1707.6l8.2 8.2l-8.2 8.2l-8.2 -8.2zM435.4 1714.9l8.2 8.2l-8.2 8.2l-8.2 -8.2zM420.1 1742.0l8.2 8.2l-8.2 8.2l-8.2 -8.2zM426.0 1727.6l8.2 8.2l-8.2 8.2l-8.2 -8.2zM445.4 1731.3l8.2 8.2l-8.2 8.2l-8.2 -8.2zM431.4 1729.6l8.2 8.2l-8.2 8.2l-8.2 -8.2zM439.4 1741.3l8.2 8.2l-8.2 8.2l-8.2 -8.2zM423.7 1731.5l8.2 8.2l-8.2 8.2l-8.2 -8.2zM428.7 1719.0l8.2 8.2l-8.2 8.2l-8.2 -8.2zM447.0 1729.1l8.2 8.2l-8.2 8.2l-8.2 -8.2zM439.7 1740.2l8.2 8.2l-8.2 8.2l-8.2 -8.2zM451.9 1726.3l8.2 8.2l-8.2 8.2l-8.2 -8.2zM441.4 1729.0l8.2 8.2l-8.2 8.2l-8.2 -8.2zM437.9 1737.3l8.2 8.2l-8.2 8.2l-8.2 -8.2zM435.8 1730.3l8.2 8.2l-8.2 8.2l-8.2 -8.2zM436.7 1748.2l8.2 8.2l-8.2 8.2l-8.2 -8.2zM444.5 1745.4l8.2 8.2l-8.2 8.2l-8.2 -8.2zM453.0 1718.2l8.2 8.2l-8.2 8.2l-8.2 -8.2zM439.6 1748.3l8.2 8.2l-8.2 8.2l-8.2 -8.2zM449.5 1758.9l8.2 8.2l-8.2 8.2l-8.2 -8.2zM415.7 1776.9l8.2 8.2l-8.2 8.2l-8.2 -8.2zM413.4 1765.0l8.2 8.2l-8.2 8.2l-8.2 -8.2zM413.4 1790.3l8.2 8.2l-8.2 8.2l-8.2 -8.2zM446.8 1803.7l8.2 8.2l-8.2 8.2l-8.2 -8.2zM417.3 1793.1l8.2 8.2l-8.2 8.2l-8.2 -8.2zM441.0 1759.2l8.2 8.2l-8.2 8.2l-8.2 -8.2zM451.5 1807.9l8.2 8.2l-8.2 8.2l-8.2 -8.2zM420.3 1807.0l8.2 8.2l-8.2 8.2l-8.2 -8.2zM428.7 1779.5l8.2 8.2l-8.2 8.2l-8.2 -8.2zM456.5 1799.9l8.2 8.2l-8.2 8.2l-8.2 -8.2zM417.6 1776.3l8.2 8.2l-8.2 8.2l-8.2 -8.2zM434.2 1770.8l8.2 8.2l-8.2 8.2l-8.2 -8.2zM419.2 1769.6l8.2 8.2l-8.2 8.2l-8.2 -8.2zM443.9 1751.9l8.2 8.2l-8.2 8.2l-8.2 -8.2zM436.0 1776.8l8.2 8.2l-8.2 8.2l-8.2 -8.2zM410.8 1770.4l8.2 8.2l-8.2 8.2l-8.2 -8.2zM439.3 1781.0l8.2 8.2l-8.2 8.2l-8.2 -8.2zM413.0 1808.9l8.2 8.2l-8.2 8.2l-8.2 -8.2zM447.1 1808.1l8.2 8.2l-8.2 8.2l-8.2 -8.2zM414.9 1766.5l8.2 8.2l-8.2 8.2l-8.2 -8.2zM411.9 1796.8l8.2 8.2l-8.2 8.2l-8.2 -8.2zM422.7 1758.4l8.2 8.2l-8.2 8.2l-8.2 -8.2zM429.8 1804.6l8.2 8.2l-8.2 8.2l-8.2 -8.2zM448.5 1766.1l8.2 8.2l-8.2 8.2l-8.2 -8.2zM417.0 1805.0l8.2 8.2l-8.2 8.2l-8.2 -8.2zM436.8 1792.1l8.2 8.2l-8.2 8.2l-8.2 -8.2zM414.2 1754.2l8.2 8.2l-8.2 8.2l-8.2 -8.2zM442.3 1775.9l8.2 8.2l-8.2 8.2l-8.2 -8.2zM413.4 1806.2l8.2 8.2l-8.2 8.2l-8.2 -8.2zM439.8 1798.1l8.2 8.2l-8.2 8.2l-8.2 -8.2zM413.9 1801.3l8.2 8.2l-8.2 8.2l-8.2 -8.2zM413.1 1801.7l8.2 8.2l-8.2 8.2l-8.2 -8.2zM431.3 1770.8l8.2 8.2l-8.2 8.2l-8.2 -8.2zM436.0 1805.5l8.2 8.2l-8.2 8.2l-8.2 -8.2zM422.6 1758.4l8.2 8.2l-8.2 8.2l-8.2 -8.2zM434.8 1764.9l8.2 8.2l-8.2 8.2l-8.2 -8.2zM415.1 1760.3l8.2 8.2l-8.2 8.2l-8.2 -8.2zM412.4 1762.7l8.2 8.2l-8.2 8.2l-8.2 -8.2zM424.7 1768.8l8.2 8.2l-8.2 8.2l-8.2 -8.2zM445.7 1767.9l8.2 8.2l-8.2 8.2l-8.2 -8.2zM433.5 1761.3l8.2 8.2l-8.2 8.2l-8.2 -8.2zM426.3 1751.9l8.2 8.2l-8.2 8.2l-8.2 -8.2zM421.8 1751.7l8.2 8.2l-8.2 8.2l-8.2 -8.2zM444.5 1783.3l8.2 8.2l-8.2 8.2l-8.2 -8.2zM418.9 1778.8l8.2 8.2l-8.2 8.2l-8.2 -8.2zM453.9 1757.1l8.2 8.2l-8.2 8.2l-8.2 -8.2zM448.5 1776.3l8.2 8.2l-8.2 8.2l-8.2 -8.2zM433.3 1800.0l8.2 8.2l-8.2 8.2l-8.2 -8.2zM428.5 1780.7l8.2 8.2l-8.2 8.2l-8.2 -8.2zM442.3 1808.8l8.2 8.2l-8.2 8.2l-8.2 -8.2zM426.1 1799.9l8.2 8.2l-8.2 8.2l-8.2 -8.2zM443.2 1788.3l8.2 8.2l-8.2 8.2l-8.2 -8.2zM429.0 1771.3l8.2 8.2l-8.2 8.2l-8.2 -8.2zM412.6 1758.5l8.2 8.2l-8.2 8.2l-8.2 -8.2zM413.3 1794.5l8.2 8.2l-8.2 8.2l-8.2 -8.2zM422.0 1760.4l8.2 8.2l-8.2 8.2l-8.2 -8.2zM414.0 1800.4l8.2 8.2l-8.2 8.2l-8.2 -8.2zM450.9 1790.4l8.2 8.2l-8.2 8.2l-8.2 -8.2zM423.3 1765.1l8.2 8.2l-8.2 8.2l-8.2 -8.2zM423.7 1828.2l8.2 8.2l-8.2 8.2l-8.2 -8.2zM418.3 1827.6l8.2 8.2l-8.2 8.2l-8.2 -8.2zM422.5 1848.3l8.2 8.2l-8.2 8.2l-8.2 -8.2zM450.9 1831.7l8.2 8.2l-8.2 8.2l-8.2 -8.2zM421.8 1848.4l8.2 8.2l-8.2 8.2l-8.2 -8.2zM424.4 1824.1l8.2 8.2l-8.2 8.2l-8.2 -8.2zM412.0 1825.1l8.2 8.2l-8.2 8.2l-8.2 -8.2zM431.0 1829.9l8.2 8.2l-8.2 8.2l-8.2 -8.2zM420.0 1830.0l8.2 8.2l-8.2 8.2l-8.2 -8.2zM412.2 1820.4l8.2 8.2l-8.2 8.2l-8.2 -8.2zM415.6 1825.8l8.2 8.2l-8.2 8.2l-8.2 -8.2zM413.7 1810.7l8.2 8.2l-8.2 8.2l-8.2 -8.2zM424.2 1819.1l8.2 8.2l-8.2 8.2l-8.2 -8.2zM435.4 1831.0l8.2 8.2l-8.2 8.2l-8.2 -8.2zM442.0 1836.1l8.2 8.2l-8.2 8.2l-8.2 -8.2zM440.6 1845.0l8.2 8.2l-8.2 8.2l-8.2 -8.2zM427.6 1822.8l8.2 8.2l-8.2 8.2l-8.2 -8.2zM451.4 1815.8l8.2 8.2l-8.2 8.2l-8.2 -8.2zM441.0 1835.5l8.2 8.2l-8.2 8.2l-8.2 -8.2zM413.8 1843.2l8.2 8.2l-8.2 8.2l-8.2 -8.2zM447.7 1834.9l8.2 8.2l-8.2 8.2l-8.2 -8.2zM441.4 1842.3l8.2 8.2l-8.2 8.2l-8.2 -8.2zM417.6 1830.8l8.2 8.2l-8.2 8.2l-8.2 -8.2zM432.2 1843.2l8.2 8.2l-8.2 8.2l-8.2 -8.2zM444.2 1842.9l8.2 8.2l-8.2 8.2l-8.2 -8.2zM435.4 1845.5l8.2 8.2l-8.2 8.2l-8.2 -8.2zM439.3 1837.5l8.2 8.2l-8.2 8.2l-8.2 -8.2zM421.2 1811.0l8.2 8.2l-8.2 8.2l-8.2 -8.2zM417.3 1824.2l8.2 8.2l-8.2 8.2l-8.2 -8.2zM416.2 1843.2l8.2 8.2l-8.2 8.2l-8.2 -8.2zM434.3 1834.9l8.2 8.2l-8.2 8.2l-8.2 -8.2zM437.0 1837.0l8.2 8.2l-8.2 8.2l-8.2 -8.2zM431.6 1809.9l8.2 8.2l-8.2 8.2l-8.2 -8.2zM443.9 1839.7l8.2 8.2l-8.2 8.2l-8.2 -8.2zM432.1 1831.2l8.2 8.2l-8.2 8.2l-8.2 -8.2zM438.4 1812.4l8.2 8.2l-8.2 8.2l-8.2 -8.2zM440.5 1859.9l8.2 8.2l-8.2 8.2l-8.2 -8.2zM416.7 1860.4l8.2 8.2l-8.2 8.2l-8.2 -8.2zM440.3 1858.0l8.2 8.2l-8.2 8.2l-8.2 -8.2zM440.6 1888.8l8.2 8.2l-8.2 8.2l-8.2 -8.2zM431.8 1865.1l8.2 8.2l-8.2 8.2l-8.2 -8.2zM431.2 1877.1l8.2 8.2l-8.2 8.2l-8.2 -8.2zM441.6 1874.5l8.2 8.2l-8.2 8.2l-8.2 -8.2zM437.1 1852.9l8.2 8.2l-8.2 8.2l-8.2 -8.2zM419.3 1860.0l8.2 8.2l-8.2 8.2l-8.2 -8.2zM440.8 1862.0l8.2 8.2l-8.2 8.2l-8.2 -8.2zM434.4 1850.3l8.2 8.2l-8.2 8.2l-8.2 -8.2zM416.2 1860.6l8.2 8.2l-8.2 8.2l-8.2 -8.2zM438.2 1877.5l8.2 8.2l-8.2 8.2l-8.2 -8.2zM438.3 1861.4l8.2 8.2l-8.2 8.2l-8.2 -8.2zM432.6 1868.4l8.2 8.2l-8.2 8.2l-8.2 -8.2zM430.8 1854.5l8.2 8.2l-8.2 8.2l-8.2 -8.2z" fill="#ec00ec"/>
<path d="M609.8 1633.8l8.2 8.2l-8.2 8.2l-8.2 -8.2zM614.5 1642.2l8.2 8.2l-8.2 8.2l-8.2 -8.2zM628.6 1678.0l8.2 8.2l-8.2 8.2l-8.2 -8.2zM598.6 1694.0l8.2 8.2l-8.2 8.2l-8.2 -8.2zM640.9 1703.4l8.2 8.2l-8.2 8.2l-8.2 -8.2zM631.5 1714.6l8.2 8.2l-8.2 8.2l-8.2 -8.2zM642.8 1718.4l8.2 8.2l-8.2 8.2l-8.2 -8.2zM648.4 1725.9l8.2 8.2l-8.2 8.2l-8.2 -8.2zM601.4 1733.4l8.2 8.2l-8.2 8.2l-8.2 -8.2zM616.4 1729.7l8.2 8.2l-8.2 8.2l-8.2 -8.2zM610.8 1744.7l8.2 8.2l-8.2 8.2l-8.2 -8.2zM639.0 1733.4l8.2 8.2l-8.2 8.2l-8.2 -8.2zM637.1 1746.6l8.2 8.2l-8.2 8.2l-8.2 -8.2zM614.5 1767.3l8.2 8.2l-8.2 8.2l-8.2 -8.2zM623.9 1774.8l8.2 8.2l-8.2 8.2l-8.2 -8.2zM644.6 1783.3l8.2 8.2l-8.2 8.2l-8.2 -8.2zM618.3 1786.1l8.2 8.2l-8.2 8.2l-8.2 -8.2zM625.8 1789.9l8.2 8.2l-8.2 8.2l-8.2 -8.2zM597.6 1795.5l8.2 8.2l-8.2 8.2l-8.2 -8.2zM608.9 1799.3l8.2 8.2l-8.2 8.2l-8.2 -8.2zM603.3 1808.7l8.2 8.2l-8.2 8.2l-8.2 -8.2zM620.2 1810.6l8.2 8.2l-8.2 8.2l-8.2 -8.2zM597.6 1827.5l8.2 8.2l-8.2 8.2l-8.2 -8.2zM608.9 1831.3l8.2 8.2l-8.2 8.2l-8.2 -8.2zM627.7 1827.5l8.2 8.2l-8.2 8.2l-8.2 -8.2zM616.4 1838.8l8.2 8.2l-8.2 8.2l-8.2 -8.2zM635.2 1836.9l8.2 8.2l-8.2 8.2l-8.2 -8.2zM642.8 1844.4l8.2 8.2l-8.2 8.2l-8.2 -8.2zM625.8 1848.2l8.2 8.2l-8.2 8.2l-8.2 -8.2zM645.6 1851.9l8.2 8.2l-8.2 8.2l-8.2 -8.2zM605.1 1861.3l8.2 8.2l-8.2 8.2l-8.2 -8.2zM620.2 1867.0l8.2 8.2l-8.2 8.2l-8.2 -8.2zM635.2 1868.9l8.2 8.2l-8.2 8.2l-8.2 -8.2zM627.7 1876.4l8.2 8.2l-8.2 8.2l-8.2 -8.2zM631.5 1885.8l8.2 8.2l-8.2 8.2l-8.2 -8.2zM595.7 1880.2l8.2 8.2l-8.2 8.2l-8.2 -8.2zM592.0 1889.6l8.2 8.2l-8.2 8.2l-8.2 -8.2zM629.6 1902.7l8.2 8.2l-8.2 8.2l-8.2 -8.2zM608.9 1908.4l8.2 8.2l-8.2 8.2l-8.2 -8.2zM623.9 1921.5l8.2 8.2l-8.2 8.2l-8.2 -8.2zM626.8 1932.8l8.2 8.2l-8.2 8.2l-8.2 -8.2zM631.5 1946.0l8.2 8.2l-8.2 8.2l-8.2 -8.2zM615.0 1771.8l8.2 8.2l-8.2 8.2l-8.2 -8.2zM630.0 1791.8l8.2 8.2l-8.2 8.2l-8.2 -8.2zM612.0 1816.8l8.2 8.2l-8.2 8.2l-8.2 -8.2zM622.0 1833.8l8.2 8.2l-8.2 8.2l-8.2 -8.2zM633.0 1853.8l8.2 8.2l-8.2 8.2l-8.2 -8.2zM640.0 1821.8l8.2 8.2l-8.2 8.2l-8.2 -8.2zM604.0 1781.8l8.2 8.2l-8.2 8.2l-8.2 -8.2z" fill="#f28e18"/>
<path d="M812.0 1628.8l8.2 8.2l-8.2 8.2l-8.2 -8.2zM818.0 1634.8l8.2 8.2l-8.2 8.2l-8.2 -8.2zM791.3 1651.2l8.2 8.2l-8.2 8.2l-8.2 -8.2zM805.1 1664.2l8.2 8.2l-8.2 8.2l-8.2 -8.2zM830.2 1664.2l8.2 8.2l-8.2 8.2l-8.2 -8.2zM818.0 1683.6l8.2 8.2l-8.2 8.2l-8.2 -8.2zM798.6 1711.2l8.2 8.2l-8.2 8.2l-8.2 -8.2zM804.3 1706.3l8.2 8.2l-8.2 8.2l-8.2 -8.2zM808.3 1720.9l8.2 8.2l-8.2 8.2l-8.2 -8.2zM824.5 1720.1l8.2 8.2l-8.2 8.2l-8.2 -8.2zM792.9 1737.1l8.2 8.2l-8.2 8.2l-8.2 -8.2zM809.9 1748.4l8.2 8.2l-8.2 8.2l-8.2 -8.2zM790.5 1758.9l8.2 8.2l-8.2 8.2l-8.2 -8.2zM798.6 1759.7l8.2 8.2l-8.2 8.2l-8.2 -8.2zM808.3 1761.4l8.2 8.2l-8.2 8.2l-8.2 -8.2zM831.8 1773.5l8.2 8.2l-8.2 8.2l-8.2 -8.2zM789.7 1778.4l8.2 8.2l-8.2 8.2l-8.2 -8.2zM800.0 1777.8l8.2 8.2l-8.2 8.2l-8.2 -8.2zM808.0 1774.8l8.2 8.2l-8.2 8.2l-8.2 -8.2zM815.0 1780.8l8.2 8.2l-8.2 8.2l-8.2 -8.2zM803.0 1786.8l8.2 8.2l-8.2 8.2l-8.2 -8.2zM811.0 1785.8l8.2 8.2l-8.2 8.2l-8.2 -8.2zM818.0 1786.8l8.2 8.2l-8.2 8.2l-8.2 -8.2zM831.8 1791.3l8.2 8.2l-8.2 8.2l-8.2 -8.2zM789.7 1794.6l8.2 8.2l-8.2 8.2l-8.2 -8.2zM798.0 1795.8l8.2 8.2l-8.2 8.2l-8.2 -8.2zM806.0 1793.8l8.2 8.2l-8.2 8.2l-8.2 -8.2zM819.6 1800.2l8.2 8.2l-8.2 8.2l-8.2 -8.2zM810.0 1802.8l8.2 8.2l-8.2 8.2l-8.2 -8.2zM793.7 1818.0l8.2 8.2l-8.2 8.2l-8.2 -8.2zM803.0 1816.8l8.2 8.2l-8.2 8.2l-8.2 -8.2zM813.0 1820.8l8.2 8.2l-8.2 8.2l-8.2 -8.2zM823.0 1818.8l8.2 8.2l-8.2 8.2l-8.2 -8.2zM829.4 1827.8l8.2 8.2l-8.2 8.2l-8.2 -8.2zM784.8 1840.7l8.2 8.2l-8.2 8.2l-8.2 -8.2zM802.0 1836.8l8.2 8.2l-8.2 8.2l-8.2 -8.2zM810.0 1841.8l8.2 8.2l-8.2 8.2l-8.2 -8.2zM818.0 1841.8l8.2 8.2l-8.2 8.2l-8.2 -8.2zM803.0 1848.8l8.2 8.2l-8.2 8.2l-8.2 -8.2zM821.3 1852.0l8.2 8.2l-8.2 8.2l-8.2 -8.2zM783.2 1858.5l8.2 8.2l-8.2 8.2l-8.2 -8.2zM798.6 1865.0l8.2 8.2l-8.2 8.2l-8.2 -8.2zM806.0 1861.8l8.2 8.2l-8.2 8.2l-8.2 -8.2zM813.2 1873.1l8.2 8.2l-8.2 8.2l-8.2 -8.2zM827.7 1878.0l8.2 8.2l-8.2 8.2l-8.2 -8.2zM806.7 1892.5l8.2 8.2l-8.2 8.2l-8.2 -8.2zM807.5 1899.0l8.2 8.2l-8.2 8.2l-8.2 -8.2zM824.5 1919.3l8.2 8.2l-8.2 8.2l-8.2 -8.2zM800.0 1806.8l8.2 8.2l-8.2 8.2l-8.2 -8.2zM815.0 1806.8l8.2 8.2l-8.2 8.2l-8.2 -8.2zM796.0 1829.8l8.2 8.2l-8.2 8.2l-8.2 -8.2zM812.0 1829.8l8.2 8.2l-8.2 8.2l-8.2 -8.2zM805.0 1853.8l8.2 8.2l-8.2 8.2l-8.2 -8.2zM818.8 1781.7l8.2 8.2l-8.2 8.2l-8.2 -8.2zM821.3 1855.4l8.2 8.2l-8.2 8.2l-8.2 -8.2zM792.5 1807.7l8.2 8.2l-8.2 8.2l-8.2 -8.2zM816.6 1858.6l8.2 8.2l-8.2 8.2l-8.2 -8.2zM805.5 1788.7l8.2 8.2l-8.2 8.2l-8.2 -8.2zM798.3 1856.4l8.2 8.2l-8.2 8.2l-8.2 -8.2zM798.3 1819.9l8.2 8.2l-8.2 8.2l-8.2 -8.2zM796.3 1814.2l8.2 8.2l-8.2 8.2l-8.2 -8.2zM820.6 1775.1l8.2 8.2l-8.2 8.2l-8.2 -8.2zM816.6 1812.7l8.2 8.2l-8.2 8.2l-8.2 -8.2zM818.6 1832.1l8.2 8.2l-8.2 8.2l-8.2 -8.2zM798.9 1851.6l8.2 8.2l-8.2 8.2l-8.2 -8.2zM806.6 1764.3l8.2 8.2l-8.2 8.2l-8.2 -8.2zM792.1 1811.0l8.2 8.2l-8.2 8.2l-8.2 -8.2zM805.5 1792.0l8.2 8.2l-8.2 8.2l-8.2 -8.2zM796.2 1796.2l8.2 8.2l-8.2 8.2l-8.2 -8.2zM801.5 1845.8l8.2 8.2l-8.2 8.2l-8.2 -8.2zM792.1 1836.9l8.2 8.2l-8.2 8.2l-8.2 -8.2zM817.2 1773.8l8.2 8.2l-8.2 8.2l-8.2 -8.2zM819.8 1833.1l8.2 8.2l-8.2 8.2l-8.2 -8.2zM819.0 1790.8l8.2 8.2l-8.2 8.2l-8.2 -8.2zM803.2 1801.1l8.2 8.2l-8.2 8.2l-8.2 -8.2z" fill="#1000ee"/>
<line x1="249" y1="1511" x2="506.48" y2="1511" stroke="#555" stroke-width="1.6" stroke-linecap="butt"/>
<line x1="563.52" y1="1511" x2="809" y2="1511" stroke="#555" stroke-width="1.6" stroke-linecap="butt"/>
<text x="509.4" y="1516.94" font-size="16.5" font-weight="normal" fill="#222" stroke="#222" stroke-width="0.3">p = 0.1</text>
<line x1="249" y1="1543.5" x2="407.44" y2="1543.5" stroke="#555" stroke-width="1.6" stroke-linecap="butt"/>
<line x1="464.56" y1="1543.5" x2="622.5" y2="1543.5" stroke="#555" stroke-width="1.6" stroke-linecap="butt"/>
<text x="410.36" y="1549.44" font-size="16.5" font-weight="normal" fill="#222" stroke="#222" stroke-width="0.3">p = 0.6</text>
<line x1="249" y1="1576.5" x2="312.92" y2="1576.5" stroke="#555" stroke-width="1.6" stroke-linecap="butt"/>
<line x1="379.08" y1="1576.5" x2="436" y2="1576.5" stroke="#555" stroke-width="1.6" stroke-linecap="butt"/>
<text x="315.85" y="1582.44" font-size="16.5" font-weight="normal" fill="#222" stroke="#222" stroke-width="0.3">p = 0.07</text>
<line x1="1245.5" y1="1488" x2="1245.5" y2="2087.5" stroke="#1a1a1a" stroke-width="3" stroke-linecap="butt"/>
<line x1="1240" y1="2086" x2="1988" y2="2086" stroke="#1a1a1a" stroke-width="3" stroke-linecap="butt"/>
<line x1="1234" y1="2053" x2="1245.5" y2="2053" stroke="#1a1a1a" stroke-width="2.5" stroke-linecap="butt"/>
<text x="1184.02" y="2061.7" font-size="24.5" font-weight="normal" fill="#111" stroke="#111" stroke-width="0.7">-0.2</text>
<line x1="1234" y1="1986.5" x2="1245.5" y2="1986.5" stroke="#1a1a1a" stroke-width="2.5" stroke-linecap="butt"/>
<text x="1191.86" y="1995.2" font-size="24.5" font-weight="normal" fill="#111" stroke="#111" stroke-width="0.7">0.0</text>
<line x1="1234" y1="1920" x2="1245.5" y2="1920" stroke="#1a1a1a" stroke-width="2.5" stroke-linecap="butt"/>
<text x="1192.17" y="1928.7" font-size="24.5" font-weight="normal" fill="#111" stroke="#111" stroke-width="0.7">0.2</text>
<line x1="1234" y1="1853.5" x2="1245.5" y2="1853.5" stroke="#1a1a1a" stroke-width="2.5" stroke-linecap="butt"/>
<text x="1191.62" y="1862.2" font-size="24.5" font-weight="normal" fill="#111" stroke="#111" stroke-width="0.7">0.4</text>
<line x1="1234" y1="1787" x2="1245.5" y2="1787" stroke="#1a1a1a" stroke-width="2.5" stroke-linecap="butt"/>
<text x="1191.99" y="1795.7" font-size="24.5" font-weight="normal" fill="#111" stroke="#111" stroke-width="0.7">0.6</text>
<line x1="1234" y1="1720.5" x2="1245.5" y2="1720.5" stroke="#1a1a1a" stroke-width="2.5" stroke-linecap="butt"/>
<text x="1191.99" y="1729.2" font-size="24.5" font-weight="normal" fill="#111" stroke="#111" stroke-width="0.7">0.8</text>
<line x1="1234" y1="1654" x2="1245.5" y2="1654" stroke="#1a1a1a" stroke-width="2.5" stroke-linecap="butt"/>
<text x="1191.86" y="1662.7" font-size="24.5" font-weight="normal" fill="#111" stroke="#111" stroke-width="0.7">1.0</text>
<line x1="1234" y1="1587.5" x2="1245.5" y2="1587.5" stroke="#1a1a1a" stroke-width="2.5" stroke-linecap="butt"/>
<text x="1192.17" y="1596.2" font-size="24.5" font-weight="normal" fill="#111" stroke="#111" stroke-width="0.7">1.2</text>
<line x1="1234" y1="1521" x2="1245.5" y2="1521" stroke="#1a1a1a" stroke-width="2.5" stroke-linecap="butt"/>
<text x="1191.62" y="1529.7" font-size="24.5" font-weight="normal" fill="#111" stroke="#111" stroke-width="0.7">1.4</text>
<line x1="1239" y1="2086.25" x2="1245.5" y2="2086.25" stroke="#1a1a1a" stroke-width="2.2" stroke-linecap="butt"/>
<line x1="1239" y1="2019.75" x2="1245.5" y2="2019.75" stroke="#1a1a1a" stroke-width="2.2" stroke-linecap="butt"/>
<line x1="1239" y1="1953.25" x2="1245.5" y2="1953.25" stroke="#1a1a1a" stroke-width="2.2" stroke-linecap="butt"/>
<line x1="1239" y1="1886.75" x2="1245.5" y2="1886.75" stroke="#1a1a1a" stroke-width="2.2" stroke-linecap="butt"/>
<line x1="1239" y1="1820.25" x2="1245.5" y2="1820.25" stroke="#1a1a1a" stroke-width="2.2" stroke-linecap="butt"/>
<line x1="1239" y1="1753.75" x2="1245.5" y2="1753.75" stroke="#1a1a1a" stroke-width="2.2" stroke-linecap="butt"/>
<line x1="1239" y1="1687.25" x2="1245.5" y2="1687.25" stroke="#1a1a1a" stroke-width="2.2" stroke-linecap="butt"/>
<line x1="1239" y1="1620.75" x2="1245.5" y2="1620.75" stroke="#1a1a1a" stroke-width="2.2" stroke-linecap="butt"/>
<line x1="1239" y1="1554.25" x2="1245.5" y2="1554.25" stroke="#1a1a1a" stroke-width="2.2" stroke-linecap="butt"/>
<line x1="1239" y1="1487.75" x2="1245.5" y2="1487.75" stroke="#1a1a1a" stroke-width="2.2" stroke-linecap="butt"/>
<line x1="1339" y1="2086" x2="1339" y2="2097.5" stroke="#1a1a1a" stroke-width="2.5" stroke-linecap="butt"/>
<text x="1319.01" y="2126" font-size="26" font-weight="normal" fill="#111" stroke="#111" stroke-width="0.7">WT</text>
<line x1="1524" y1="2086" x2="1524" y2="2097.5" stroke="#1a1a1a" stroke-width="2.5" stroke-linecap="butt"/>
<text x="1482.82" y="2126" font-size="26" font-weight="normal" fill="#111" stroke="#111" stroke-width="0.7">E133M</text>
<line x1="1710" y1="2086" x2="1710" y2="2097.5" stroke="#1a1a1a" stroke-width="2.5" stroke-linecap="butt"/>
<text x="1675.68" y="2126" font-size="26" font-weight="normal" fill="#111" stroke="#111" stroke-width="0.7">I112R</text>
<line x1="1896" y1="2086" x2="1896" y2="2097.5" stroke="#1a1a1a" stroke-width="2.5" stroke-linecap="butt"/>
<text x="1816.31" y="2126" font-size="26" font-weight="normal" fill="#111" stroke="#111" stroke-width="0.7">E133M-I112R</text>
<text transform="translate(1169.5 2002.58) rotate(-90) scale(1.008 1)" font-size="31" font-weight="normal" fill="#111" stroke="#111" stroke-width="0.7">Ku-XLF Cross Correlation (AU)</text>
<rect x="1263.5" y="1833.5" width="150.0" height="105.5" fill="none" stroke="#6aa86a" stroke-width="2.2"/>
<line x1="1263.5" y1="1888.5" x2="1413.5" y2="1888.5" stroke="#6aa86a" stroke-width="2.2" stroke-linecap="butt"/>
<rect x="1450.0" y="1861.0" width="148.5" height="77.0" fill="none" stroke="#b446b4" stroke-width="2.2"/>
<line x1="1450" y1="1897.5" x2="1598.5" y2="1897.5" stroke="#b446b4" stroke-width="2.2" stroke-linecap="butt"/>
<rect x="1635.0" y="1811.0" width="150.0" height="153.0" fill="none" stroke="#cba66e" stroke-width="2.2"/>
<line x1="1635" y1="1895" x2="1785" y2="1895" stroke="#cba66e" stroke-width="2.2" stroke-linecap="butt"/>
<rect x="1821.5" y="1815.5" width="149.5" height="108.0" fill="none" stroke="#5555c8" stroke-width="2.2"/>
<line x1="1821.5" y1="1859.5" x2="1971" y2="1859.5" stroke="#5555c8" stroke-width="2.2" stroke-linecap="butt"/>
<line x1="1338.5" y1="1696.7" x2="1338.5" y2="1833.5" stroke="#6aa86a" stroke-width="1.6" stroke-linecap="butt"/>
<line x1="1338.5" y1="1939" x2="1338.5" y2="1986.5" stroke="#6aa86a" stroke-width="1.6" stroke-linecap="butt"/>
<line x1="1327.5" y1="1696.7" x2="1349.5" y2="1696.7" stroke="#6aa86a" stroke-width="1.6" stroke-linecap="butt"/>
<line x1="1327.5" y1="1986.5" x2="1349.5" y2="1986.5" stroke="#6aa86a" stroke-width="1.6" stroke-linecap="butt"/>
<line x1="1523.5" y1="1810" x2="1523.5" y2="1861" stroke="#b446b4" stroke-width="1.6" stroke-linecap="butt"/>
<line x1="1523.5" y1="1938" x2="1523.5" y2="1990.2" stroke="#b446b4" stroke-width="1.6" stroke-linecap="butt"/>
<line x1="1512.5" y1="1810" x2="1534.5" y2="1810" stroke="#b446b4" stroke-width="1.6" stroke-linecap="butt"/>
<line x1="1512.5" y1="1990.2" x2="1534.5" y2="1990.2" stroke="#b446b4" stroke-width="1.6" stroke-linecap="butt"/>
<line x1="1709.2" y1="1633" x2="1709.2" y2="1811" stroke="#cba66e" stroke-width="1.6" stroke-linecap="butt"/>
<line x1="1709.2" y1="1964" x2="1709.2" y2="1986.5" stroke="#cba66e" stroke-width="1.6" stroke-linecap="butt"/>
<line x1="1698.2" y1="1633" x2="1720.2" y2="1633" stroke="#cba66e" stroke-width="1.6" stroke-linecap="butt"/>
<line x1="1698.2" y1="1986.5" x2="1720.2" y2="1986.5" stroke="#cba66e" stroke-width="1.6" stroke-linecap="butt"/>
<line x1="1895.9" y1="1706.2" x2="1895.9" y2="1815.5" stroke="#5555c8" stroke-width="1.6" stroke-linecap="butt"/>
<line x1="1895.9" y1="1923.5" x2="1895.9" y2="1986.5" stroke="#5555c8" stroke-width="1.6" stroke-linecap="butt"/>
<line x1="1884.9" y1="1706.2" x2="1906.9" y2="1706.2" stroke="#5555c8" stroke-width="1.6" stroke-linecap="butt"/>
<line x1="1884.9" y1="1986.5" x2="1906.9" y2="1986.5" stroke="#5555c8" stroke-width="1.6" stroke-linecap="butt"/>
<path d="M1307.6 1688.5l8.2 8.2l-8.2 8.2l-8.2 -8.2zM1327.6 1704.4l8.2 8.2l-8.2 8.2l-8.2 -8.2zM1331.8 1720.3l8.2 8.2l-8.2 8.2l-8.2 -8.2zM1341.8 1725.3l8.2 8.2l-8.2 8.2l-8.2 -8.2zM1369.4 1721.1l8.2 8.2l-8.2 8.2l-8.2 -8.2zM1320.1 1761.3l8.2 8.2l-8.2 8.2l-8.2 -8.2zM1339.3 1762.9l8.2 8.2l-8.2 8.2l-8.2 -8.2zM1340.2 1777.2l8.2 8.2l-8.2 8.2l-8.2 -8.2zM1345.2 1787.2l8.2 8.2l-8.2 8.2l-8.2 -8.2zM1329.3 1793.0l8.2 8.2l-8.2 8.2l-8.2 -8.2zM1361.1 1798.1l8.2 8.2l-8.2 8.2l-8.2 -8.2zM1341.8 1802.2l8.2 8.2l-8.2 8.2l-8.2 -8.2zM1343.5 1810.6l8.2 8.2l-8.2 8.2l-8.2 -8.2zM1320.1 1815.6l8.2 8.2l-8.2 8.2l-8.2 -8.2zM1309.2 1824.0l8.2 8.2l-8.2 8.2l-8.2 -8.2zM1330.1 1819.0l8.2 8.2l-8.2 8.2l-8.2 -8.2zM1353.5 1819.0l8.2 8.2l-8.2 8.2l-8.2 -8.2zM1333.0 1838.8l8.2 8.2l-8.2 8.2l-8.2 -8.2zM1345.0 1832.8l8.2 8.2l-8.2 8.2l-8.2 -8.2zM1348.0 1846.8l8.2 8.2l-8.2 8.2l-8.2 -8.2zM1360.2 1845.7l8.2 8.2l-8.2 8.2l-8.2 -8.2zM1361.9 1852.4l8.2 8.2l-8.2 8.2l-8.2 -8.2zM1316.8 1862.4l8.2 8.2l-8.2 8.2l-8.2 -8.2zM1335.0 1854.8l8.2 8.2l-8.2 8.2l-8.2 -8.2zM1343.0 1862.8l8.2 8.2l-8.2 8.2l-8.2 -8.2zM1351.0 1869.8l8.2 8.2l-8.2 8.2l-8.2 -8.2zM1321.8 1880.8l8.2 8.2l-8.2 8.2l-8.2 -8.2zM1332.0 1876.8l8.2 8.2l-8.2 8.2l-8.2 -8.2zM1327.0 1891.8l8.2 8.2l-8.2 8.2l-8.2 -8.2zM1323.4 1905.9l8.2 8.2l-8.2 8.2l-8.2 -8.2zM1333.0 1888.8l8.2 8.2l-8.2 8.2l-8.2 -8.2zM1333.0 1901.8l8.2 8.2l-8.2 8.2l-8.2 -8.2zM1351.9 1904.2l8.2 8.2l-8.2 8.2l-8.2 -8.2zM1357.0 1903.8l8.2 8.2l-8.2 8.2l-8.2 -8.2zM1356.9 1919.3l8.2 8.2l-8.2 8.2l-8.2 -8.2zM1347.0 1921.8l8.2 8.2l-8.2 8.2l-8.2 -8.2zM1315.1 1931.0l8.2 8.2l-8.2 8.2l-8.2 -8.2zM1327.0 1932.8l8.2 8.2l-8.2 8.2l-8.2 -8.2zM1340.0 1932.8l8.2 8.2l-8.2 8.2l-8.2 -8.2zM1351.0 1939.8l8.2 8.2l-8.2 8.2l-8.2 -8.2zM1321.8 1954.4l8.2 8.2l-8.2 8.2l-8.2 -8.2zM1338.0 1955.8l8.2 8.2l-8.2 8.2l-8.2 -8.2zM1311.7 1976.1l8.2 8.2l-8.2 8.2l-8.2 -8.2zM1323.0 1976.1l8.2 8.2l-8.2 8.2l-8.2 -8.2zM1334.0 1976.1l8.2 8.2l-8.2 8.2l-8.2 -8.2zM1344.0 1976.8l8.2 8.2l-8.2 8.2l-8.2 -8.2zM1340.0 1946.8l8.2 8.2l-8.2 8.2l-8.2 -8.2zM1330.0 1916.8l8.2 8.2l-8.2 8.2l-8.2 -8.2zM1350.0 1811.3l8.2 8.2l-8.2 8.2l-8.2 -8.2zM1334.7 1800.5l8.2 8.2l-8.2 8.2l-8.2 -8.2zM1332.6 1775.0l8.2 8.2l-8.2 8.2l-8.2 -8.2zM1328.4 1827.7l8.2 8.2l-8.2 8.2l-8.2 -8.2zM1332.9 1834.5l8.2 8.2l-8.2 8.2l-8.2 -8.2zM1332.0 1789.6l8.2 8.2l-8.2 8.2l-8.2 -8.2zM1338.3 1784.5l8.2 8.2l-8.2 8.2l-8.2 -8.2zM1335.0 1835.9l8.2 8.2l-8.2 8.2l-8.2 -8.2zM1347.2 1826.2l8.2 8.2l-8.2 8.2l-8.2 -8.2zM1341.1 1833.0l8.2 8.2l-8.2 8.2l-8.2 -8.2zM1352.9 1866.3l8.2 8.2l-8.2 8.2l-8.2 -8.2zM1345.2 1841.3l8.2 8.2l-8.2 8.2l-8.2 -8.2zM1345.6 1861.3l8.2 8.2l-8.2 8.2l-8.2 -8.2zM1346.3 1871.0l8.2 8.2l-8.2 8.2l-8.2 -8.2zM1330.0 1841.2l8.2 8.2l-8.2 8.2l-8.2 -8.2zM1352.4 1845.2l8.2 8.2l-8.2 8.2l-8.2 -8.2zM1336.5 1856.0l8.2 8.2l-8.2 8.2l-8.2 -8.2zM1330.4 1875.8l8.2 8.2l-8.2 8.2l-8.2 -8.2zM1354.2 1851.8l8.2 8.2l-8.2 8.2l-8.2 -8.2zM1343.0 1853.8l8.2 8.2l-8.2 8.2l-8.2 -8.2zM1339.5 1858.5l8.2 8.2l-8.2 8.2l-8.2 -8.2zM1325.9 1846.9l8.2 8.2l-8.2 8.2l-8.2 -8.2zM1325.9 1942.3l8.2 8.2l-8.2 8.2l-8.2 -8.2zM1336.9 1901.8l8.2 8.2l-8.2 8.2l-8.2 -8.2zM1352.4 1947.6l8.2 8.2l-8.2 8.2l-8.2 -8.2zM1335.1 1897.0l8.2 8.2l-8.2 8.2l-8.2 -8.2zM1325.3 1894.2l8.2 8.2l-8.2 8.2l-8.2 -8.2zM1331.0 1894.2l8.2 8.2l-8.2 8.2l-8.2 -8.2zM1327.1 1904.0l8.2 8.2l-8.2 8.2l-8.2 -8.2zM1339.6 1941.1l8.2 8.2l-8.2 8.2l-8.2 -8.2zM1346.5 1913.2l8.2 8.2l-8.2 8.2l-8.2 -8.2zM1333.7 1919.7l8.2 8.2l-8.2 8.2l-8.2 -8.2zM1332.3 1908.8l8.2 8.2l-8.2 8.2l-8.2 -8.2zM1320.4 1905.2l8.2 8.2l-8.2 8.2l-8.2 -8.2zM1345.0 1951.3l8.2 8.2l-8.2 8.2l-8.2 -8.2zM1330.1 1965.4l8.2 8.2l-8.2 8.2l-8.2 -8.2zM1341.6 1953.8l8.2 8.2l-8.2 8.2l-8.2 -8.2zM1322.7 1954.8l8.2 8.2l-8.2 8.2l-8.2 -8.2zM1326.8 1960.3l8.2 8.2l-8.2 8.2l-8.2 -8.2zM1344.5 1971.6l8.2 8.2l-8.2 8.2l-8.2 -8.2z" fill="#22b818"/>
<path d="M1515.4 1702.9l8.2 8.2l-8.2 8.2l-8.2 -8.2zM1524.3 1719.9l8.2 8.2l-8.2 8.2l-8.2 -8.2zM1525.1 1727.2l8.2 8.2l-8.2 8.2l-8.2 -8.2zM1512.9 1733.7l8.2 8.2l-8.2 8.2l-8.2 -8.2zM1517.0 1783.9l8.2 8.2l-8.2 8.2l-8.2 -8.2zM1530.0 1781.5l8.2 8.2l-8.2 8.2l-8.2 -8.2zM1497.6 1802.5l8.2 8.2l-8.2 8.2l-8.2 -8.2zM1534.8 1801.7l8.2 8.2l-8.2 8.2l-8.2 -8.2zM1533.2 1811.5l8.2 8.2l-8.2 8.2l-8.2 -8.2zM1527.0 1794.8l8.2 8.2l-8.2 8.2l-8.2 -8.2zM1496.7 1823.6l8.2 8.2l-8.2 8.2l-8.2 -8.2zM1503.2 1822.8l8.2 8.2l-8.2 8.2l-8.2 -8.2zM1523.5 1824.4l8.2 8.2l-8.2 8.2l-8.2 -8.2zM1536.5 1829.3l8.2 8.2l-8.2 8.2l-8.2 -8.2zM1515.0 1830.8l8.2 8.2l-8.2 8.2l-8.2 -8.2zM1499.2 1852.0l8.2 8.2l-8.2 8.2l-8.2 -8.2zM1509.0 1849.8l8.2 8.2l-8.2 8.2l-8.2 -8.2zM1520.0 1843.8l8.2 8.2l-8.2 8.2l-8.2 -8.2zM1530.0 1849.8l8.2 8.2l-8.2 8.2l-8.2 -8.2zM1540.0 1853.8l8.2 8.2l-8.2 8.2l-8.2 -8.2zM1547.0 1861.8l8.2 8.2l-8.2 8.2l-8.2 -8.2zM1515.0 1857.8l8.2 8.2l-8.2 8.2l-8.2 -8.2zM1528.0 1863.8l8.2 8.2l-8.2 8.2l-8.2 -8.2zM1538.0 1871.8l8.2 8.2l-8.2 8.2l-8.2 -8.2zM1520.0 1871.8l8.2 8.2l-8.2 8.2l-8.2 -8.2zM1530.0 1881.8l8.2 8.2l-8.2 8.2l-8.2 -8.2zM1545.0 1878.8l8.2 8.2l-8.2 8.2l-8.2 -8.2zM1500.8 1886.0l8.2 8.2l-8.2 8.2l-8.2 -8.2zM1512.0 1891.8l8.2 8.2l-8.2 8.2l-8.2 -8.2zM1525.0 1891.8l8.2 8.2l-8.2 8.2l-8.2 -8.2zM1538.0 1888.8l8.2 8.2l-8.2 8.2l-8.2 -8.2zM1520.0 1901.8l8.2 8.2l-8.2 8.2l-8.2 -8.2zM1535.0 1901.8l8.2 8.2l-8.2 8.2l-8.2 -8.2zM1547.8 1907.1l8.2 8.2l-8.2 8.2l-8.2 -8.2zM1502.4 1913.6l8.2 8.2l-8.2 8.2l-8.2 -8.2zM1515.0 1916.8l8.2 8.2l-8.2 8.2l-8.2 -8.2zM1528.0 1913.8l8.2 8.2l-8.2 8.2l-8.2 -8.2zM1540.0 1916.8l8.2 8.2l-8.2 8.2l-8.2 -8.2zM1495.9 1929.8l8.2 8.2l-8.2 8.2l-8.2 -8.2zM1510.0 1929.8l8.2 8.2l-8.2 8.2l-8.2 -8.2zM1522.0 1931.8l8.2 8.2l-8.2 8.2l-8.2 -8.2zM1546.2 1926.5l8.2 8.2l-8.2 8.2l-8.2 -8.2zM1530.0 1936.8l8.2 8.2l-8.2 8.2l-8.2 -8.2zM1518.0 1946.8l8.2 8.2l-8.2 8.2l-8.2 -8.2zM1549.4 1949.2l8.2 8.2l-8.2 8.2l-8.2 -8.2zM1517.0 1956.8l8.2 8.2l-8.2 8.2l-8.2 -8.2zM1527.0 1956.8l8.2 8.2l-8.2 8.2l-8.2 -8.2zM1520.0 1966.8l8.2 8.2l-8.2 8.2l-8.2 -8.2zM1527.0 1969.8l8.2 8.2l-8.2 8.2l-8.2 -8.2zM1515.4 1981.6l8.2 8.2l-8.2 8.2l-8.2 -8.2zM1505.0 1866.8l8.2 8.2l-8.2 8.2l-8.2 -8.2zM1512.0 1839.8l8.2 8.2l-8.2 8.2l-8.2 -8.2zM1539.3 1820.7l8.2 8.2l-8.2 8.2l-8.2 -8.2zM1501.5 1849.6l8.2 8.2l-8.2 8.2l-8.2 -8.2zM1540.3 1839.7l8.2 8.2l-8.2 8.2l-8.2 -8.2zM1526.4 1819.8l8.2 8.2l-8.2 8.2l-8.2 -8.2zM1517.6 1858.7l8.2 8.2l-8.2 8.2l-8.2 -8.2zM1537.2 1855.7l8.2 8.2l-8.2 8.2l-8.2 -8.2zM1543.8 1830.2l8.2 8.2l-8.2 8.2l-8.2 -8.2zM1504.9 1826.3l8.2 8.2l-8.2 8.2l-8.2 -8.2zM1523.5 1848.4l8.2 8.2l-8.2 8.2l-8.2 -8.2zM1542.4 1850.1l8.2 8.2l-8.2 8.2l-8.2 -8.2zM1529.1 1851.9l8.2 8.2l-8.2 8.2l-8.2 -8.2zM1520.6 1843.0l8.2 8.2l-8.2 8.2l-8.2 -8.2zM1501.8 1852.7l8.2 8.2l-8.2 8.2l-8.2 -8.2zM1510.5 1858.4l8.2 8.2l-8.2 8.2l-8.2 -8.2zM1529.7 1880.0l8.2 8.2l-8.2 8.2l-8.2 -8.2zM1505.9 1876.9l8.2 8.2l-8.2 8.2l-8.2 -8.2zM1529.3 1903.7l8.2 8.2l-8.2 8.2l-8.2 -8.2zM1505.2 1866.0l8.2 8.2l-8.2 8.2l-8.2 -8.2zM1524.1 1896.8l8.2 8.2l-8.2 8.2l-8.2 -8.2zM1517.9 1875.2l8.2 8.2l-8.2 8.2l-8.2 -8.2zM1527.6 1862.4l8.2 8.2l-8.2 8.2l-8.2 -8.2zM1513.9 1889.4l8.2 8.2l-8.2 8.2l-8.2 -8.2zM1544.1 1900.5l8.2 8.2l-8.2 8.2l-8.2 -8.2zM1540.7 1890.3l8.2 8.2l-8.2 8.2l-8.2 -8.2zM1510.8 1876.6l8.2 8.2l-8.2 8.2l-8.2 -8.2zM1544.2 1904.1l8.2 8.2l-8.2 8.2l-8.2 -8.2zM1514.1 1863.1l8.2 8.2l-8.2 8.2l-8.2 -8.2zM1522.9 1902.3l8.2 8.2l-8.2 8.2l-8.2 -8.2zM1519.3 1877.2l8.2 8.2l-8.2 8.2l-8.2 -8.2zM1530.7 1917.3l8.2 8.2l-8.2 8.2l-8.2 -8.2zM1510.4 1863.8l8.2 8.2l-8.2 8.2l-8.2 -8.2zM1515.6 1887.0l8.2 8.2l-8.2 8.2l-8.2 -8.2zM1531.4 1873.7l8.2 8.2l-8.2 8.2l-8.2 -8.2zM1536.7 1906.1l8.2 8.2l-8.2 8.2l-8.2 -8.2zM1522.2 1930.8l8.2 8.2l-8.2 8.2l-8.2 -8.2zM1537.0 1935.5l8.2 8.2l-8.2 8.2l-8.2 -8.2zM1532.2 1932.0l8.2 8.2l-8.2 8.2l-8.2 -8.2zM1513.1 1955.3l8.2 8.2l-8.2 8.2l-8.2 -8.2zM1515.4 1963.7l8.2 8.2l-8.2 8.2l-8.2 -8.2zM1521.9 1930.0l8.2 8.2l-8.2 8.2l-8.2 -8.2zM1513.1 1940.1l8.2 8.2l-8.2 8.2l-8.2 -8.2zM1527.3 1963.5l8.2 8.2l-8.2 8.2l-8.2 -8.2zM1510.7 1939.1l8.2 8.2l-8.2 8.2l-8.2 -8.2zM1512.8 1964.7l8.2 8.2l-8.2 8.2l-8.2 -8.2zM1510.5 1924.1l8.2 8.2l-8.2 8.2l-8.2 -8.2zM1507.9 1939.1l8.2 8.2l-8.2 8.2l-8.2 -8.2z" fill="#ec00ec"/>
<path d="M1703.6 1624.7l8.2 8.2l-8.2 8.2l-8.2 -8.2zM1720.5 1685.3l8.2 8.2l-8.2 8.2l-8.2 -8.2zM1693.7 1695.2l8.2 8.2l-8.2 8.2l-8.2 -8.2zM1728.5 1699.2l8.2 8.2l-8.2 8.2l-8.2 -8.2zM1717.6 1703.2l8.2 8.2l-8.2 8.2l-8.2 -8.2zM1728.5 1714.1l8.2 8.2l-8.2 8.2l-8.2 -8.2zM1703.6 1728.0l8.2 8.2l-8.2 8.2l-8.2 -8.2zM1693.7 1746.9l8.2 8.2l-8.2 8.2l-8.2 -8.2zM1699.7 1771.8l8.2 8.2l-8.2 8.2l-8.2 -8.2zM1706.6 1769.8l8.2 8.2l-8.2 8.2l-8.2 -8.2zM1724.5 1779.7l8.2 8.2l-8.2 8.2l-8.2 -8.2zM1684.8 1796.6l8.2 8.2l-8.2 8.2l-8.2 -8.2zM1692.7 1795.6l8.2 8.2l-8.2 8.2l-8.2 -8.2zM1698.7 1795.6l8.2 8.2l-8.2 8.2l-8.2 -8.2zM1714.6 1802.5l8.2 8.2l-8.2 8.2l-8.2 -8.2zM1715.6 1818.4l8.2 8.2l-8.2 8.2l-8.2 -8.2zM1709.0 1821.8l8.2 8.2l-8.2 8.2l-8.2 -8.2zM1707.6 1834.3l8.2 8.2l-8.2 8.2l-8.2 -8.2zM1713.0 1839.8l8.2 8.2l-8.2 8.2l-8.2 -8.2zM1703.6 1854.2l8.2 8.2l-8.2 8.2l-8.2 -8.2zM1717.6 1858.2l8.2 8.2l-8.2 8.2l-8.2 -8.2zM1709.0 1861.8l8.2 8.2l-8.2 8.2l-8.2 -8.2zM1711.6 1882.0l8.2 8.2l-8.2 8.2l-8.2 -8.2zM1715.6 1891.9l8.2 8.2l-8.2 8.2l-8.2 -8.2zM1708.0 1896.8l8.2 8.2l-8.2 8.2l-8.2 -8.2zM1714.0 1876.8l8.2 8.2l-8.2 8.2l-8.2 -8.2zM1691.7 1901.9l8.2 8.2l-8.2 8.2l-8.2 -8.2zM1732.5 1906.9l8.2 8.2l-8.2 8.2l-8.2 -8.2zM1684.8 1914.8l8.2 8.2l-8.2 8.2l-8.2 -8.2zM1701.7 1931.7l8.2 8.2l-8.2 8.2l-8.2 -8.2zM1717.6 1927.7l8.2 8.2l-8.2 8.2l-8.2 -8.2zM1709.0 1928.8l8.2 8.2l-8.2 8.2l-8.2 -8.2zM1685.8 1955.5l8.2 8.2l-8.2 8.2l-8.2 -8.2zM1703.6 1949.6l8.2 8.2l-8.2 8.2l-8.2 -8.2zM1729.5 1957.5l8.2 8.2l-8.2 8.2l-8.2 -8.2zM1689.7 1975.4l8.2 8.2l-8.2 8.2l-8.2 -8.2zM1699.0 1976.8l8.2 8.2l-8.2 8.2l-8.2 -8.2zM1709.0 1977.3l8.2 8.2l-8.2 8.2l-8.2 -8.2zM1719.0 1975.8l8.2 8.2l-8.2 8.2l-8.2 -8.2zM1729.0 1973.8l8.2 8.2l-8.2 8.2l-8.2 -8.2zM1731.5 1965.5l8.2 8.2l-8.2 8.2l-8.2 -8.2zM1708.0 1961.8l8.2 8.2l-8.2 8.2l-8.2 -8.2zM1718.0 1959.8l8.2 8.2l-8.2 8.2l-8.2 -8.2zM1696.0 1966.8l8.2 8.2l-8.2 8.2l-8.2 -8.2z" fill="#f28e18"/>
<path d="M1912.9 1698.0l8.2 8.2l-8.2 8.2l-8.2 -8.2zM1891.1 1718.3l8.2 8.2l-8.2 8.2l-8.2 -8.2zM1899.2 1723.9l8.2 8.2l-8.2 8.2l-8.2 -8.2zM1901.0 1728.8l8.2 8.2l-8.2 8.2l-8.2 -8.2zM1895.1 1733.7l8.2 8.2l-8.2 8.2l-8.2 -8.2zM1867.6 1747.4l8.2 8.2l-8.2 8.2l-8.2 -8.2zM1885.4 1764.5l8.2 8.2l-8.2 8.2l-8.2 -8.2zM1895.1 1761.2l8.2 8.2l-8.2 8.2l-8.2 -8.2zM1900.0 1764.8l8.2 8.2l-8.2 8.2l-8.2 -8.2zM1888.6 1787.1l8.2 8.2l-8.2 8.2l-8.2 -8.2zM1911.3 1791.2l8.2 8.2l-8.2 8.2l-8.2 -8.2zM1905.0 1796.8l8.2 8.2l-8.2 8.2l-8.2 -8.2zM1878.9 1806.6l8.2 8.2l-8.2 8.2l-8.2 -8.2zM1888.0 1803.8l8.2 8.2l-8.2 8.2l-8.2 -8.2zM1897.0 1808.8l8.2 8.2l-8.2 8.2l-8.2 -8.2zM1919.4 1811.5l8.2 8.2l-8.2 8.2l-8.2 -8.2zM1908.1 1819.6l8.2 8.2l-8.2 8.2l-8.2 -8.2zM1895.0 1821.8l8.2 8.2l-8.2 8.2l-8.2 -8.2zM1877.3 1835.8l8.2 8.2l-8.2 8.2l-8.2 -8.2zM1895.0 1831.8l8.2 8.2l-8.2 8.2l-8.2 -8.2zM1905.0 1839.8l8.2 8.2l-8.2 8.2l-8.2 -8.2zM1888.0 1843.8l8.2 8.2l-8.2 8.2l-8.2 -8.2zM1921.0 1850.4l8.2 8.2l-8.2 8.2l-8.2 -8.2zM1919.4 1858.5l8.2 8.2l-8.2 8.2l-8.2 -8.2zM1886.0 1851.8l8.2 8.2l-8.2 8.2l-8.2 -8.2zM1897.0 1853.8l8.2 8.2l-8.2 8.2l-8.2 -8.2zM1907.0 1847.8l8.2 8.2l-8.2 8.2l-8.2 -8.2zM1880.5 1868.2l8.2 8.2l-8.2 8.2l-8.2 -8.2zM1894.0 1869.8l8.2 8.2l-8.2 8.2l-8.2 -8.2zM1899.0 1875.8l8.2 8.2l-8.2 8.2l-8.2 -8.2zM1878.9 1884.4l8.2 8.2l-8.2 8.2l-8.2 -8.2zM1901.6 1884.4l8.2 8.2l-8.2 8.2l-8.2 -8.2zM1890.0 1886.8l8.2 8.2l-8.2 8.2l-8.2 -8.2zM1872.4 1899.8l8.2 8.2l-8.2 8.2l-8.2 -8.2zM1892.0 1895.8l8.2 8.2l-8.2 8.2l-8.2 -8.2zM1899.0 1905.8l8.2 8.2l-8.2 8.2l-8.2 -8.2zM1877.3 1918.4l8.2 8.2l-8.2 8.2l-8.2 -8.2zM1894.0 1914.8l8.2 8.2l-8.2 8.2l-8.2 -8.2zM1899.0 1921.8l8.2 8.2l-8.2 8.2l-8.2 -8.2zM1911.3 1931.4l8.2 8.2l-8.2 8.2l-8.2 -8.2zM1892.0 1927.8l8.2 8.2l-8.2 8.2l-8.2 -8.2zM1883.8 1941.1l8.2 8.2l-8.2 8.2l-8.2 -8.2zM1901.6 1942.7l8.2 8.2l-8.2 8.2l-8.2 -8.2zM1882.1 1949.2l8.2 8.2l-8.2 8.2l-8.2 -8.2zM1895.0 1947.8l8.2 8.2l-8.2 8.2l-8.2 -8.2zM1890.2 1960.6l8.2 8.2l-8.2 8.2l-8.2 -8.2zM1887.0 1973.5l8.2 8.2l-8.2 8.2l-8.2 -8.2zM1895.1 1975.2l8.2 8.2l-8.2 8.2l-8.2 -8.2zM1916.2 1971.9l8.2 8.2l-8.2 8.2l-8.2 -8.2zM1890.0 1861.8l8.2 8.2l-8.2 8.2l-8.2 -8.2zM1908.5 1946.4l8.2 8.2l-8.2 8.2l-8.2 -8.2zM1902.9 1966.4l8.2 8.2l-8.2 8.2l-8.2 -8.2zM1909.7 1849.4l8.2 8.2l-8.2 8.2l-8.2 -8.2zM1884.3 1955.6l8.2 8.2l-8.2 8.2l-8.2 -8.2zM1903.4 1797.4l8.2 8.2l-8.2 8.2l-8.2 -8.2zM1900.6 1858.1l8.2 8.2l-8.2 8.2l-8.2 -8.2zM1890.7 1849.8l8.2 8.2l-8.2 8.2l-8.2 -8.2zM1883.8 1792.3l8.2 8.2l-8.2 8.2l-8.2 -8.2zM1887.5 1853.3l8.2 8.2l-8.2 8.2l-8.2 -8.2zM1910.5 1813.4l8.2 8.2l-8.2 8.2l-8.2 -8.2zM1910.8 1828.1l8.2 8.2l-8.2 8.2l-8.2 -8.2zM1890.1 1935.6l8.2 8.2l-8.2 8.2l-8.2 -8.2zM1905.9 1867.5l8.2 8.2l-8.2 8.2l-8.2 -8.2zM1879.7 1874.7l8.2 8.2l-8.2 8.2l-8.2 -8.2zM1890.7 1952.7l8.2 8.2l-8.2 8.2l-8.2 -8.2zM1884.6 1855.5l8.2 8.2l-8.2 8.2l-8.2 -8.2zM1908.5 1797.1l8.2 8.2l-8.2 8.2l-8.2 -8.2zM1892.0 1933.9l8.2 8.2l-8.2 8.2l-8.2 -8.2zM1904.1 1798.9l8.2 8.2l-8.2 8.2l-8.2 -8.2zM1879.2 1802.8l8.2 8.2l-8.2 8.2l-8.2 -8.2zM1909.3 1836.8l8.2 8.2l-8.2 8.2l-8.2 -8.2zM1903.4 1949.0l8.2 8.2l-8.2 8.2l-8.2 -8.2z" fill="#1000ee"/>
<line x1="1524" y1="1555" x2="1677.9" y2="1555" stroke="#555" stroke-width="1.6" stroke-linecap="butt"/>
<line x1="1744.1" y1="1555" x2="1895" y2="1555" stroke="#555" stroke-width="1.6" stroke-linecap="butt"/>
<text x="1680.83" y="1560.94" font-size="16.5" font-weight="normal" fill="#222" stroke="#222" stroke-width="0.3">p = 0.01</text>
<line x1="1339" y1="1588.5" x2="1490.5" y2="1588.5" stroke="#555" stroke-width="1.6" stroke-linecap="butt"/>
<line x1="1547.5" y1="1588.5" x2="1710" y2="1588.5" stroke="#555" stroke-width="1.6" stroke-linecap="butt"/>
<text x="1493.42" y="1594.44" font-size="16.5" font-weight="normal" fill="#222" stroke="#222" stroke-width="0.3">p = 0.7</text>
<line x1="1339" y1="1621" x2="1404" y2="1621" stroke="#555" stroke-width="1.6" stroke-linecap="butt"/>
<line x1="1461" y1="1621" x2="1524" y2="1621" stroke="#555" stroke-width="1.6" stroke-linecap="butt"/>
<text x="1406.92" y="1626.94" font-size="16.5" font-weight="normal" fill="#222" stroke="#222" stroke-width="0.3">p = 0.2</text>
</svg>
</body></html>
